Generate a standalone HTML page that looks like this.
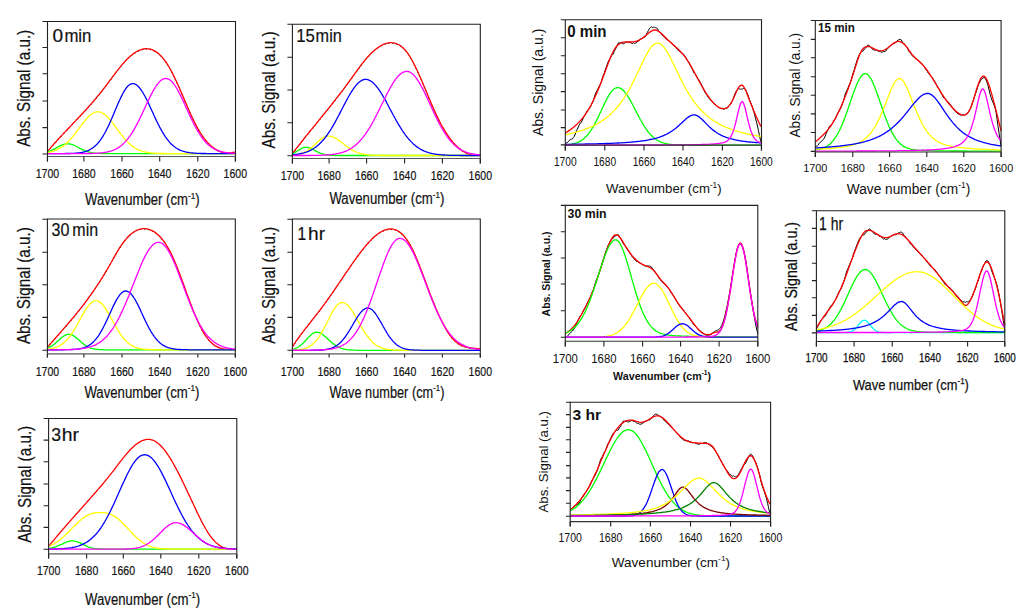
<!DOCTYPE html>
<html><head><meta charset="utf-8"><style>
html,body{margin:0;padding:0;background:#fff;}
svg{display:block;}
</style></head><body>
<svg width="1024" height="612" viewBox="0 0 1024 612">
<rect width="1024" height="612" fill="#fff"/>
<g fill="none" stroke-width="1.3" stroke-linejoin="round">
<polyline points="47.5,152.0 48.5,150.8 49.5,149.7 50.5,148.5 51.5,147.3 52.5,146.2 53.5,145.0 54.5,143.9 55.5,142.8 56.5,141.7 57.5,140.6 58.5,139.5 59.5,138.4 60.5,137.3 61.5,136.2 62.5,135.2 63.5,134.1 64.5,133.0 65.5,132.0 66.5,130.9 67.5,129.9 68.5,128.8 69.5,127.8 70.5,126.7 71.5,125.7 72.5,124.6 73.5,123.6 74.5,122.5 75.5,121.5 76.5,120.4 77.5,119.4 78.5,118.3 79.5,117.3 80.5,116.2 81.5,115.1 82.5,114.0 83.5,113.0 84.5,111.9 85.5,110.8 86.5,109.7 87.5,108.6 88.5,107.5 89.5,106.4 90.5,105.2 91.5,104.1 92.5,102.9 93.5,101.8 94.5,100.6 95.5,99.4 96.5,98.2 97.5,97.0 98.5,95.8 99.5,94.6 100.5,93.3 101.5,92.1 102.5,90.8 103.5,89.5 104.5,88.2 105.5,86.9 106.5,85.6 107.5,84.2 108.5,82.9 109.5,81.5 110.5,80.2 111.5,78.9 112.5,77.5 113.5,76.2 114.5,74.9 115.5,73.5 116.5,72.2 117.5,71.0 118.5,69.7 119.5,68.4 120.5,67.2 121.5,66.0 122.5,64.8 123.5,63.7 124.5,62.6 125.5,61.5 126.5,60.4 127.5,59.4 128.5,58.4 129.5,57.5 130.5,56.6 131.5,55.8 132.5,55.0 133.5,54.2 134.5,53.5 135.5,52.9 136.5,52.3 137.5,51.7 138.5,51.2 139.5,50.8 140.5,50.4 141.5,50.1 142.5,49.8 143.5,49.6 144.5,49.4 145.5,49.3 146.5,49.3 147.5,49.4 148.5,49.5 149.5,49.6 150.5,49.8 151.5,50.1 152.5,50.5 153.5,51.0 154.5,51.5 155.5,52.0 156.5,52.7 157.5,53.4 158.5,54.2 159.5,55.1 160.5,56.1 161.5,57.1 162.5,58.2 163.5,59.4 164.5,60.7 165.5,62.0 166.5,63.5 167.5,65.0 168.5,66.6 169.5,68.3 170.5,70.1 171.5,72.0 172.5,73.9 173.5,75.9 174.5,78.0 175.5,80.1 176.5,82.2 177.5,84.4 178.5,86.7 179.5,88.9 180.5,91.2 181.5,93.5 182.5,95.9 183.5,98.2 184.5,100.5 185.5,102.9 186.5,105.2 187.5,107.5 188.5,109.8 189.5,112.0 190.5,114.3 191.5,116.5 192.5,118.6 193.5,120.7 194.5,122.8 195.5,124.7 196.5,126.7 197.5,128.5 198.5,130.3 199.5,132.0 200.5,133.6 201.5,135.1 202.5,136.6 203.5,138.0 204.5,139.4 205.5,140.6 206.5,141.8 207.5,143.0 208.5,144.0 209.5,145.0 210.5,146.0 211.5,146.8 212.5,147.7 213.5,148.4 214.5,149.1 215.5,149.8 216.5,150.4 217.5,150.9 218.5,151.4 219.5,151.8 220.5,152.2 221.5,152.5 222.5,152.8 223.5,153.0 224.5,153.2 225.5,153.3 226.5,153.4 227.5,153.5 228.5,153.5 229.5,153.4 230.5,153.4 231.5,153.3 232.5,153.1 233.5,152.9 234.5,152.7 235.5,152.4" stroke="#000" stroke-width="1.0" stroke-dasharray="1 3"/>
<polyline points="47.5,151.4 48.5,150.2 49.5,149.1 50.5,147.9 51.5,146.7 52.5,145.6 53.5,144.4 54.5,143.3 55.5,142.2 56.5,141.1 57.5,140.0 58.5,138.9 59.5,137.8 60.5,136.7 61.5,135.6 62.5,134.6 63.5,133.5 64.5,132.4 65.5,131.4 66.5,130.3 67.5,129.3 68.5,128.2 69.5,127.2 70.5,126.1 71.5,125.1 72.5,124.0 73.5,123.0 74.5,121.9 75.5,120.9 76.5,119.8 77.5,118.8 78.5,117.7 79.5,116.7 80.5,115.6 81.5,114.5 82.5,113.4 83.5,112.4 84.5,111.3 85.5,110.2 86.5,109.1 87.5,108.0 88.5,106.9 89.5,105.8 90.5,104.6 91.5,103.5 92.5,102.3 93.5,101.2 94.5,100.0 95.5,98.8 96.5,97.6 97.5,96.4 98.5,95.2 99.5,94.0 100.5,92.7 101.5,91.5 102.5,90.2 103.5,88.9 104.5,87.6 105.5,86.3 106.5,85.0 107.5,83.6 108.5,82.3 109.5,80.9 110.5,79.6 111.5,78.3 112.5,76.9 113.5,75.6 114.5,74.3 115.5,72.9 116.5,71.6 117.5,70.4 118.5,69.1 119.5,67.8 120.5,66.6 121.5,65.4 122.5,64.2 123.5,63.1 124.5,62.0 125.5,60.9 126.5,59.8 127.5,58.8 128.5,57.8 129.5,56.9 130.5,56.0 131.5,55.2 132.5,54.4 133.5,53.6 134.5,52.9 135.5,52.3 136.5,51.7 137.5,51.1 138.5,50.6 139.5,50.2 140.5,49.8 141.5,49.5 142.5,49.2 143.5,49.0 144.5,48.8 145.5,48.7 146.5,48.7 147.5,48.8 148.5,48.9 149.5,49.0 150.5,49.2 151.5,49.5 152.5,49.9 153.5,50.4 154.5,50.9 155.5,51.4 156.5,52.1 157.5,52.8 158.5,53.6 159.5,54.5 160.5,55.5 161.5,56.5 162.5,57.6 163.5,58.8 164.5,60.1 165.5,61.4 166.5,62.9 167.5,64.4 168.5,66.0 169.5,67.7 170.5,69.5 171.5,71.4 172.5,73.3 173.5,75.3 174.5,77.4 175.5,79.5 176.5,81.6 177.5,83.8 178.5,86.1 179.5,88.3 180.5,90.6 181.5,92.9 182.5,95.3 183.5,97.6 184.5,99.9 185.5,102.3 186.5,104.6 187.5,106.9 188.5,109.2 189.5,111.4 190.5,113.7 191.5,115.9 192.5,118.0 193.5,120.1 194.5,122.2 195.5,124.1 196.5,126.1 197.5,127.9 198.5,129.7 199.5,131.4 200.5,133.0 201.5,134.5 202.5,136.0 203.5,137.4 204.5,138.8 205.5,140.0 206.5,141.2 207.5,142.4 208.5,143.4 209.5,144.4 210.5,145.4 211.5,146.2 212.5,147.1 213.5,147.8 214.5,148.5 215.5,149.2 216.5,149.8 217.5,150.3 218.5,150.8 219.5,151.2 220.5,151.6 221.5,151.9 222.5,152.2 223.5,152.4 224.5,152.6 225.5,152.7 226.5,152.8 227.5,152.9 228.5,152.9 229.5,152.8 230.5,152.8 231.5,152.7 232.5,152.5 233.5,152.3 234.5,152.1 235.5,151.8" stroke="#f00" stroke-width="1.3"/>
<polyline points="47.5,151.8 48.5,151.4 49.5,151.1 50.5,150.7 51.5,150.3 52.5,149.8 53.5,149.3 54.5,148.8 55.5,148.3 56.5,147.7 57.5,147.2 58.5,146.7 59.5,146.2 60.5,145.7 61.5,145.2 62.5,144.8 63.5,144.5 64.5,144.2 65.5,144.0 66.5,143.9 67.5,143.8 68.5,143.8 69.5,143.9 70.5,144.1 71.5,144.4 72.5,144.7 73.5,145.1 74.5,145.5 75.5,146.0 76.5,146.5 77.5,147.0 78.5,147.5 79.5,148.1 80.5,148.6 81.5,149.1 82.5,149.6 83.5,150.1 84.5,150.5 85.5,150.9 86.5,151.3 87.5,151.6 88.5,151.9 89.5,152.2 90.5,152.4 91.5,152.6 92.5,152.8 93.5,153.0 94.5,153.1 95.5,153.2 96.5,153.3 97.5,153.3 98.5,153.4 99.5,153.4 100.5,153.5 101.5,153.5 102.5,153.5 103.5,153.5 104.5,153.6 105.5,153.6 106.5,153.6 107.5,153.6 108.5,153.6 109.5,153.6 110.5,153.6 111.5,153.6 112.5,153.6 113.5,153.6 114.5,153.6 115.5,153.6 116.5,153.6 117.5,153.6 118.5,153.6 119.5,153.6 120.5,153.6 121.5,153.6 122.5,153.6 123.5,153.6 124.5,153.6 125.5,153.6 126.5,153.6 127.5,153.6 128.5,153.6 129.5,153.6 130.5,153.6 131.5,153.6 132.5,153.6 133.5,153.6 134.5,153.6 135.5,153.6 136.5,153.6 137.5,153.6 138.5,153.6 139.5,153.6 140.5,153.6 141.5,153.6 142.5,153.6 143.5,153.6 144.5,153.6 145.5,153.6 146.5,153.6 147.5,153.6 148.5,153.6 149.5,153.6 150.5,153.6 151.5,153.6 152.5,153.6 153.5,153.6 154.5,153.6 155.5,153.6 156.5,153.6 157.5,153.6 158.5,153.6 159.5,153.6 160.5,153.6 161.5,153.6 162.5,153.6 163.5,153.6 164.5,153.6 165.5,153.6 166.5,153.6 167.5,153.6 168.5,153.6 169.5,153.6 170.5,153.6 171.5,153.6 172.5,153.6 173.5,153.6 174.5,153.6 175.5,153.6 176.5,153.6 177.5,153.6 178.5,153.6 179.5,153.6 180.5,153.6 181.5,153.6 182.5,153.6 183.5,153.6 184.5,153.6 185.5,153.6 186.5,153.6 187.5,153.6 188.5,153.6 189.5,153.6 190.5,153.6 191.5,153.6 192.5,153.6 193.5,153.6 194.5,153.6 195.5,153.6 196.5,153.6 197.5,153.6 198.5,153.6 199.5,153.6 200.5,153.6 201.5,153.6 202.5,153.6 203.5,153.6 204.5,153.6 205.5,153.6 206.5,153.6 207.5,153.6 208.5,153.6 209.5,153.6 210.5,153.6 211.5,153.6 212.5,153.6 213.5,153.6 214.5,153.6 215.5,153.6 216.5,153.6 217.5,153.6 218.5,153.6 219.5,153.6 220.5,153.6 221.5,153.6 222.5,153.6 223.5,153.6 224.5,153.6 225.5,153.6 226.5,153.6 227.5,153.6 228.5,153.6 229.5,153.6 230.5,153.6 231.5,153.6 232.5,153.6 233.5,153.6 234.5,153.6 235.5,153.6" stroke="#00ff00"/>
<polyline points="47.5,152.4 48.5,152.3 49.5,152.1 50.5,151.8 51.5,151.6 52.5,151.3 53.5,151.0 54.5,150.7 55.5,150.3 56.5,149.9 57.5,149.4 58.5,148.9 59.5,148.4 60.5,147.8 61.5,147.2 62.5,146.5 63.5,145.8 64.5,145.0 65.5,144.1 66.5,143.2 67.5,142.3 68.5,141.3 69.5,140.3 70.5,139.2 71.5,138.0 72.5,136.9 73.5,135.6 74.5,134.4 75.5,133.1 76.5,131.8 77.5,130.5 78.5,129.1 79.5,127.8 80.5,126.4 81.5,125.1 82.5,123.8 83.5,122.5 84.5,121.3 85.5,120.0 86.5,118.9 87.5,117.8 88.5,116.8 89.5,115.8 90.5,115.0 91.5,114.2 92.5,113.5 93.5,113.0 94.5,112.5 95.5,112.2 96.5,111.9 97.5,111.8 98.5,111.8 99.5,111.9 100.5,112.2 101.5,112.5 102.5,113.0 103.5,113.6 104.5,114.3 105.5,115.1 106.5,116.0 107.5,117.0 108.5,118.0 109.5,119.1 110.5,120.3 111.5,121.6 112.5,122.8 113.5,124.2 114.5,125.5 115.5,126.9 116.5,128.2 117.5,129.6 118.5,131.0 119.5,132.3 120.5,133.6 121.5,134.9 122.5,136.2 123.5,137.4 124.5,138.6 125.5,139.7 126.5,140.8 127.5,141.9 128.5,142.8 129.5,143.8 130.5,144.6 131.5,145.5 132.5,146.2 133.5,146.9 134.5,147.6 135.5,148.2 136.5,148.8 137.5,149.3 138.5,149.8 139.5,150.2 140.5,150.6 141.5,151.0 142.5,151.3 143.5,151.6 144.5,151.8 145.5,152.0 146.5,152.2 147.5,152.4 148.5,152.6 149.5,152.7 150.5,152.8 151.5,153.0 152.5,153.1 153.5,153.1 154.5,153.2 155.5,153.3 156.5,153.3 157.5,153.4 158.5,153.4 159.5,153.4 160.5,153.5 161.5,153.5 162.5,153.5 163.5,153.5 164.5,153.5 165.5,153.5 166.5,153.6 167.5,153.6 168.5,153.6 169.5,153.6 170.5,153.6 171.5,153.6 172.5,153.6 173.5,153.6 174.5,153.6 175.5,153.6 176.5,153.6 177.5,153.6 178.5,153.6 179.5,153.6 180.5,153.6 181.5,153.6 182.5,153.6 183.5,153.6 184.5,153.6 185.5,153.6 186.5,153.6 187.5,153.6 188.5,153.6 189.5,153.6 190.5,153.6 191.5,153.6 192.5,153.6 193.5,153.6 194.5,153.6 195.5,153.6 196.5,153.6 197.5,153.6 198.5,153.6 199.5,153.6 200.5,153.6 201.5,153.6 202.5,153.6 203.5,153.6 204.5,153.6 205.5,153.6 206.5,153.6 207.5,153.6 208.5,153.6 209.5,153.6 210.5,153.6 211.5,153.6 212.5,153.6 213.5,153.6 214.5,153.6 215.5,153.6 216.5,153.6 217.5,153.6 218.5,153.6 219.5,153.6 220.5,153.6 221.5,153.6 222.5,153.6 223.5,153.6 224.5,153.6 225.5,153.6 226.5,153.6 227.5,153.6 228.5,153.6 229.5,153.6 230.5,153.6 231.5,153.6 232.5,153.6 233.5,153.6 234.5,153.6 235.5,153.6" stroke="#ffff00"/>
<polyline points="47.5,153.6 48.5,153.6 49.5,153.6 50.5,153.6 51.5,153.6 52.5,153.6 53.5,153.6 54.5,153.6 55.5,153.6 56.5,153.6 57.5,153.6 58.5,153.6 59.5,153.6 60.5,153.6 61.5,153.6 62.5,153.6 63.5,153.6 64.5,153.6 65.5,153.5 66.5,153.5 67.5,153.5 68.5,153.5 69.5,153.5 70.5,153.4 71.5,153.4 72.5,153.4 73.5,153.3 74.5,153.3 75.5,153.2 76.5,153.1 77.5,153.0 78.5,152.9 79.5,152.8 80.5,152.6 81.5,152.5 82.5,152.3 83.5,152.0 84.5,151.8 85.5,151.5 86.5,151.2 87.5,150.8 88.5,150.4 89.5,149.9 90.5,149.3 91.5,148.7 92.5,148.1 93.5,147.3 94.5,146.5 95.5,145.6 96.5,144.7 97.5,143.6 98.5,142.5 99.5,141.2 100.5,139.9 101.5,138.4 102.5,136.9 103.5,135.3 104.5,133.5 105.5,131.7 106.5,129.8 107.5,127.8 108.5,125.7 109.5,123.6 110.5,121.3 111.5,119.1 112.5,116.7 113.5,114.4 114.5,112.0 115.5,109.6 116.5,107.3 117.5,104.9 118.5,102.6 119.5,100.4 120.5,98.2 121.5,96.1 122.5,94.2 123.5,92.3 124.5,90.6 125.5,89.1 126.5,87.7 127.5,86.5 128.5,85.5 129.5,84.7 130.5,84.1 131.5,83.8 132.5,83.6 133.5,83.7 134.5,83.9 135.5,84.3 136.5,84.9 137.5,85.7 138.5,86.7 139.5,87.8 140.5,89.1 141.5,90.5 142.5,92.0 143.5,93.7 144.5,95.5 145.5,97.3 146.5,99.3 147.5,101.3 148.5,103.4 149.5,105.6 150.5,107.7 151.5,109.9 152.5,112.1 153.5,114.3 154.5,116.5 155.5,118.6 156.5,120.7 157.5,122.8 158.5,124.8 159.5,126.7 160.5,128.6 161.5,130.4 162.5,132.2 163.5,133.8 164.5,135.4 165.5,136.9 166.5,138.3 167.5,139.7 168.5,140.9 169.5,142.1 170.5,143.2 171.5,144.2 172.5,145.1 173.5,146.0 174.5,146.8 175.5,147.5 176.5,148.2 177.5,148.8 178.5,149.3 179.5,149.8 180.5,150.3 181.5,150.7 182.5,151.0 183.5,151.4 184.5,151.6 185.5,151.9 186.5,152.1 187.5,152.3 188.5,152.5 189.5,152.7 190.5,152.8 191.5,152.9 192.5,153.0 193.5,153.1 194.5,153.2 195.5,153.2 196.5,153.3 197.5,153.3 198.5,153.4 199.5,153.4 200.5,153.4 201.5,153.5 202.5,153.5 203.5,153.5 204.5,153.5 205.5,153.5 206.5,153.6 207.5,153.6 208.5,153.6 209.5,153.6 210.5,153.6 211.5,153.6 212.5,153.6 213.5,153.6 214.5,153.6 215.5,153.6 216.5,153.6 217.5,153.6 218.5,153.6 219.5,153.6 220.5,153.6 221.5,153.6 222.5,153.6 223.5,153.6 224.5,153.6 225.5,153.6 226.5,153.6 227.5,153.6 228.5,153.6 229.5,153.6 230.5,153.6 231.5,153.6 232.5,153.6 233.5,153.6 234.5,153.6 235.5,153.6" stroke="#0000ff"/>
<polyline points="47.5,153.6 48.5,153.6 49.5,153.6 50.5,153.6 51.5,153.6 52.5,153.6 53.5,153.6 54.5,153.6 55.5,153.6 56.5,153.6 57.5,153.6 58.5,153.6 59.5,153.6 60.5,153.6 61.5,153.6 62.5,153.6 63.5,153.6 64.5,153.6 65.5,153.6 66.5,153.6 67.5,153.6 68.5,153.6 69.5,153.6 70.5,153.6 71.5,153.6 72.5,153.6 73.5,153.6 74.5,153.6 75.5,153.6 76.5,153.6 77.5,153.6 78.5,153.6 79.5,153.6 80.5,153.6 81.5,153.6 82.5,153.6 83.5,153.6 84.5,153.6 85.5,153.5 86.5,153.5 87.5,153.5 88.5,153.5 89.5,153.5 90.5,153.5 91.5,153.5 92.5,153.4 93.5,153.4 94.5,153.4 95.5,153.3 96.5,153.3 97.5,153.2 98.5,153.1 99.5,153.1 100.5,153.0 101.5,152.9 102.5,152.8 103.5,152.7 104.5,152.5 105.5,152.4 106.5,152.2 107.5,152.0 108.5,151.7 109.5,151.5 110.5,151.2 111.5,150.9 112.5,150.5 113.5,150.2 114.5,149.7 115.5,149.3 116.5,148.7 117.5,148.2 118.5,147.6 119.5,146.9 120.5,146.2 121.5,145.4 122.5,144.5 123.5,143.6 124.5,142.6 125.5,141.6 126.5,140.4 127.5,139.2 128.5,137.9 129.5,136.6 130.5,135.2 131.5,133.7 132.5,132.1 133.5,130.4 134.5,128.7 135.5,126.9 136.5,125.1 137.5,123.1 138.5,121.2 139.5,119.2 140.5,117.1 141.5,115.0 142.5,112.9 143.5,110.7 144.5,108.6 145.5,106.4 146.5,104.2 147.5,102.1 148.5,100.0 149.5,97.9 150.5,95.9 151.5,94.0 152.5,92.1 153.5,90.3 154.5,88.6 155.5,87.0 156.5,85.5 157.5,84.1 158.5,82.9 159.5,81.8 160.5,80.8 161.5,80.0 162.5,79.4 163.5,78.9 164.5,78.6 165.5,78.5 166.5,78.5 167.5,78.8 168.5,79.1 169.5,79.7 170.5,80.4 171.5,81.3 172.5,82.4 173.5,83.6 174.5,84.9 175.5,86.4 176.5,88.0 177.5,89.7 178.5,91.6 179.5,93.5 180.5,95.4 181.5,97.5 182.5,99.6 183.5,101.8 184.5,104.0 185.5,106.2 186.5,108.4 187.5,110.6 188.5,112.8 189.5,115.0 190.5,117.1 191.5,119.2 192.5,121.3 193.5,123.3 194.5,125.3 195.5,127.2 196.5,129.0 197.5,130.7 198.5,132.4 199.5,134.0 200.5,135.5 201.5,137.0 202.5,138.3 203.5,139.6 204.5,140.8 205.5,142.0 206.5,143.0 207.5,144.0 208.5,144.9 209.5,145.8 210.5,146.5 211.5,147.3 212.5,147.9 213.5,148.5 214.5,149.1 215.5,149.6 216.5,150.0 217.5,150.4 218.5,150.8 219.5,151.1 220.5,151.4 221.5,151.7 222.5,151.9 223.5,152.1 224.5,152.3 225.5,152.5 226.5,152.6 227.5,152.8 228.5,152.9 229.5,153.0 230.5,153.1 231.5,153.1 232.5,153.2 233.5,153.3 234.5,153.3 235.5,153.4" stroke="#ff00ff"/>
</g>
<g stroke="#222" stroke-width="1.1" fill="none">
<path d="M47.5,161.5V21.5H235.5V161.5"/>
<path d="M47.5,156.5H235.5" stroke="#5a5a5a"/>
<path d="M42.5,21.5H47.5M42.5,47.5H47.5M42.5,73.8H47.5M42.5,101.0H47.5M42.5,127.6H47.5M42.5,154.0H47.5M47.4,156.5V161.5M83.9,156.5V161.5M122.0,156.5V161.5M159.7,156.5V161.5M197.8,156.5V161.5M235.3,156.5V161.5"/>
</g>
<g font-family='"Liberation Sans", sans-serif' fill="#111" stroke="#111" stroke-width="0.2">
<text x="52.6" y="41.7" font-size="18.3" textLength="10.6" lengthAdjust="spacingAndGlyphs">0</text>
<text x="64.4" y="41.7" font-size="18.3" textLength="27.0" lengthAdjust="spacingAndGlyphs">min</text>
<text x="29.8" y="146.8" font-size="18.7" textLength="117.0" lengthAdjust="spacingAndGlyphs" transform="rotate(-90 29.8 146.8)">Abs. Signal (a.u.)</text>
<text x="47.4" y="178.0" font-size="13.5" text-anchor="middle" textLength="23.4" lengthAdjust="spacingAndGlyphs">1700</text>
<text x="83.9" y="178.0" font-size="13.5" text-anchor="middle" textLength="23.4" lengthAdjust="spacingAndGlyphs">1680</text>
<text x="122.0" y="178.0" font-size="13.5" text-anchor="middle" textLength="23.4" lengthAdjust="spacingAndGlyphs">1660</text>
<text x="159.7" y="178.0" font-size="13.5" text-anchor="middle" textLength="23.4" lengthAdjust="spacingAndGlyphs">1640</text>
<text x="197.8" y="178.0" font-size="13.5" text-anchor="middle" textLength="23.4" lengthAdjust="spacingAndGlyphs">1620</text>
<text x="235.3" y="178.0" font-size="13.5" text-anchor="middle" textLength="23.4" lengthAdjust="spacingAndGlyphs">1600</text>
<text x="85.0" y="205.3" font-size="16" textLength="114.5" lengthAdjust="spacingAndGlyphs">Wavenumber (cm<tspan font-size="9.9" dy="-6.7">-1</tspan><tspan dy="6.7">)</tspan></text>
</g>
<g fill="none" stroke-width="1.3" stroke-linejoin="round">
<polyline points="292.4,154.2 293.4,152.9 294.4,151.6 295.4,150.3 296.4,149.0 297.4,147.7 298.4,146.4 299.4,145.1 300.4,143.9 301.4,142.6 302.4,141.3 303.4,140.1 304.4,138.8 305.4,137.5 306.4,136.3 307.4,135.0 308.4,133.8 309.4,132.6 310.4,131.3 311.4,130.1 312.4,128.9 313.4,127.6 314.4,126.4 315.4,125.2 316.4,123.9 317.4,122.7 318.4,121.5 319.4,120.2 320.4,119.0 321.4,117.8 322.4,116.6 323.4,115.3 324.4,114.1 325.4,112.8 326.4,111.6 327.4,110.4 328.4,109.1 329.4,107.9 330.4,106.6 331.4,105.4 332.4,104.1 333.4,102.8 334.4,101.6 335.4,100.3 336.4,99.0 337.4,97.7 338.4,96.4 339.4,95.1 340.4,93.8 341.4,92.5 342.4,91.2 343.4,89.9 344.4,88.5 345.4,87.2 346.4,85.8 347.4,84.5 348.4,83.1 349.4,81.7 350.4,80.3 351.4,79.0 352.4,77.6 353.4,76.2 354.4,74.8 355.4,73.4 356.4,72.0 357.4,70.6 358.4,69.3 359.4,67.9 360.4,66.6 361.4,65.3 362.4,64.0 363.4,62.7 364.4,61.4 365.4,60.2 366.4,59.0 367.4,57.9 368.4,56.8 369.4,55.7 370.4,54.6 371.4,53.6 372.4,52.7 373.4,51.8 374.4,50.9 375.4,50.1 376.4,49.3 377.4,48.5 378.4,47.8 379.4,47.2 380.4,46.6 381.4,46.0 382.4,45.5 383.4,45.0 384.4,44.6 385.4,44.3 386.4,44.0 387.3,43.7 388.3,43.5 389.3,43.4 390.3,43.3 391.3,43.3 392.3,43.4 393.3,43.5 394.3,43.6 395.3,43.9 396.3,44.2 397.3,44.6 398.3,45.1 399.3,45.6 400.3,46.2 401.3,47.0 402.3,47.8 403.3,48.7 404.3,49.7 405.3,50.8 406.3,52.0 407.3,53.3 408.3,54.8 409.3,56.3 410.3,57.9 411.3,59.6 412.3,61.4 413.3,63.3 414.3,65.2 415.3,67.2 416.3,69.3 417.3,71.4 418.3,73.6 419.3,75.8 420.3,78.1 421.3,80.4 422.3,82.7 423.3,85.1 424.3,87.4 425.3,89.8 426.3,92.2 427.3,94.6 428.3,97.0 429.3,99.4 430.3,101.7 431.3,104.1 432.3,106.4 433.3,108.7 434.3,110.9 435.3,113.1 436.3,115.3 437.3,117.4 438.3,119.5 439.3,121.5 440.3,123.4 441.3,125.3 442.3,127.1 443.3,128.8 444.3,130.5 445.3,132.2 446.3,133.7 447.3,135.3 448.3,136.7 449.3,138.1 450.3,139.5 451.3,140.8 452.3,142.0 453.3,143.2 454.3,144.3 455.3,145.4 456.3,146.4 457.3,147.4 458.3,148.3 459.3,149.1 460.3,149.9 461.3,150.7 462.3,151.4 463.3,152.0 464.3,152.6 465.3,153.1 466.3,153.6 467.3,154.1 468.3,154.4 469.3,154.8 470.3,155.0 471.3,155.3 472.3,155.5 473.3,155.6 474.3,155.7 475.3,155.7 476.3,155.7 477.3,155.6 478.3,155.5 479.3,155.3 480.3,155.1" stroke="#000" stroke-width="1.0" stroke-dasharray="1 3"/>
<polyline points="292.4,153.6 293.4,152.3 294.4,151.0 295.4,149.7 296.4,148.4 297.4,147.1 298.4,145.8 299.4,144.5 300.4,143.3 301.4,142.0 302.4,140.7 303.4,139.5 304.4,138.2 305.4,136.9 306.4,135.7 307.4,134.4 308.4,133.2 309.4,132.0 310.4,130.7 311.4,129.5 312.4,128.3 313.4,127.0 314.4,125.8 315.4,124.6 316.4,123.3 317.4,122.1 318.4,120.9 319.4,119.6 320.4,118.4 321.4,117.2 322.4,116.0 323.4,114.7 324.4,113.5 325.4,112.2 326.4,111.0 327.4,109.8 328.4,108.5 329.4,107.3 330.4,106.0 331.4,104.8 332.4,103.5 333.4,102.2 334.4,101.0 335.4,99.7 336.4,98.4 337.4,97.1 338.4,95.8 339.4,94.5 340.4,93.2 341.4,91.9 342.4,90.6 343.4,89.3 344.4,87.9 345.4,86.6 346.4,85.2 347.4,83.9 348.4,82.5 349.4,81.1 350.4,79.7 351.4,78.4 352.4,77.0 353.4,75.6 354.4,74.2 355.4,72.8 356.4,71.4 357.4,70.0 358.4,68.7 359.4,67.3 360.4,66.0 361.4,64.7 362.4,63.4 363.4,62.1 364.4,60.8 365.4,59.6 366.4,58.4 367.4,57.3 368.4,56.2 369.4,55.1 370.4,54.0 371.4,53.0 372.4,52.1 373.4,51.2 374.4,50.3 375.4,49.5 376.4,48.7 377.4,47.9 378.4,47.2 379.4,46.6 380.4,46.0 381.4,45.4 382.4,44.9 383.4,44.4 384.4,44.0 385.4,43.7 386.4,43.4 387.3,43.1 388.3,42.9 389.3,42.8 390.3,42.7 391.3,42.7 392.3,42.8 393.3,42.9 394.3,43.0 395.3,43.3 396.3,43.6 397.3,44.0 398.3,44.5 399.3,45.0 400.3,45.6 401.3,46.4 402.3,47.2 403.3,48.1 404.3,49.1 405.3,50.2 406.3,51.4 407.3,52.7 408.3,54.2 409.3,55.7 410.3,57.3 411.3,59.0 412.3,60.8 413.3,62.7 414.3,64.6 415.3,66.6 416.3,68.7 417.3,70.8 418.3,73.0 419.3,75.2 420.3,77.5 421.3,79.8 422.3,82.1 423.3,84.5 424.3,86.8 425.3,89.2 426.3,91.6 427.3,94.0 428.3,96.4 429.3,98.8 430.3,101.1 431.3,103.5 432.3,105.8 433.3,108.1 434.3,110.3 435.3,112.5 436.3,114.7 437.3,116.8 438.3,118.9 439.3,120.9 440.3,122.8 441.3,124.7 442.3,126.5 443.3,128.2 444.3,129.9 445.3,131.6 446.3,133.1 447.3,134.7 448.3,136.1 449.3,137.5 450.3,138.9 451.3,140.2 452.3,141.4 453.3,142.6 454.3,143.7 455.3,144.8 456.3,145.8 457.3,146.8 458.3,147.7 459.3,148.5 460.3,149.3 461.3,150.1 462.3,150.8 463.3,151.4 464.3,152.0 465.3,152.5 466.3,153.0 467.3,153.5 468.3,153.8 469.3,154.2 470.3,154.4 471.3,154.7 472.3,154.9 473.3,155.0 474.3,155.1 475.3,155.1 476.3,155.1 477.3,155.0 478.3,154.9 479.3,154.7 480.3,154.5" stroke="#f00" stroke-width="1.3"/>
<polyline points="292.4,153.7 293.4,153.3 294.4,152.8 295.4,152.2 296.4,151.6 297.4,151.0 298.4,150.3 299.4,149.7 300.4,149.1 301.4,148.5 302.4,148.0 303.4,147.7 304.4,147.4 305.4,147.3 306.4,147.3 307.4,147.4 308.4,147.6 309.4,147.9 310.4,148.3 311.4,148.7 312.4,149.2 313.4,149.7 314.4,150.3 315.4,150.8 316.4,151.3 317.4,151.9 318.4,152.3 319.4,152.8 320.4,153.2 321.4,153.6 322.4,153.9 323.4,154.2 324.4,154.5 325.4,154.7 326.4,154.9 327.4,155.0 328.4,155.1 329.4,155.2 330.4,155.3 331.4,155.3 332.4,155.4 333.4,155.4 334.4,155.4 335.4,155.5 336.4,155.5 337.4,155.5 338.4,155.5 339.4,155.5 340.4,155.5 341.4,155.5 342.4,155.5 343.4,155.5 344.4,155.5 345.4,155.5 346.4,155.5 347.4,155.5 348.4,155.5 349.4,155.5 350.4,155.5 351.4,155.5 352.4,155.5 353.4,155.5 354.4,155.5 355.4,155.5 356.4,155.5 357.4,155.5 358.4,155.5 359.4,155.5 360.4,155.5 361.4,155.5 362.4,155.5 363.4,155.5 364.4,155.5 365.4,155.5 366.4,155.5 367.4,155.5 368.4,155.5 369.4,155.5 370.4,155.5 371.4,155.5 372.4,155.5 373.4,155.5 374.4,155.5 375.4,155.5 376.4,155.5 377.4,155.5 378.4,155.5 379.4,155.5 380.4,155.5 381.4,155.5 382.4,155.5 383.4,155.5 384.4,155.5 385.4,155.5 386.4,155.5 387.3,155.5 388.3,155.5 389.3,155.5 390.3,155.5 391.3,155.5 392.3,155.5 393.3,155.5 394.3,155.5 395.3,155.5 396.3,155.5 397.3,155.5 398.3,155.5 399.3,155.5 400.3,155.5 401.3,155.5 402.3,155.5 403.3,155.5 404.3,155.5 405.3,155.5 406.3,155.5 407.3,155.5 408.3,155.5 409.3,155.5 410.3,155.5 411.3,155.5 412.3,155.5 413.3,155.5 414.3,155.5 415.3,155.5 416.3,155.5 417.3,155.5 418.3,155.5 419.3,155.5 420.3,155.5 421.3,155.5 422.3,155.5 423.3,155.5 424.3,155.5 425.3,155.5 426.3,155.5 427.3,155.5 428.3,155.5 429.3,155.5 430.3,155.5 431.3,155.5 432.3,155.5 433.3,155.5 434.3,155.5 435.3,155.5 436.3,155.5 437.3,155.5 438.3,155.5 439.3,155.5 440.3,155.5 441.3,155.5 442.3,155.5 443.3,155.5 444.3,155.5 445.3,155.5 446.3,155.5 447.3,155.5 448.3,155.5 449.3,155.5 450.3,155.5 451.3,155.5 452.3,155.5 453.3,155.5 454.3,155.5 455.3,155.5 456.3,155.5 457.3,155.5 458.3,155.5 459.3,155.5 460.3,155.5 461.3,155.5 462.3,155.5 463.3,155.5 464.3,155.5 465.3,155.5 466.3,155.5 467.3,155.5 468.3,155.5 469.3,155.5 470.3,155.5 471.3,155.5 472.3,155.5 473.3,155.5 474.3,155.5 475.3,155.5 476.3,155.5 477.3,155.5 478.3,155.5 479.3,155.5 480.3,155.5" stroke="#00ff00"/>
<polyline points="292.4,155.2 293.4,155.1 294.4,155.0 295.4,154.9 296.4,154.7 297.4,154.6 298.4,154.4 299.4,154.1 300.4,153.9 301.4,153.6 302.4,153.2 303.4,152.8 304.4,152.4 305.4,151.8 306.4,151.3 307.4,150.7 308.4,150.0 309.4,149.3 310.4,148.5 311.4,147.7 312.4,146.8 313.4,145.9 314.4,145.0 315.4,144.0 316.4,143.1 317.4,142.2 318.4,141.3 319.4,140.4 320.4,139.6 321.4,138.8 322.4,138.1 323.4,137.5 324.4,137.0 325.4,136.6 326.4,136.3 327.4,136.1 328.4,136.1 329.4,136.2 330.4,136.3 331.4,136.5 332.4,136.8 333.4,137.2 334.4,137.7 335.4,138.2 336.4,138.8 337.4,139.4 338.4,140.1 339.4,140.8 340.4,141.5 341.4,142.3 342.4,143.1 343.4,143.8 344.4,144.6 345.4,145.4 346.4,146.2 347.4,146.9 348.4,147.6 349.4,148.3 350.4,149.0 351.4,149.6 352.4,150.2 353.4,150.7 354.4,151.2 355.4,151.7 356.4,152.1 357.4,152.5 358.4,152.9 359.4,153.2 360.4,153.5 361.4,153.8 362.4,154.0 363.4,154.2 364.4,154.4 365.4,154.6 366.4,154.7 367.4,154.8 368.4,155.0 369.4,155.0 370.4,155.1 371.4,155.2 372.4,155.2 373.4,155.3 374.4,155.3 375.4,155.4 376.4,155.4 377.4,155.4 378.4,155.4 379.4,155.4 380.4,155.5 381.4,155.5 382.4,155.5 383.4,155.5 384.4,155.5 385.4,155.5 386.4,155.5 387.3,155.5 388.3,155.5 389.3,155.5 390.3,155.5 391.3,155.5 392.3,155.5 393.3,155.5 394.3,155.5 395.3,155.5 396.3,155.5 397.3,155.5 398.3,155.5 399.3,155.5 400.3,155.5 401.3,155.5 402.3,155.5 403.3,155.5 404.3,155.5 405.3,155.5 406.3,155.5 407.3,155.5 408.3,155.5 409.3,155.5 410.3,155.5 411.3,155.5 412.3,155.5 413.3,155.5 414.3,155.5 415.3,155.5 416.3,155.5 417.3,155.5 418.3,155.5 419.3,155.5 420.3,155.5 421.3,155.5 422.3,155.5 423.3,155.5 424.3,155.5 425.3,155.5 426.3,155.5 427.3,155.5 428.3,155.5 429.3,155.5 430.3,155.5 431.3,155.5 432.3,155.5 433.3,155.5 434.3,155.5 435.3,155.5 436.3,155.5 437.3,155.5 438.3,155.5 439.3,155.5 440.3,155.5 441.3,155.5 442.3,155.5 443.3,155.5 444.3,155.5 445.3,155.5 446.3,155.5 447.3,155.5 448.3,155.5 449.3,155.5 450.3,155.5 451.3,155.5 452.3,155.5 453.3,155.5 454.3,155.5 455.3,155.5 456.3,155.5 457.3,155.5 458.3,155.5 459.3,155.5 460.3,155.5 461.3,155.5 462.3,155.5 463.3,155.5 464.3,155.5 465.3,155.5 466.3,155.5 467.3,155.5 468.3,155.5 469.3,155.5 470.3,155.5 471.3,155.5 472.3,155.5 473.3,155.5 474.3,155.5 475.3,155.5 476.3,155.5 477.3,155.5 478.3,155.5 479.3,155.5 480.3,155.5" stroke="#ffff00"/>
<polyline points="292.4,154.8 293.4,154.7 294.4,154.6 295.4,154.5 296.4,154.4 297.4,154.3 298.4,154.1 299.4,153.9 300.4,153.7 301.4,153.5 302.4,153.3 303.4,153.0 304.4,152.7 305.4,152.4 306.4,152.1 307.4,151.7 308.4,151.3 309.4,150.8 310.4,150.4 311.4,149.8 312.4,149.3 313.4,148.7 314.4,148.0 315.4,147.3 316.4,146.6 317.4,145.8 318.4,144.9 319.4,144.0 320.4,143.0 321.4,142.0 322.4,140.9 323.4,139.8 324.4,138.6 325.4,137.3 326.4,136.0 327.4,134.6 328.4,133.1 329.4,131.6 330.4,130.1 331.4,128.5 332.4,126.8 333.4,125.1 334.4,123.4 335.4,121.6 336.4,119.7 337.4,117.9 338.4,116.0 339.4,114.1 340.4,112.1 341.4,110.2 342.4,108.3 343.4,106.3 344.4,104.4 345.4,102.5 346.4,100.6 347.4,98.8 348.4,97.0 349.4,95.2 350.4,93.5 351.4,91.9 352.4,90.3 353.4,88.8 354.4,87.4 355.4,86.1 356.4,84.9 357.4,83.8 358.4,82.8 359.4,82.0 360.4,81.2 361.4,80.6 362.4,80.1 363.4,79.7 364.4,79.5 365.4,79.4 366.4,79.4 367.4,79.6 368.4,79.9 369.4,80.3 370.4,80.8 371.4,81.5 372.4,82.2 373.4,83.1 374.4,84.1 375.4,85.1 376.4,86.3 377.4,87.6 378.4,88.9 379.4,90.4 380.4,91.9 381.4,93.5 382.4,95.1 383.4,96.8 384.4,98.5 385.4,100.3 386.4,102.1 387.3,104.0 388.3,105.8 389.3,107.7 390.3,109.6 391.3,111.4 392.3,113.3 393.3,115.2 394.3,117.0 395.3,118.8 396.3,120.6 397.3,122.3 398.3,124.1 399.3,125.7 400.3,127.4 401.3,128.9 402.3,130.5 403.3,132.0 404.3,133.4 405.3,134.8 406.3,136.1 407.3,137.4 408.3,138.6 409.3,139.8 410.3,140.9 411.3,141.9 412.3,142.9 413.3,143.9 414.3,144.8 415.3,145.6 416.3,146.4 417.3,147.1 418.3,147.8 419.3,148.5 420.3,149.1 421.3,149.6 422.3,150.1 423.3,150.6 424.3,151.1 425.3,151.5 426.3,151.9 427.3,152.2 428.3,152.5 429.3,152.8 430.3,153.1 431.3,153.3 432.3,153.6 433.3,153.8 434.3,153.9 435.3,154.1 436.3,154.3 437.3,154.4 438.3,154.5 439.3,154.6 440.3,154.7 441.3,154.8 442.3,154.9 443.3,155.0 444.3,155.0 445.3,155.1 446.3,155.1 447.3,155.2 448.3,155.2 449.3,155.3 450.3,155.3 451.3,155.3 452.3,155.3 453.3,155.4 454.3,155.4 455.3,155.4 456.3,155.4 457.3,155.4 458.3,155.4 459.3,155.4 460.3,155.5 461.3,155.5 462.3,155.5 463.3,155.5 464.3,155.5 465.3,155.5 466.3,155.5 467.3,155.5 468.3,155.5 469.3,155.5 470.3,155.5 471.3,155.5 472.3,155.5 473.3,155.5 474.3,155.5 475.3,155.5 476.3,155.5 477.3,155.5 478.3,155.5 479.3,155.5 480.3,155.5" stroke="#0000ff"/>
<polyline points="292.4,155.5 293.4,155.5 294.4,155.5 295.4,155.5 296.4,155.5 297.4,155.5 298.4,155.5 299.4,155.5 300.4,155.5 301.4,155.5 302.4,155.5 303.4,155.5 304.4,155.5 305.4,155.5 306.4,155.5 307.4,155.5 308.4,155.5 309.4,155.5 310.4,155.4 311.4,155.4 312.4,155.4 313.4,155.4 314.4,155.4 315.4,155.4 316.4,155.4 317.4,155.4 318.4,155.3 319.4,155.3 320.4,155.3 321.4,155.2 322.4,155.2 323.4,155.2 324.4,155.1 325.4,155.1 326.4,155.0 327.4,154.9 328.4,154.9 329.4,154.8 330.4,154.7 331.4,154.6 332.4,154.5 333.4,154.4 334.4,154.2 335.4,154.1 336.4,153.9 337.4,153.7 338.4,153.5 339.4,153.2 340.4,153.0 341.4,152.7 342.4,152.4 343.4,152.1 344.4,151.7 345.4,151.3 346.4,150.9 347.4,150.5 348.4,150.0 349.4,149.4 350.4,148.8 351.4,148.2 352.4,147.6 353.4,146.8 354.4,146.1 355.4,145.3 356.4,144.4 357.4,143.5 358.4,142.5 359.4,141.5 360.4,140.4 361.4,139.3 362.4,138.1 363.4,136.8 364.4,135.5 365.4,134.1 366.4,132.6 367.4,131.1 368.4,129.6 369.4,128.0 370.4,126.3 371.4,124.6 372.4,122.8 373.4,121.0 374.4,119.1 375.4,117.2 376.4,115.3 377.4,113.3 378.4,111.4 379.4,109.3 380.4,107.3 381.4,105.3 382.4,103.3 383.4,101.2 384.4,99.2 385.4,97.2 386.4,95.2 387.3,93.3 388.3,91.4 389.3,89.5 390.3,87.7 391.3,86.0 392.3,84.3 393.3,82.7 394.3,81.2 395.3,79.7 396.3,78.4 397.3,77.2 398.3,76.1 399.3,75.0 400.3,74.1 401.3,73.4 402.3,72.7 403.3,72.2 404.3,71.8 405.3,71.5 406.3,71.4 407.3,71.4 408.3,71.6 409.3,71.9 410.3,72.4 411.3,73.0 412.3,73.7 413.3,74.6 414.3,75.7 415.3,76.8 416.3,78.1 417.3,79.5 418.3,81.1 419.3,82.7 420.3,84.4 421.3,86.2 422.3,88.1 423.3,90.0 424.3,92.0 425.3,94.1 426.3,96.2 427.3,98.3 428.3,100.5 429.3,102.7 430.3,104.9 431.3,107.0 432.3,109.2 433.3,111.4 434.3,113.5 435.3,115.6 436.3,117.7 437.3,119.7 438.3,121.7 439.3,123.6 440.3,125.5 441.3,127.3 442.3,129.0 443.3,130.7 444.3,132.4 445.3,133.9 446.3,135.4 447.3,136.8 448.3,138.2 449.3,139.5 450.3,140.7 451.3,141.8 452.3,142.9 453.3,143.9 454.3,144.9 455.3,145.8 456.3,146.6 457.3,147.4 458.3,148.1 459.3,148.8 460.3,149.4 461.3,150.0 462.3,150.5 463.3,151.0 464.3,151.4 465.3,151.9 466.3,152.2 467.3,152.6 468.3,152.9 469.3,153.2 470.3,153.4 471.3,153.6 472.3,153.9 473.3,154.0 474.3,154.2 475.3,154.4 476.3,154.5 477.3,154.6 478.3,154.7 479.3,154.8 480.3,154.9" stroke="#ff00ff"/>
</g>
<g stroke="#222" stroke-width="1.1" fill="none">
<path d="M292.4,163.5V24.3H480.3V163.5"/>
<path d="M292.4,158.5H480.3" stroke="#5a5a5a"/>
<path d="M287.4,24.3H292.4M287.4,57.2H292.4M287.4,90.0H292.4M287.4,122.8H292.4M287.4,155.7H292.4M292.4,158.5V163.5M329.1,158.5V163.5M366.6,158.5V163.5M404.6,158.5V163.5M442.4,158.5V163.5M480.3,158.5V163.5"/>
</g>
<g font-family='"Liberation Sans", sans-serif' fill="#111" stroke="#111" stroke-width="0.2">
<text x="296.3" y="41.5" font-size="18.3" textLength="18.6" lengthAdjust="spacingAndGlyphs">15</text>
<text x="315.6" y="41.5" font-size="18.3" textLength="26.2" lengthAdjust="spacingAndGlyphs">min</text>
<text x="274.6" y="148.4" font-size="18.7" textLength="117.0" lengthAdjust="spacingAndGlyphs" transform="rotate(-90 274.6 148.4)">Abs. Signal (a.u.)</text>
<text x="292.4" y="180.2" font-size="13.5" text-anchor="middle" textLength="23.4" lengthAdjust="spacingAndGlyphs">1700</text>
<text x="329.1" y="180.2" font-size="13.5" text-anchor="middle" textLength="23.4" lengthAdjust="spacingAndGlyphs">1680</text>
<text x="366.6" y="180.2" font-size="13.5" text-anchor="middle" textLength="23.4" lengthAdjust="spacingAndGlyphs">1660</text>
<text x="404.6" y="180.2" font-size="13.5" text-anchor="middle" textLength="23.4" lengthAdjust="spacingAndGlyphs">1640</text>
<text x="442.4" y="180.2" font-size="13.5" text-anchor="middle" textLength="23.4" lengthAdjust="spacingAndGlyphs">1620</text>
<text x="480.3" y="180.2" font-size="13.5" text-anchor="middle" textLength="23.4" lengthAdjust="spacingAndGlyphs">1600</text>
<text x="329.4" y="204.3" font-size="16" textLength="115.0" lengthAdjust="spacingAndGlyphs">Wavenumber (cm<tspan font-size="9.9" dy="-6.7">-1</tspan><tspan dy="6.7">)</tspan></text>
</g>
<g fill="none" stroke-width="1.3" stroke-linejoin="round">
<polyline points="47.4,347.8 48.4,346.7 49.4,345.5 50.4,344.4 51.4,343.2 52.4,342.1 53.4,341.0 54.4,339.8 55.4,338.7 56.4,337.6 57.4,336.4 58.4,335.3 59.4,334.2 60.4,333.0 61.4,331.9 62.4,330.7 63.4,329.6 64.4,328.4 65.4,327.3 66.4,326.1 67.4,325.0 68.4,323.8 69.4,322.6 70.4,321.4 71.4,320.3 72.4,319.1 73.4,317.9 74.4,316.7 75.4,315.4 76.4,314.2 77.4,313.0 78.4,311.7 79.4,310.5 80.4,309.2 81.4,308.0 82.4,306.7 83.4,305.4 84.4,304.1 85.4,302.7 86.4,301.4 87.4,300.1 88.4,298.7 89.4,297.3 90.4,295.9 91.4,294.5 92.4,293.1 93.4,291.7 94.4,290.2 95.4,288.7 96.4,287.2 97.4,285.7 98.4,284.2 99.4,282.7 100.4,281.1 101.4,279.5 102.4,277.9 103.4,276.3 104.4,274.7 105.4,273.0 106.4,271.3 107.4,269.6 108.4,267.9 109.4,266.1 110.4,264.4 111.4,262.6 112.4,260.8 113.4,259.0 114.4,257.3 115.4,255.5 116.4,253.8 117.4,252.1 118.4,250.4 119.4,248.8 120.4,247.2 121.4,245.7 122.4,244.3 123.4,242.9 124.4,241.6 125.4,240.4 126.4,239.2 127.4,238.1 128.4,237.1 129.4,236.1 130.4,235.2 131.4,234.3 132.4,233.6 133.4,232.8 134.4,232.2 135.4,231.6 136.4,231.1 137.4,230.6 138.4,230.3 139.4,229.9 140.4,229.7 141.3,229.5 142.3,229.3 143.3,229.3 144.3,229.2 145.3,229.3 146.3,229.4 147.3,229.6 148.3,229.8 149.3,230.1 150.3,230.5 151.3,230.9 152.3,231.4 153.3,231.9 154.3,232.5 155.3,233.2 156.3,233.9 157.3,234.8 158.3,235.6 159.3,236.6 160.3,237.6 161.3,238.8 162.3,240.0 163.3,241.2 164.3,242.6 165.3,244.0 166.3,245.6 167.3,247.2 168.3,248.9 169.3,250.7 170.3,252.6 171.3,254.6 172.3,256.7 173.3,258.8 174.3,261.1 175.3,263.5 176.3,265.9 177.3,268.4 178.3,271.0 179.3,273.6 180.3,276.2 181.3,278.9 182.3,281.6 183.3,284.4 184.3,287.1 185.3,289.9 186.3,292.7 187.3,295.4 188.3,298.1 189.3,300.9 190.3,303.5 191.3,306.2 192.3,308.8 193.3,311.3 194.3,313.8 195.3,316.2 196.3,318.5 197.3,320.8 198.3,323.0 199.3,325.1 200.3,327.2 201.3,329.1 202.3,331.0 203.3,332.7 204.3,334.4 205.3,335.9 206.3,337.4 207.3,338.7 208.3,340.0 209.3,341.2 210.3,342.2 211.3,343.2 212.3,344.1 213.3,345.0 214.3,345.7 215.3,346.4 216.3,346.9 217.3,347.5 218.3,347.9 219.3,348.3 220.3,348.7 221.3,348.9 222.3,349.2 223.3,349.4 224.3,349.6 225.3,349.7 226.3,349.8 227.3,349.9 228.3,350.0 229.3,350.1 230.3,350.1 231.3,350.2 232.3,350.3 233.3,350.4 234.3,350.5 235.3,350.6" stroke="#000" stroke-width="1.0" stroke-dasharray="1 3"/>
<polyline points="47.4,347.2 48.4,346.1 49.4,344.9 50.4,343.8 51.4,342.6 52.4,341.5 53.4,340.4 54.4,339.2 55.4,338.1 56.4,337.0 57.4,335.8 58.4,334.7 59.4,333.6 60.4,332.4 61.4,331.3 62.4,330.1 63.4,329.0 64.4,327.8 65.4,326.7 66.4,325.5 67.4,324.4 68.4,323.2 69.4,322.0 70.4,320.8 71.4,319.7 72.4,318.5 73.4,317.3 74.4,316.1 75.4,314.8 76.4,313.6 77.4,312.4 78.4,311.1 79.4,309.9 80.4,308.6 81.4,307.4 82.4,306.1 83.4,304.8 84.4,303.5 85.4,302.1 86.4,300.8 87.4,299.5 88.4,298.1 89.4,296.7 90.4,295.3 91.4,293.9 92.4,292.5 93.4,291.1 94.4,289.6 95.4,288.1 96.4,286.6 97.4,285.1 98.4,283.6 99.4,282.1 100.4,280.5 101.4,278.9 102.4,277.3 103.4,275.7 104.4,274.1 105.4,272.4 106.4,270.7 107.4,269.0 108.4,267.3 109.4,265.5 110.4,263.8 111.4,262.0 112.4,260.2 113.4,258.4 114.4,256.7 115.4,254.9 116.4,253.2 117.4,251.5 118.4,249.8 119.4,248.2 120.4,246.6 121.4,245.1 122.4,243.7 123.4,242.3 124.4,241.0 125.4,239.8 126.4,238.6 127.4,237.5 128.4,236.5 129.4,235.5 130.4,234.6 131.4,233.7 132.4,233.0 133.4,232.2 134.4,231.6 135.4,231.0 136.4,230.5 137.4,230.0 138.4,229.7 139.4,229.3 140.4,229.1 141.3,228.9 142.3,228.7 143.3,228.7 144.3,228.6 145.3,228.7 146.3,228.8 147.3,229.0 148.3,229.2 149.3,229.5 150.3,229.9 151.3,230.3 152.3,230.8 153.3,231.3 154.3,231.9 155.3,232.6 156.3,233.3 157.3,234.2 158.3,235.0 159.3,236.0 160.3,237.0 161.3,238.2 162.3,239.4 163.3,240.6 164.3,242.0 165.3,243.4 166.3,245.0 167.3,246.6 168.3,248.3 169.3,250.1 170.3,252.0 171.3,254.0 172.3,256.1 173.3,258.2 174.3,260.5 175.3,262.9 176.3,265.3 177.3,267.8 178.3,270.4 179.3,273.0 180.3,275.6 181.3,278.3 182.3,281.0 183.3,283.8 184.3,286.5 185.3,289.3 186.3,292.1 187.3,294.8 188.3,297.5 189.3,300.3 190.3,302.9 191.3,305.6 192.3,308.2 193.3,310.7 194.3,313.2 195.3,315.6 196.3,317.9 197.3,320.2 198.3,322.4 199.3,324.5 200.3,326.6 201.3,328.5 202.3,330.4 203.3,332.1 204.3,333.8 205.3,335.3 206.3,336.8 207.3,338.1 208.3,339.4 209.3,340.6 210.3,341.6 211.3,342.6 212.3,343.5 213.3,344.4 214.3,345.1 215.3,345.8 216.3,346.3 217.3,346.9 218.3,347.3 219.3,347.7 220.3,348.1 221.3,348.3 222.3,348.6 223.3,348.8 224.3,349.0 225.3,349.1 226.3,349.2 227.3,349.3 228.3,349.4 229.3,349.5 230.3,349.5 231.3,349.6 232.3,349.7 233.3,349.8 234.3,349.9 235.3,350.0" stroke="#f00" stroke-width="1.3"/>
<polyline points="47.4,348.0 48.4,347.6 49.4,347.2 50.4,346.7 51.4,346.1 52.4,345.5 53.4,344.8 54.4,344.0 55.4,343.2 56.4,342.3 57.4,341.4 58.4,340.5 59.4,339.6 60.4,338.7 61.4,337.8 62.4,337.0 63.4,336.3 64.4,335.7 65.4,335.1 66.4,334.7 67.4,334.4 68.4,334.3 69.4,334.3 70.4,334.5 71.4,334.8 72.4,335.2 73.4,335.7 74.4,336.4 75.4,337.1 76.4,337.9 77.4,338.7 78.4,339.6 79.4,340.5 80.4,341.4 81.4,342.3 82.4,343.1 83.4,343.9 84.4,344.7 85.4,345.4 86.4,346.0 87.4,346.6 88.4,347.1 89.4,347.6 90.4,348.0 91.4,348.3 92.4,348.6 93.4,348.8 94.4,349.0 95.4,349.2 96.4,349.3 97.4,349.4 98.4,349.5 99.4,349.6 100.4,349.6 101.4,349.7 102.4,349.7 103.4,349.7 104.4,349.8 105.4,349.8 106.4,349.8 107.4,349.8 108.4,349.8 109.4,349.8 110.4,349.8 111.4,349.8 112.4,349.8 113.4,349.8 114.4,349.8 115.4,349.8 116.4,349.8 117.4,349.8 118.4,349.8 119.4,349.8 120.4,349.8 121.4,349.8 122.4,349.8 123.4,349.8 124.4,349.8 125.4,349.8 126.4,349.8 127.4,349.8 128.4,349.8 129.4,349.8 130.4,349.8 131.4,349.8 132.4,349.8 133.4,349.8 134.4,349.8 135.4,349.8 136.4,349.8 137.4,349.8 138.4,349.8 139.4,349.8 140.4,349.8 141.3,349.8 142.3,349.8 143.3,349.8 144.3,349.8 145.3,349.8 146.3,349.8 147.3,349.8 148.3,349.8 149.3,349.8 150.3,349.8 151.3,349.8 152.3,349.8 153.3,349.8 154.3,349.8 155.3,349.8 156.3,349.8 157.3,349.8 158.3,349.8 159.3,349.8 160.3,349.8 161.3,349.8 162.3,349.8 163.3,349.8 164.3,349.8 165.3,349.8 166.3,349.8 167.3,349.8 168.3,349.8 169.3,349.8 170.3,349.8 171.3,349.8 172.3,349.8 173.3,349.8 174.3,349.8 175.3,349.8 176.3,349.8 177.3,349.8 178.3,349.8 179.3,349.8 180.3,349.8 181.3,349.8 182.3,349.8 183.3,349.8 184.3,349.8 185.3,349.8 186.3,349.8 187.3,349.8 188.3,349.8 189.3,349.8 190.3,349.8 191.3,349.8 192.3,349.8 193.3,349.8 194.3,349.8 195.3,349.8 196.3,349.8 197.3,349.8 198.3,349.8 199.3,349.8 200.3,349.8 201.3,349.8 202.3,349.8 203.3,349.8 204.3,349.8 205.3,349.8 206.3,349.8 207.3,349.8 208.3,349.8 209.3,349.8 210.3,349.8 211.3,349.8 212.3,349.8 213.3,349.8 214.3,349.8 215.3,349.8 216.3,349.8 217.3,349.8 218.3,349.8 219.3,349.8 220.3,349.8 221.3,349.8 222.3,349.8 223.3,349.8 224.3,349.8 225.3,349.8 226.3,349.8 227.3,349.8 228.3,349.8 229.3,349.8 230.3,349.8 231.3,349.8 232.3,349.8 233.3,349.8 234.3,349.8 235.3,349.8" stroke="#00ff00"/>
<polyline points="47.4,349.2 48.4,349.1 49.4,349.0 50.4,348.8 51.4,348.6 52.4,348.4 53.4,348.2 54.4,347.9 55.4,347.6 56.4,347.2 57.4,346.8 58.4,346.4 59.4,345.9 60.4,345.3 61.4,344.6 62.4,343.9 63.4,343.2 64.4,342.3 65.4,341.4 66.4,340.4 67.4,339.3 68.4,338.1 69.4,336.9 70.4,335.5 71.4,334.1 72.4,332.6 73.4,331.1 74.4,329.4 75.4,327.8 76.4,326.0 77.4,324.3 78.4,322.5 79.4,320.6 80.4,318.8 81.4,317.0 82.4,315.2 83.4,313.5 84.4,311.8 85.4,310.2 86.4,308.6 87.4,307.2 88.4,305.9 89.4,304.7 90.4,303.6 91.4,302.7 92.4,302.0 93.4,301.4 94.4,301.0 95.4,300.8 96.4,300.8 97.4,301.0 98.4,301.3 99.4,301.9 100.4,302.6 101.4,303.4 102.4,304.5 103.4,305.7 104.4,307.0 105.4,308.4 106.4,309.9 107.4,311.6 108.4,313.3 109.4,315.0 110.4,316.8 111.4,318.7 112.4,320.5 113.4,322.3 114.4,324.2 115.4,325.9 116.4,327.7 117.4,329.4 118.4,331.0 119.4,332.6 120.4,334.1 121.4,335.5 122.4,336.9 123.4,338.2 124.4,339.3 125.4,340.4 126.4,341.4 127.4,342.4 128.4,343.2 129.4,344.0 130.4,344.7 131.4,345.4 132.4,345.9 133.4,346.4 134.4,346.9 135.4,347.3 136.4,347.7 137.4,348.0 138.4,348.2 139.4,348.5 140.4,348.7 141.3,348.9 142.3,349.0 143.3,349.1 144.3,349.2 145.3,349.3 146.3,349.4 147.3,349.5 148.3,349.5 149.3,349.6 150.3,349.6 151.3,349.7 152.3,349.7 153.3,349.7 154.3,349.7 155.3,349.7 156.3,349.8 157.3,349.8 158.3,349.8 159.3,349.8 160.3,349.8 161.3,349.8 162.3,349.8 163.3,349.8 164.3,349.8 165.3,349.8 166.3,349.8 167.3,349.8 168.3,349.8 169.3,349.8 170.3,349.8 171.3,349.8 172.3,349.8 173.3,349.8 174.3,349.8 175.3,349.8 176.3,349.8 177.3,349.8 178.3,349.8 179.3,349.8 180.3,349.8 181.3,349.8 182.3,349.8 183.3,349.8 184.3,349.8 185.3,349.8 186.3,349.8 187.3,349.8 188.3,349.8 189.3,349.8 190.3,349.8 191.3,349.8 192.3,349.8 193.3,349.8 194.3,349.8 195.3,349.8 196.3,349.8 197.3,349.8 198.3,349.8 199.3,349.8 200.3,349.8 201.3,349.8 202.3,349.8 203.3,349.8 204.3,349.8 205.3,349.8 206.3,349.8 207.3,349.8 208.3,349.8 209.3,349.8 210.3,349.8 211.3,349.8 212.3,349.8 213.3,349.8 214.3,349.8 215.3,349.8 216.3,349.8 217.3,349.8 218.3,349.8 219.3,349.8 220.3,349.8 221.3,349.8 222.3,349.8 223.3,349.8 224.3,349.8 225.3,349.8 226.3,349.8 227.3,349.8 228.3,349.8 229.3,349.8 230.3,349.8 231.3,349.8 232.3,349.8 233.3,349.8 234.3,349.8 235.3,349.8" stroke="#ffff00"/>
<polyline points="47.4,349.8 48.4,349.8 49.4,349.8 50.4,349.8 51.4,349.8 52.4,349.8 53.4,349.8 54.4,349.8 55.4,349.8 56.4,349.8 57.4,349.8 58.4,349.8 59.4,349.8 60.4,349.8 61.4,349.8 62.4,349.8 63.4,349.8 64.4,349.8 65.4,349.7 66.4,349.7 67.4,349.7 68.4,349.7 69.4,349.7 70.4,349.6 71.4,349.6 72.4,349.5 73.4,349.5 74.4,349.4 75.4,349.3 76.4,349.2 77.4,349.1 78.4,349.0 79.4,348.8 80.4,348.7 81.4,348.4 82.4,348.2 83.4,347.9 84.4,347.6 85.4,347.2 86.4,346.8 87.4,346.3 88.4,345.7 89.4,345.1 90.4,344.4 91.4,343.7 92.4,342.8 93.4,341.9 94.4,340.9 95.4,339.7 96.4,338.5 97.4,337.2 98.4,335.8 99.4,334.3 100.4,332.6 101.4,330.9 102.4,329.1 103.4,327.2 104.4,325.3 105.4,323.2 106.4,321.1 107.4,319.0 108.4,316.8 109.4,314.6 110.4,312.4 111.4,310.2 112.4,308.0 113.4,305.9 114.4,303.9 115.4,301.9 116.4,300.1 117.4,298.3 118.4,296.8 119.4,295.4 120.4,294.1 121.4,293.1 122.4,292.2 123.4,291.6 124.4,291.2 125.4,291.0 126.4,291.0 127.4,291.3 128.4,291.8 129.4,292.4 130.4,293.3 131.4,294.3 132.4,295.6 133.4,297.0 134.4,298.5 135.4,300.2 136.4,302.0 137.4,303.9 138.4,305.9 139.4,307.9 140.4,310.0 141.3,312.2 142.3,314.3 143.3,316.5 144.3,318.6 145.3,320.7 146.3,322.8 147.3,324.8 148.3,326.7 149.3,328.6 150.3,330.4 151.3,332.1 152.3,333.7 153.3,335.2 154.3,336.6 155.3,337.9 156.3,339.2 157.3,340.3 158.3,341.4 159.3,342.3 160.3,343.2 161.3,344.0 162.3,344.7 163.3,345.4 164.3,345.9 165.3,346.4 166.3,346.9 167.3,347.3 168.3,347.7 169.3,348.0 170.3,348.2 171.3,348.5 172.3,348.7 173.3,348.9 174.3,349.0 175.3,349.1 176.3,349.3 177.3,349.3 178.3,349.4 179.3,349.5 180.3,349.5 181.3,349.6 182.3,349.6 183.3,349.7 184.3,349.7 185.3,349.7 186.3,349.7 187.3,349.7 188.3,349.8 189.3,349.8 190.3,349.8 191.3,349.8 192.3,349.8 193.3,349.8 194.3,349.8 195.3,349.8 196.3,349.8 197.3,349.8 198.3,349.8 199.3,349.8 200.3,349.8 201.3,349.8 202.3,349.8 203.3,349.8 204.3,349.8 205.3,349.8 206.3,349.8 207.3,349.8 208.3,349.8 209.3,349.8 210.3,349.8 211.3,349.8 212.3,349.8 213.3,349.8 214.3,349.8 215.3,349.8 216.3,349.8 217.3,349.8 218.3,349.8 219.3,349.8 220.3,349.8 221.3,349.8 222.3,349.8 223.3,349.8 224.3,349.8 225.3,349.8 226.3,349.8 227.3,349.8 228.3,349.8 229.3,349.8 230.3,349.8 231.3,349.8 232.3,349.8 233.3,349.8 234.3,349.8 235.3,349.8" stroke="#0000ff"/>
<polyline points="47.4,349.8 48.4,349.8 49.4,349.8 50.4,349.8 51.4,349.8 52.4,349.8 53.4,349.8 54.4,349.8 55.4,349.8 56.4,349.8 57.4,349.8 58.4,349.8 59.4,349.7 60.4,349.7 61.4,349.7 62.4,349.7 63.4,349.7 64.4,349.7 65.4,349.7 66.4,349.6 67.4,349.6 68.4,349.6 69.4,349.6 70.4,349.5 71.4,349.5 72.4,349.4 73.4,349.4 74.4,349.3 75.4,349.3 76.4,349.2 77.4,349.1 78.4,349.0 79.4,348.9 80.4,348.8 81.4,348.7 82.4,348.6 83.4,348.4 84.4,348.3 85.4,348.1 86.4,347.9 87.4,347.6 88.4,347.4 89.4,347.1 90.4,346.8 91.4,346.5 92.4,346.1 93.4,345.7 94.4,345.3 95.4,344.9 96.4,344.4 97.4,343.8 98.4,343.2 99.4,342.6 100.4,341.9 101.4,341.2 102.4,340.4 103.4,339.5 104.4,338.6 105.4,337.7 106.4,336.7 107.4,335.6 108.4,334.4 109.4,333.2 110.4,331.9 111.4,330.5 112.4,329.1 113.4,327.6 114.4,326.0 115.4,324.3 116.4,322.6 117.4,320.8 118.4,318.9 119.4,317.0 120.4,314.9 121.4,312.9 122.4,310.7 123.4,308.5 124.4,306.2 125.4,303.9 126.4,301.5 127.4,299.1 128.4,296.7 129.4,294.2 130.4,291.6 131.4,289.1 132.4,286.6 133.4,284.0 134.4,281.4 135.4,278.9 136.4,276.4 137.4,273.9 138.4,271.4 139.4,269.0 140.4,266.6 141.3,264.3 142.3,262.1 143.3,259.9 144.3,257.9 145.3,255.9 146.3,254.0 147.3,252.3 148.3,250.7 149.3,249.2 150.3,247.8 151.3,246.6 152.3,245.5 153.3,244.6 154.3,243.8 155.3,243.2 156.3,242.7 157.3,242.4 158.3,242.3 159.3,242.4 160.3,242.6 161.3,243.0 162.3,243.6 163.3,244.3 164.3,245.3 165.3,246.4 166.3,247.7 167.3,249.1 168.3,250.7 169.3,252.4 170.3,254.2 171.3,256.2 172.3,258.3 173.3,260.5 174.3,262.8 175.3,265.1 176.3,267.6 177.3,270.1 178.3,272.7 179.3,275.3 180.3,278.0 181.3,280.6 182.3,283.3 183.3,286.0 184.3,288.7 185.3,291.4 186.3,294.0 187.3,296.6 188.3,299.2 189.3,301.8 190.3,304.3 191.3,306.7 192.3,309.1 193.3,311.4 194.3,313.6 195.3,315.8 196.3,317.9 197.3,319.9 198.3,321.8 199.3,323.7 200.3,325.5 201.3,327.1 202.3,328.8 203.3,330.3 204.3,331.7 205.3,333.1 206.3,334.4 207.3,335.6 208.3,336.8 209.3,337.8 210.3,338.8 211.3,339.8 212.3,340.6 213.3,341.4 214.3,342.2 215.3,342.9 216.3,343.5 217.3,344.1 218.3,344.7 219.3,345.2 220.3,345.6 221.3,346.0 222.3,346.4 223.3,346.8 224.3,347.1 225.3,347.4 226.3,347.6 227.3,347.9 228.3,348.1 229.3,348.3 230.3,348.5 231.3,348.6 232.3,348.8 233.3,348.9 234.3,349.0 235.3,349.1" stroke="#ff00ff"/>
</g>
<g stroke="#222" stroke-width="1.1" fill="none">
<path d="M47.4,357.5V219.0H235.3V357.5"/>
<path d="M47.4,353.9H235.3" stroke="#5a5a5a"/>
<path d="M42.4,219.3H47.4M42.4,252.2H47.4M42.4,284.8H47.4M42.4,317.4H47.4M42.4,350.2H47.4M47.4,353.9V357.5M83.9,353.9V357.5M122.0,353.9V357.5M159.7,353.9V357.5M197.8,353.9V357.5M235.3,353.9V357.5"/>
</g>
<g font-family='"Liberation Sans", sans-serif' fill="#111" stroke="#111" stroke-width="0.2">
<text x="51.5" y="236.4" font-size="18.3" textLength="17.9" lengthAdjust="spacingAndGlyphs">30</text>
<text x="72.3" y="236.4" font-size="18.3" textLength="25.8" lengthAdjust="spacingAndGlyphs">min</text>
<text x="29.8" y="344.1" font-size="18.7" textLength="117.0" lengthAdjust="spacingAndGlyphs" transform="rotate(-90 29.8 344.1)">Abs. Signal (a.u.)</text>
<text x="47.4" y="375.5" font-size="13.5" text-anchor="middle" textLength="23.4" lengthAdjust="spacingAndGlyphs">1700</text>
<text x="83.9" y="375.5" font-size="13.5" text-anchor="middle" textLength="23.4" lengthAdjust="spacingAndGlyphs">1680</text>
<text x="122.0" y="375.5" font-size="13.5" text-anchor="middle" textLength="23.4" lengthAdjust="spacingAndGlyphs">1660</text>
<text x="159.7" y="375.5" font-size="13.5" text-anchor="middle" textLength="23.4" lengthAdjust="spacingAndGlyphs">1640</text>
<text x="197.8" y="375.5" font-size="13.5" text-anchor="middle" textLength="23.4" lengthAdjust="spacingAndGlyphs">1620</text>
<text x="235.3" y="375.5" font-size="13.5" text-anchor="middle" textLength="23.4" lengthAdjust="spacingAndGlyphs">1600</text>
<text x="84.4" y="397.5" font-size="16" textLength="115.0" lengthAdjust="spacingAndGlyphs">Wavenumber (cm<tspan font-size="9.9" dy="-6.7">-1</tspan><tspan dy="6.7">)</tspan></text>
</g>
<g fill="none" stroke-width="1.3" stroke-linejoin="round">
<polyline points="292.4,347.2 293.4,345.7 294.4,344.2 295.4,342.8 296.4,341.3 297.4,339.9 298.4,338.6 299.4,337.2 300.4,335.8 301.4,334.5 302.4,333.2 303.4,331.9 304.4,330.5 305.4,329.3 306.4,328.0 307.4,326.7 308.4,325.4 309.4,324.1 310.4,322.9 311.4,321.6 312.4,320.3 313.4,319.1 314.4,317.8 315.4,316.5 316.4,315.3 317.4,314.0 318.4,312.7 319.4,311.4 320.4,310.1 321.4,308.7 322.4,307.4 323.4,306.0 324.4,304.7 325.4,303.3 326.4,301.9 327.4,300.5 328.4,299.1 329.4,297.7 330.4,296.2 331.4,294.8 332.4,293.4 333.4,291.9 334.4,290.5 335.4,289.0 336.4,287.5 337.4,286.1 338.4,284.6 339.4,283.1 340.4,281.6 341.4,280.2 342.4,278.7 343.4,277.2 344.4,275.8 345.4,274.3 346.4,272.8 347.4,271.4 348.4,269.9 349.4,268.5 350.4,267.0 351.4,265.6 352.4,264.1 353.4,262.7 354.4,261.3 355.4,259.9 356.4,258.5 357.4,257.1 358.4,255.8 359.4,254.4 360.4,253.1 361.4,251.8 362.4,250.5 363.4,249.2 364.4,248.0 365.4,246.8 366.4,245.6 367.4,244.4 368.4,243.3 369.4,242.2 370.4,241.2 371.4,240.1 372.4,239.2 373.4,238.2 374.4,237.3 375.4,236.4 376.4,235.6 377.4,234.8 378.4,234.1 379.4,233.4 380.4,232.8 381.4,232.2 382.4,231.7 383.4,231.2 384.4,230.8 385.4,230.5 386.4,230.2 387.3,229.9 388.3,229.7 389.3,229.6 390.3,229.6 391.3,229.6 392.3,229.7 393.3,229.8 394.3,230.1 395.3,230.4 396.3,230.8 397.3,231.2 398.3,231.8 399.3,232.4 400.3,233.2 401.3,234.0 402.3,234.9 403.3,235.9 404.3,237.0 405.3,238.2 406.3,239.5 407.3,240.9 408.3,242.5 409.3,244.1 410.3,245.8 411.3,247.7 412.3,249.7 413.3,251.7 414.3,253.9 415.3,256.1 416.3,258.5 417.3,260.9 418.3,263.3 419.3,265.9 420.3,268.4 421.3,271.0 422.3,273.7 423.3,276.4 424.3,279.0 425.3,281.7 426.3,284.4 427.3,287.1 428.3,289.8 429.3,292.5 430.3,295.1 431.3,297.7 432.3,300.2 433.3,302.7 434.3,305.2 435.3,307.6 436.3,310.0 437.3,312.3 438.3,314.5 439.3,316.7 440.3,318.9 441.3,320.9 442.3,322.9 443.3,324.9 444.3,326.7 445.3,328.5 446.3,330.2 447.3,331.9 448.3,333.4 449.3,334.9 450.3,336.3 451.3,337.6 452.3,338.8 453.3,339.9 454.3,340.9 455.3,341.9 456.3,342.7 457.3,343.5 458.3,344.2 459.3,344.9 460.3,345.4 461.3,345.9 462.3,346.4 463.3,346.8 464.3,347.1 465.3,347.4 466.3,347.7 467.3,347.9 468.3,348.1 469.3,348.3 470.3,348.4 471.3,348.6 472.3,348.7 473.3,348.8 474.3,348.9 475.3,349.0 476.3,349.1 477.3,349.2 478.3,349.3 479.3,349.4 480.3,349.6" stroke="#000" stroke-width="1.0" stroke-dasharray="1 3"/>
<polyline points="292.4,346.6 293.4,345.1 294.4,343.6 295.4,342.2 296.4,340.7 297.4,339.3 298.4,338.0 299.4,336.6 300.4,335.2 301.4,333.9 302.4,332.6 303.4,331.3 304.4,329.9 305.4,328.7 306.4,327.4 307.4,326.1 308.4,324.8 309.4,323.5 310.4,322.3 311.4,321.0 312.4,319.7 313.4,318.5 314.4,317.2 315.4,315.9 316.4,314.7 317.4,313.4 318.4,312.1 319.4,310.8 320.4,309.5 321.4,308.1 322.4,306.8 323.4,305.4 324.4,304.1 325.4,302.7 326.4,301.3 327.4,299.9 328.4,298.5 329.4,297.1 330.4,295.6 331.4,294.2 332.4,292.8 333.4,291.3 334.4,289.9 335.4,288.4 336.4,286.9 337.4,285.5 338.4,284.0 339.4,282.5 340.4,281.0 341.4,279.6 342.4,278.1 343.4,276.6 344.4,275.2 345.4,273.7 346.4,272.2 347.4,270.8 348.4,269.3 349.4,267.9 350.4,266.4 351.4,265.0 352.4,263.5 353.4,262.1 354.4,260.7 355.4,259.3 356.4,257.9 357.4,256.5 358.4,255.2 359.4,253.8 360.4,252.5 361.4,251.2 362.4,249.9 363.4,248.6 364.4,247.4 365.4,246.2 366.4,245.0 367.4,243.8 368.4,242.7 369.4,241.6 370.4,240.6 371.4,239.5 372.4,238.6 373.4,237.6 374.4,236.7 375.4,235.8 376.4,235.0 377.4,234.2 378.4,233.5 379.4,232.8 380.4,232.2 381.4,231.6 382.4,231.1 383.4,230.6 384.4,230.2 385.4,229.9 386.4,229.6 387.3,229.3 388.3,229.1 389.3,229.0 390.3,229.0 391.3,229.0 392.3,229.1 393.3,229.2 394.3,229.5 395.3,229.8 396.3,230.2 397.3,230.6 398.3,231.2 399.3,231.8 400.3,232.6 401.3,233.4 402.3,234.3 403.3,235.3 404.3,236.4 405.3,237.6 406.3,238.9 407.3,240.3 408.3,241.9 409.3,243.5 410.3,245.2 411.3,247.1 412.3,249.1 413.3,251.1 414.3,253.3 415.3,255.5 416.3,257.9 417.3,260.3 418.3,262.7 419.3,265.3 420.3,267.8 421.3,270.4 422.3,273.1 423.3,275.8 424.3,278.4 425.3,281.1 426.3,283.8 427.3,286.5 428.3,289.2 429.3,291.9 430.3,294.5 431.3,297.1 432.3,299.6 433.3,302.1 434.3,304.6 435.3,307.0 436.3,309.4 437.3,311.7 438.3,313.9 439.3,316.1 440.3,318.3 441.3,320.3 442.3,322.3 443.3,324.3 444.3,326.1 445.3,327.9 446.3,329.6 447.3,331.3 448.3,332.8 449.3,334.3 450.3,335.7 451.3,337.0 452.3,338.2 453.3,339.3 454.3,340.3 455.3,341.3 456.3,342.1 457.3,342.9 458.3,343.6 459.3,344.3 460.3,344.8 461.3,345.3 462.3,345.8 463.3,346.2 464.3,346.5 465.3,346.8 466.3,347.1 467.3,347.3 468.3,347.5 469.3,347.7 470.3,347.8 471.3,348.0 472.3,348.1 473.3,348.2 474.3,348.3 475.3,348.4 476.3,348.5 477.3,348.6 478.3,348.7 479.3,348.8 480.3,349.0" stroke="#f00" stroke-width="1.3"/>
<polyline points="292.4,349.4 293.4,349.1 294.4,348.8 295.4,348.5 296.4,348.0 297.4,347.5 298.4,347.0 299.4,346.3 300.4,345.5 301.4,344.7 302.4,343.8 303.4,342.8 304.4,341.8 305.4,340.7 306.4,339.6 307.4,338.5 308.4,337.4 309.4,336.3 310.4,335.4 311.4,334.5 312.4,333.7 313.4,333.1 314.4,332.6 315.4,332.3 316.4,332.2 317.4,332.3 318.4,332.4 319.4,332.7 320.4,333.2 321.4,333.7 322.4,334.3 323.4,335.1 324.4,335.9 325.4,336.7 326.4,337.6 327.4,338.5 328.4,339.5 329.4,340.4 330.4,341.3 331.4,342.2 332.4,343.1 333.4,343.9 334.4,344.6 335.4,345.4 336.4,346.0 337.4,346.6 338.4,347.1 339.4,347.6 340.4,348.0 341.4,348.4 342.4,348.7 343.4,349.0 344.4,349.2 345.4,349.4 346.4,349.6 347.4,349.7 348.4,349.9 349.4,349.9 350.4,350.0 351.4,350.1 352.4,350.1 353.4,350.2 354.4,350.2 355.4,350.2 356.4,350.2 357.4,350.3 358.4,350.3 359.4,350.3 360.4,350.3 361.4,350.3 362.4,350.3 363.4,350.3 364.4,350.3 365.4,350.3 366.4,350.3 367.4,350.3 368.4,350.3 369.4,350.3 370.4,350.3 371.4,350.3 372.4,350.3 373.4,350.3 374.4,350.3 375.4,350.3 376.4,350.3 377.4,350.3 378.4,350.3 379.4,350.3 380.4,350.3 381.4,350.3 382.4,350.3 383.4,350.3 384.4,350.3 385.4,350.3 386.4,350.3 387.3,350.3 388.3,350.3 389.3,350.3 390.3,350.3 391.3,350.3 392.3,350.3 393.3,350.3 394.3,350.3 395.3,350.3 396.3,350.3 397.3,350.3 398.3,350.3 399.3,350.3 400.3,350.3 401.3,350.3 402.3,350.3 403.3,350.3 404.3,350.3 405.3,350.3 406.3,350.3 407.3,350.3 408.3,350.3 409.3,350.3 410.3,350.3 411.3,350.3 412.3,350.3 413.3,350.3 414.3,350.3 415.3,350.3 416.3,350.3 417.3,350.3 418.3,350.3 419.3,350.3 420.3,350.3 421.3,350.3 422.3,350.3 423.3,350.3 424.3,350.3 425.3,350.3 426.3,350.3 427.3,350.3 428.3,350.3 429.3,350.3 430.3,350.3 431.3,350.3 432.3,350.3 433.3,350.3 434.3,350.3 435.3,350.3 436.3,350.3 437.3,350.3 438.3,350.3 439.3,350.3 440.3,350.3 441.3,350.3 442.3,350.3 443.3,350.3 444.3,350.3 445.3,350.3 446.3,350.3 447.3,350.3 448.3,350.3 449.3,350.3 450.3,350.3 451.3,350.3 452.3,350.3 453.3,350.3 454.3,350.3 455.3,350.3 456.3,350.3 457.3,350.3 458.3,350.3 459.3,350.3 460.3,350.3 461.3,350.3 462.3,350.3 463.3,350.3 464.3,350.3 465.3,350.3 466.3,350.3 467.3,350.3 468.3,350.3 469.3,350.3 470.3,350.3 471.3,350.3 472.3,350.3 473.3,350.3 474.3,350.3 475.3,350.3 476.3,350.3 477.3,350.3 478.3,350.3 479.3,350.3 480.3,350.3" stroke="#00ff00"/>
<polyline points="292.4,350.2 293.4,350.1 294.4,350.1 295.4,350.0 296.4,350.0 297.4,349.9 298.4,349.8 299.4,349.7 300.4,349.5 301.4,349.4 302.4,349.2 303.4,349.0 304.4,348.7 305.4,348.4 306.4,348.0 307.4,347.6 308.4,347.1 309.4,346.6 310.4,345.9 311.4,345.2 312.4,344.5 313.4,343.6 314.4,342.6 315.4,341.6 316.4,340.4 317.4,339.1 318.4,337.8 319.4,336.3 320.4,334.7 321.4,333.1 322.4,331.3 323.4,329.5 324.4,327.6 325.4,325.7 326.4,323.7 327.4,321.7 328.4,319.7 329.4,317.7 330.4,315.7 331.4,313.8 332.4,312.0 333.4,310.3 334.4,308.7 335.4,307.3 336.4,306.0 337.4,304.9 338.4,304.0 339.4,303.3 340.4,302.8 341.4,302.5 342.4,302.5 343.4,302.7 344.4,303.0 345.4,303.5 346.4,304.2 347.4,305.0 348.4,306.0 349.4,307.2 350.4,308.5 351.4,309.8 352.4,311.3 353.4,312.9 354.4,314.6 355.4,316.3 356.4,318.0 357.4,319.8 358.4,321.6 359.4,323.3 360.4,325.1 361.4,326.9 362.4,328.6 363.4,330.2 364.4,331.8 365.4,333.4 366.4,334.8 367.4,336.2 368.4,337.5 369.4,338.8 370.4,339.9 371.4,341.0 372.4,342.0 373.4,342.9 374.4,343.8 375.4,344.5 376.4,345.2 377.4,345.9 378.4,346.4 379.4,346.9 380.4,347.4 381.4,347.8 382.4,348.1 383.4,348.4 384.4,348.7 385.4,349.0 386.4,349.2 387.3,349.3 388.3,349.5 389.3,349.6 390.3,349.7 391.3,349.8 392.3,349.9 393.3,350.0 394.3,350.0 395.3,350.1 396.3,350.1 397.3,350.2 398.3,350.2 399.3,350.2 400.3,350.2 401.3,350.2 402.3,350.3 403.3,350.3 404.3,350.3 405.3,350.3 406.3,350.3 407.3,350.3 408.3,350.3 409.3,350.3 410.3,350.3 411.3,350.3 412.3,350.3 413.3,350.3 414.3,350.3 415.3,350.3 416.3,350.3 417.3,350.3 418.3,350.3 419.3,350.3 420.3,350.3 421.3,350.3 422.3,350.3 423.3,350.3 424.3,350.3 425.3,350.3 426.3,350.3 427.3,350.3 428.3,350.3 429.3,350.3 430.3,350.3 431.3,350.3 432.3,350.3 433.3,350.3 434.3,350.3 435.3,350.3 436.3,350.3 437.3,350.3 438.3,350.3 439.3,350.3 440.3,350.3 441.3,350.3 442.3,350.3 443.3,350.3 444.3,350.3 445.3,350.3 446.3,350.3 447.3,350.3 448.3,350.3 449.3,350.3 450.3,350.3 451.3,350.3 452.3,350.3 453.3,350.3 454.3,350.3 455.3,350.3 456.3,350.3 457.3,350.3 458.3,350.3 459.3,350.3 460.3,350.3 461.3,350.3 462.3,350.3 463.3,350.3 464.3,350.3 465.3,350.3 466.3,350.3 467.3,350.3 468.3,350.3 469.3,350.3 470.3,350.3 471.3,350.3 472.3,350.3 473.3,350.3 474.3,350.3 475.3,350.3 476.3,350.3 477.3,350.3 478.3,350.3 479.3,350.3 480.3,350.3" stroke="#ffff00"/>
<polyline points="292.4,350.3 293.4,350.3 294.4,350.3 295.4,350.3 296.4,350.3 297.4,350.3 298.4,350.3 299.4,350.3 300.4,350.3 301.4,350.3 302.4,350.3 303.4,350.3 304.4,350.3 305.4,350.3 306.4,350.3 307.4,350.3 308.4,350.3 309.4,350.3 310.4,350.3 311.4,350.3 312.4,350.3 313.4,350.2 314.4,350.2 315.4,350.2 316.4,350.2 317.4,350.2 318.4,350.1 319.4,350.1 320.4,350.0 321.4,350.0 322.4,349.9 323.4,349.8 324.4,349.7 325.4,349.6 326.4,349.4 327.4,349.2 328.4,349.0 329.4,348.8 330.4,348.5 331.4,348.2 332.4,347.8 333.4,347.4 334.4,346.9 335.4,346.3 336.4,345.7 337.4,345.0 338.4,344.3 339.4,343.4 340.4,342.5 341.4,341.5 342.4,340.4 343.4,339.2 344.4,338.0 345.4,336.6 346.4,335.2 347.4,333.7 348.4,332.1 349.4,330.5 350.4,328.9 351.4,327.2 352.4,325.5 353.4,323.7 354.4,322.0 355.4,320.3 356.4,318.7 357.4,317.1 358.4,315.6 359.4,314.2 360.4,312.9 361.4,311.7 362.4,310.6 363.4,309.8 364.4,309.1 365.4,308.5 366.4,308.2 367.4,308.0 368.4,308.0 369.4,308.3 370.4,308.7 371.4,309.3 372.4,310.1 373.4,311.1 374.4,312.3 375.4,313.5 376.4,315.0 377.4,316.5 378.4,318.1 379.4,319.8 380.4,321.5 381.4,323.2 382.4,325.0 383.4,326.8 384.4,328.5 385.4,330.3 386.4,331.9 387.3,333.5 388.3,335.1 389.3,336.6 390.3,337.9 391.3,339.2 392.3,340.4 393.3,341.6 394.3,342.6 395.3,343.5 396.3,344.4 397.3,345.2 398.3,345.9 399.3,346.5 400.3,347.0 401.3,347.5 402.3,347.9 403.3,348.3 404.3,348.6 405.3,348.9 406.3,349.1 407.3,349.3 408.3,349.5 409.3,349.6 410.3,349.8 411.3,349.9 412.3,349.9 413.3,350.0 414.3,350.1 415.3,350.1 416.3,350.2 417.3,350.2 418.3,350.2 419.3,350.2 420.3,350.2 421.3,350.3 422.3,350.3 423.3,350.3 424.3,350.3 425.3,350.3 426.3,350.3 427.3,350.3 428.3,350.3 429.3,350.3 430.3,350.3 431.3,350.3 432.3,350.3 433.3,350.3 434.3,350.3 435.3,350.3 436.3,350.3 437.3,350.3 438.3,350.3 439.3,350.3 440.3,350.3 441.3,350.3 442.3,350.3 443.3,350.3 444.3,350.3 445.3,350.3 446.3,350.3 447.3,350.3 448.3,350.3 449.3,350.3 450.3,350.3 451.3,350.3 452.3,350.3 453.3,350.3 454.3,350.3 455.3,350.3 456.3,350.3 457.3,350.3 458.3,350.3 459.3,350.3 460.3,350.3 461.3,350.3 462.3,350.3 463.3,350.3 464.3,350.3 465.3,350.3 466.3,350.3 467.3,350.3 468.3,350.3 469.3,350.3 470.3,350.3 471.3,350.3 472.3,350.3 473.3,350.3 474.3,350.3 475.3,350.3 476.3,350.3 477.3,350.3 478.3,350.3 479.3,350.3 480.3,350.3" stroke="#0000ff"/>
<polyline points="292.4,350.3 293.4,350.3 294.4,350.3 295.4,350.3 296.4,350.3 297.4,350.3 298.4,350.3 299.4,350.3 300.4,350.3 301.4,350.3 302.4,350.3 303.4,350.3 304.4,350.3 305.4,350.3 306.4,350.3 307.4,350.3 308.4,350.3 309.4,350.3 310.4,350.2 311.4,350.2 312.4,350.2 313.4,350.2 314.4,350.2 315.4,350.2 316.4,350.2 317.4,350.1 318.4,350.1 319.4,350.1 320.4,350.0 321.4,350.0 322.4,349.9 323.4,349.9 324.4,349.8 325.4,349.7 326.4,349.6 327.4,349.5 328.4,349.4 329.4,349.3 330.4,349.2 331.4,349.0 332.4,348.8 333.4,348.6 334.4,348.4 335.4,348.2 336.4,347.9 337.4,347.6 338.4,347.2 339.4,346.9 340.4,346.4 341.4,346.0 342.4,345.5 343.4,344.9 344.4,344.3 345.4,343.7 346.4,343.0 347.4,342.2 348.4,341.3 349.4,340.4 350.4,339.4 351.4,338.4 352.4,337.2 353.4,336.0 354.4,334.7 355.4,333.3 356.4,331.8 357.4,330.3 358.4,328.6 359.4,326.8 360.4,325.0 361.4,323.0 362.4,321.0 363.4,318.9 364.4,316.6 365.4,314.3 366.4,311.9 367.4,309.4 368.4,306.8 369.4,304.2 370.4,301.5 371.4,298.7 372.4,295.9 373.4,293.0 374.4,290.1 375.4,287.2 376.4,284.2 377.4,281.3 378.4,278.3 379.4,275.4 380.4,272.5 381.4,269.6 382.4,266.8 383.4,264.1 384.4,261.4 385.4,258.8 386.4,256.3 387.3,254.0 388.3,251.7 389.3,249.6 390.3,247.7 391.3,245.9 392.3,244.3 393.3,242.9 394.3,241.6 395.3,240.6 396.3,239.7 397.3,239.1 398.3,238.7 399.3,238.4 400.3,238.4 401.3,238.6 402.3,238.9 403.3,239.4 404.3,240.1 405.3,240.9 406.3,241.9 407.3,243.1 408.3,244.4 409.3,245.8 410.3,247.4 411.3,249.1 412.3,251.0 413.3,252.9 414.3,255.0 415.3,257.2 416.3,259.4 417.3,261.8 418.3,264.2 419.3,266.6 420.3,269.2 421.3,271.7 422.3,274.3 423.3,277.0 424.3,279.6 425.3,282.3 426.3,285.0 427.3,287.6 428.3,290.2 429.3,292.9 430.3,295.4 431.3,298.0 432.3,300.5 433.3,303.0 434.3,305.4 435.3,307.7 436.3,310.0 437.3,312.2 438.3,314.4 439.3,316.5 440.3,318.5 441.3,320.4 442.3,322.3 443.3,324.1 444.3,325.8 445.3,327.5 446.3,329.0 447.3,330.5 448.3,331.9 449.3,333.2 450.3,334.5 451.3,335.7 452.3,336.8 453.3,337.9 454.3,338.9 455.3,339.8 456.3,340.7 457.3,341.5 458.3,342.2 459.3,342.9 460.3,343.6 461.3,344.2 462.3,344.7 463.3,345.2 464.3,345.7 465.3,346.2 466.3,346.6 467.3,346.9 468.3,347.3 469.3,347.6 470.3,347.8 471.3,348.1 472.3,348.3 473.3,348.5 474.3,348.7 475.3,348.9 476.3,349.1 477.3,349.2 478.3,349.3 479.3,349.4 480.3,349.5" stroke="#ff00ff"/>
</g>
<g stroke="#222" stroke-width="1.1" fill="none">
<path d="M292.4,357.5V219.0H480.3V357.5"/>
<path d="M292.4,353.9H480.3" stroke="#5a5a5a"/>
<path d="M287.4,219.3H292.4M287.4,252.2H292.4M287.4,284.8H292.4M287.4,317.4H292.4M287.4,350.2H292.4M292.4,353.9V357.5M329.1,353.9V357.5M366.6,353.9V357.5M404.6,353.9V357.5M442.4,353.9V357.5M480.3,353.9V357.5"/>
</g>
<g font-family='"Liberation Sans", sans-serif' fill="#111" stroke="#111" stroke-width="0.2">
<text x="297.4" y="240.0" font-size="18.3" textLength="8.7" lengthAdjust="spacingAndGlyphs">1</text>
<text x="308.1" y="240.0" font-size="18.3" textLength="17.0" lengthAdjust="spacingAndGlyphs">hr</text>
<text x="274.8" y="343.8" font-size="18.7" textLength="117.0" lengthAdjust="spacingAndGlyphs" transform="rotate(-90 274.8 343.8)">Abs. Signal (a.u.)</text>
<text x="292.4" y="375.5" font-size="13.5" text-anchor="middle" textLength="23.4" lengthAdjust="spacingAndGlyphs">1700</text>
<text x="329.1" y="375.5" font-size="13.5" text-anchor="middle" textLength="23.4" lengthAdjust="spacingAndGlyphs">1680</text>
<text x="366.6" y="375.5" font-size="13.5" text-anchor="middle" textLength="23.4" lengthAdjust="spacingAndGlyphs">1660</text>
<text x="404.6" y="375.5" font-size="13.5" text-anchor="middle" textLength="23.4" lengthAdjust="spacingAndGlyphs">1640</text>
<text x="442.4" y="375.5" font-size="13.5" text-anchor="middle" textLength="23.4" lengthAdjust="spacingAndGlyphs">1620</text>
<text x="480.3" y="375.5" font-size="13.5" text-anchor="middle" textLength="23.4" lengthAdjust="spacingAndGlyphs">1600</text>
<text x="329.4" y="397.5" font-size="16" textLength="115.0" lengthAdjust="spacingAndGlyphs">Wave number (cm<tspan font-size="9.9" dy="-6.7">-1</tspan><tspan dy="6.7">)</tspan></text>
</g>
<g fill="none" stroke-width="1.3" stroke-linejoin="round">
<polyline points="48.6,546.4 49.6,545.2 50.6,543.9 51.6,542.7 52.6,541.5 53.6,540.3 54.6,539.1 55.6,537.9 56.6,536.7 57.6,535.5 58.6,534.3 59.6,533.2 60.6,532.0 61.6,530.8 62.6,529.7 63.6,528.5 64.6,527.3 65.6,526.2 66.6,525.0 67.6,523.9 68.6,522.8 69.6,521.6 70.6,520.5 71.6,519.4 72.6,518.2 73.6,517.1 74.6,516.0 75.6,514.8 76.6,513.7 77.6,512.6 78.6,511.5 79.6,510.3 80.6,509.2 81.6,508.1 82.6,507.0 83.6,505.8 84.6,504.7 85.6,503.6 86.6,502.5 87.6,501.3 88.6,500.2 89.6,499.1 90.6,497.9 91.6,496.8 92.6,495.6 93.6,494.5 94.6,493.3 95.7,492.2 96.7,491.0 97.7,489.9 98.7,488.7 99.7,487.5 100.7,486.3 101.7,485.2 102.7,484.0 103.7,482.8 104.7,481.6 105.7,480.3 106.7,479.1 107.7,477.9 108.7,476.6 109.7,475.4 110.7,474.1 111.7,472.9 112.7,471.6 113.7,470.3 114.7,469.0 115.7,467.7 116.7,466.4 117.7,465.1 118.7,463.7 119.7,462.4 120.7,461.1 121.7,459.9 122.7,458.6 123.7,457.3 124.7,456.1 125.7,454.9 126.7,453.7 127.7,452.6 128.7,451.5 129.7,450.4 130.7,449.3 131.7,448.3 132.7,447.4 133.7,446.5 134.7,445.6 135.7,444.8 136.7,444.0 137.7,443.3 138.7,442.6 139.7,442.0 140.7,441.4 141.7,440.9 142.7,440.5 143.7,440.1 144.7,439.8 145.7,439.6 146.7,439.4 147.7,439.3 148.7,439.3 149.7,439.4 150.7,439.6 151.7,439.8 152.7,440.1 153.7,440.5 154.7,441.0 155.7,441.6 156.7,442.3 157.7,443.0 158.7,443.9 159.7,444.8 160.7,445.8 161.7,446.8 162.7,447.9 163.7,449.1 164.7,450.4 165.7,451.7 166.7,453.1 167.7,454.5 168.7,456.0 169.7,457.6 170.7,459.2 171.7,460.8 172.7,462.5 173.7,464.3 174.7,466.1 175.7,467.9 176.7,469.8 177.7,471.7 178.7,473.6 179.7,475.6 180.7,477.6 181.7,479.6 182.7,481.7 183.7,483.7 184.7,485.8 185.7,488.0 186.7,490.1 187.7,492.3 188.7,494.4 189.8,496.6 190.8,498.8 191.8,500.9 192.8,503.1 193.8,505.3 194.8,507.4 195.8,509.5 196.8,511.6 197.8,513.7 198.8,515.8 199.8,517.8 200.8,519.8 201.8,521.7 202.8,523.6 203.8,525.5 204.8,527.2 205.8,529.0 206.8,530.7 207.8,532.3 208.8,533.8 209.8,535.3 210.8,536.7 211.8,538.0 212.8,539.2 213.8,540.3 214.8,541.4 215.8,542.4 216.8,543.3 217.8,544.1 218.8,544.9 219.8,545.6 220.8,546.2 221.8,546.8 222.8,547.3 223.8,547.7 224.8,548.1 225.8,548.4 226.8,548.7 227.8,548.9 228.8,549.1 229.8,549.2 230.8,549.3 231.8,549.4 232.8,549.4 233.8,549.3 234.8,549.3 235.8,549.2 236.8,549.0" stroke="#f00" stroke-width="1.3"/>
<polyline points="48.6,548.5 49.6,548.3 50.6,548.2 51.6,548.0 52.6,547.7 53.6,547.4 54.6,547.1 55.6,546.8 56.6,546.4 57.6,546.0 58.6,545.6 59.6,545.2 60.6,544.7 61.6,544.3 62.6,543.8 63.6,543.3 64.6,542.9 65.6,542.5 66.6,542.1 67.6,541.7 68.6,541.4 69.6,541.2 70.6,541.0 71.6,540.9 72.6,540.9 73.6,540.9 74.6,541.1 75.6,541.3 76.6,541.6 77.6,541.9 78.6,542.3 79.6,542.7 80.6,543.2 81.6,543.7 82.6,544.2 83.6,544.7 84.6,545.2 85.6,545.7 86.6,546.1 87.6,546.6 88.6,546.9 89.6,547.3 90.6,547.6 91.6,547.9 92.6,548.1 93.6,548.3 94.6,548.5 95.7,548.6 96.7,548.8 97.7,548.9 98.7,548.9 99.7,549.0 100.7,549.0 101.7,549.1 102.7,549.1 103.7,549.1 104.7,549.2 105.7,549.2 106.7,549.2 107.7,549.2 108.7,549.2 109.7,549.2 110.7,549.2 111.7,549.2 112.7,549.2 113.7,549.2 114.7,549.2 115.7,549.2 116.7,549.2 117.7,549.2 118.7,549.2 119.7,549.2 120.7,549.2 121.7,549.2 122.7,549.2 123.7,549.2 124.7,549.2 125.7,549.2 126.7,549.2 127.7,549.2 128.7,549.2 129.7,549.2 130.7,549.2 131.7,549.2 132.7,549.2 133.7,549.2 134.7,549.2 135.7,549.2 136.7,549.2 137.7,549.2 138.7,549.2 139.7,549.2 140.7,549.2 141.7,549.2 142.7,549.2 143.7,549.2 144.7,549.2 145.7,549.2 146.7,549.2 147.7,549.2 148.7,549.2 149.7,549.2 150.7,549.2 151.7,549.2 152.7,549.2 153.7,549.2 154.7,549.2 155.7,549.2 156.7,549.2 157.7,549.2 158.7,549.2 159.7,549.2 160.7,549.2 161.7,549.2 162.7,549.2 163.7,549.2 164.7,549.2 165.7,549.2 166.7,549.2 167.7,549.2 168.7,549.2 169.7,549.2 170.7,549.2 171.7,549.2 172.7,549.2 173.7,549.2 174.7,549.2 175.7,549.2 176.7,549.2 177.7,549.2 178.7,549.2 179.7,549.2 180.7,549.2 181.7,549.2 182.7,549.2 183.7,549.2 184.7,549.2 185.7,549.2 186.7,549.2 187.7,549.2 188.7,549.2 189.8,549.2 190.8,549.2 191.8,549.2 192.8,549.2 193.8,549.2 194.8,549.2 195.8,549.2 196.8,549.2 197.8,549.2 198.8,549.2 199.8,549.2 200.8,549.2 201.8,549.2 202.8,549.2 203.8,549.2 204.8,549.2 205.8,549.2 206.8,549.2 207.8,549.2 208.8,549.2 209.8,549.2 210.8,549.2 211.8,549.2 212.8,549.2 213.8,549.2 214.8,549.2 215.8,549.2 216.8,549.2 217.8,549.2 218.8,549.2 219.8,549.2 220.8,549.2 221.8,549.2 222.8,549.2 223.8,549.2 224.8,549.2 225.8,549.2 226.8,549.2 227.8,549.2 228.8,549.2 229.8,549.2 230.8,549.2 231.8,549.2 232.8,549.2 233.8,549.2 234.8,549.2 235.8,549.2 236.8,549.2" stroke="#00ff00"/>
<polyline points="48.6,546.2 49.6,545.9 50.6,545.5 51.6,545.0 52.6,544.5 53.6,544.0 54.6,543.4 55.6,542.8 56.6,542.2 57.6,541.5 58.6,540.8 59.6,540.0 60.6,539.2 61.6,538.4 62.6,537.5 63.6,536.7 64.6,535.7 65.6,534.8 66.6,533.8 67.6,532.8 68.6,531.8 69.6,530.8 70.6,529.7 71.6,528.7 72.6,527.7 73.6,526.7 74.6,525.7 75.6,524.7 76.6,523.7 77.6,522.7 78.6,521.8 79.6,520.9 80.6,520.1 81.6,519.2 82.6,518.5 83.6,517.7 84.6,517.1 85.6,516.4 86.6,515.8 87.6,515.3 88.6,514.8 89.6,514.4 90.6,514.0 91.6,513.7 92.6,513.4 93.6,513.2 94.6,513.0 95.7,512.8 96.7,512.7 97.7,512.7 98.7,512.6 99.7,512.6 100.7,512.6 101.7,512.6 102.7,512.6 103.7,512.7 104.7,512.8 105.7,512.9 106.7,513.1 107.7,513.3 108.7,513.6 109.7,513.9 110.7,514.3 111.7,514.8 112.7,515.3 113.7,515.8 114.7,516.4 115.7,517.1 116.7,517.8 117.7,518.6 118.7,519.4 119.7,520.3 120.7,521.2 121.7,522.2 122.7,523.1 123.7,524.2 124.7,525.2 125.7,526.2 126.7,527.3 127.7,528.4 128.7,529.5 129.7,530.6 130.7,531.6 131.7,532.7 132.7,533.7 133.7,534.8 134.7,535.8 135.7,536.7 136.7,537.7 137.7,538.6 138.7,539.4 139.7,540.3 140.7,541.1 141.7,541.8 142.7,542.5 143.7,543.1 144.7,543.8 145.7,544.3 146.7,544.8 147.7,545.3 148.7,545.8 149.7,546.2 150.7,546.5 151.7,546.9 152.7,547.2 153.7,547.4 154.7,547.7 155.7,547.9 156.7,548.1 157.7,548.2 158.7,548.4 159.7,548.5 160.7,548.6 161.7,548.7 162.7,548.8 163.7,548.9 164.7,548.9 165.7,549.0 166.7,549.0 167.7,549.0 168.7,549.1 169.7,549.1 170.7,549.1 171.7,549.1 172.7,549.1 173.7,549.2 174.7,549.2 175.7,549.2 176.7,549.2 177.7,549.2 178.7,549.2 179.7,549.2 180.7,549.2 181.7,549.2 182.7,549.2 183.7,549.2 184.7,549.2 185.7,549.2 186.7,549.2 187.7,549.2 188.7,549.2 189.8,549.2 190.8,549.2 191.8,549.2 192.8,549.2 193.8,549.2 194.8,549.2 195.8,549.2 196.8,549.2 197.8,549.2 198.8,549.2 199.8,549.2 200.8,549.2 201.8,549.2 202.8,549.2 203.8,549.2 204.8,549.2 205.8,549.2 206.8,549.2 207.8,549.2 208.8,549.2 209.8,549.2 210.8,549.2 211.8,549.2 212.8,549.2 213.8,549.2 214.8,549.2 215.8,549.2 216.8,549.2 217.8,549.2 218.8,549.2 219.8,549.2 220.8,549.2 221.8,549.2 222.8,549.2 223.8,549.2 224.8,549.2 225.8,549.2 226.8,549.2 227.8,549.2 228.8,549.2 229.8,549.2 230.8,549.2 231.8,549.2 232.8,549.2 233.8,549.2 234.8,549.2 235.8,549.2 236.8,549.2" stroke="#ffff00"/>
<polyline points="48.6,549.1 49.6,549.1 50.6,549.1 51.6,549.1 52.6,549.1 53.6,549.0 54.6,549.0 55.6,549.0 56.6,549.0 57.6,548.9 58.6,548.9 59.6,548.9 60.6,548.8 61.6,548.7 62.6,548.7 63.6,548.6 64.6,548.5 65.6,548.5 66.6,548.4 67.6,548.2 68.6,548.1 69.6,548.0 70.6,547.8 71.6,547.7 72.6,547.5 73.6,547.3 74.6,547.1 75.6,546.8 76.6,546.6 77.6,546.3 78.6,546.0 79.6,545.6 80.6,545.2 81.6,544.8 82.6,544.4 83.6,543.9 84.6,543.4 85.6,542.8 86.6,542.2 87.6,541.6 88.6,540.9 89.6,540.1 90.6,539.3 91.6,538.5 92.6,537.5 93.6,536.6 94.6,535.5 95.7,534.5 96.7,533.3 97.7,532.1 98.7,530.8 99.7,529.5 100.7,528.1 101.7,526.6 102.7,525.0 103.7,523.4 104.7,521.8 105.7,520.0 106.7,518.2 107.7,516.4 108.7,514.5 109.7,512.5 110.7,510.5 111.7,508.4 112.7,506.3 113.7,504.2 114.7,502.0 115.7,499.8 116.7,497.6 117.7,495.3 118.7,493.1 119.7,490.8 120.7,488.6 121.7,486.3 122.7,484.1 123.7,481.9 124.7,479.7 125.7,477.6 126.7,475.5 127.7,473.5 128.7,471.5 129.7,469.7 130.7,467.9 131.7,466.2 132.7,464.5 133.7,463.0 134.7,461.6 135.7,460.3 136.7,459.2 137.7,458.1 138.7,457.2 139.7,456.4 140.7,455.8 141.7,455.3 142.7,455.0 143.7,454.8 144.7,454.7 145.7,454.8 146.7,455.0 147.7,455.4 148.7,455.9 149.7,456.5 150.7,457.2 151.7,458.1 152.7,459.1 153.7,460.3 154.7,461.5 155.7,462.9 156.7,464.3 157.7,465.9 158.7,467.5 159.7,469.2 160.7,471.0 161.7,472.9 162.7,474.9 163.7,476.9 164.7,478.9 165.7,481.0 166.7,483.1 167.7,485.3 168.7,487.4 169.7,489.6 170.7,491.8 171.7,494.0 172.7,496.2 173.7,498.4 174.7,500.5 175.7,502.7 176.7,504.8 177.7,506.8 178.7,508.9 179.7,510.9 180.7,512.8 181.7,514.7 182.7,516.6 183.7,518.4 184.7,520.1 185.7,521.8 186.7,523.4 187.7,525.0 188.7,526.5 189.8,527.9 190.8,529.3 191.8,530.6 192.8,531.8 193.8,533.0 194.8,534.2 195.8,535.2 196.8,536.3 197.8,537.2 198.8,538.1 199.8,539.0 200.8,539.8 201.8,540.5 202.8,541.2 203.8,541.9 204.8,542.5 205.8,543.1 206.8,543.6 207.8,544.1 208.8,544.5 209.8,545.0 210.8,545.3 211.8,545.7 212.8,546.0 213.8,546.3 214.8,546.6 215.8,546.9 216.8,547.1 217.8,547.3 218.8,547.5 219.8,547.7 220.8,547.8 221.8,548.0 222.8,548.1 223.8,548.2 224.8,548.3 225.8,548.4 226.8,548.5 227.8,548.6 228.8,548.7 229.8,548.7 230.8,548.8 231.8,548.8 232.8,548.9 233.8,548.9 234.8,549.0 235.8,549.0 236.8,549.0" stroke="#0000ff"/>
<polyline points="48.6,549.2 49.6,549.2 50.6,549.2 51.6,549.2 52.6,549.2 53.6,549.2 54.6,549.2 55.6,549.2 56.6,549.2 57.6,549.2 58.6,549.2 59.6,549.2 60.6,549.2 61.6,549.2 62.6,549.2 63.6,549.2 64.6,549.2 65.6,549.2 66.6,549.2 67.6,549.2 68.6,549.2 69.6,549.2 70.6,549.2 71.6,549.2 72.6,549.2 73.6,549.2 74.6,549.2 75.6,549.2 76.6,549.2 77.6,549.2 78.6,549.2 79.6,549.2 80.6,549.2 81.6,549.2 82.6,549.2 83.6,549.2 84.6,549.2 85.6,549.2 86.6,549.2 87.6,549.2 88.6,549.2 89.6,549.2 90.6,549.2 91.6,549.2 92.6,549.2 93.6,549.2 94.6,549.2 95.7,549.2 96.7,549.2 97.7,549.2 98.7,549.2 99.7,549.2 100.7,549.2 101.7,549.2 102.7,549.2 103.7,549.2 104.7,549.2 105.7,549.2 106.7,549.2 107.7,549.2 108.7,549.2 109.7,549.2 110.7,549.2 111.7,549.2 112.7,549.2 113.7,549.2 114.7,549.2 115.7,549.2 116.7,549.2 117.7,549.2 118.7,549.2 119.7,549.2 120.7,549.1 121.7,549.1 122.7,549.1 123.7,549.1 124.7,549.1 125.7,549.0 126.7,549.0 127.7,549.0 128.7,548.9 129.7,548.8 130.7,548.8 131.7,548.7 132.7,548.6 133.7,548.5 134.7,548.3 135.7,548.2 136.7,548.0 137.7,547.8 138.7,547.6 139.7,547.3 140.7,547.0 141.7,546.7 142.7,546.3 143.7,545.9 144.7,545.5 145.7,545.0 146.7,544.4 147.7,543.8 148.7,543.2 149.7,542.5 150.7,541.8 151.7,541.0 152.7,540.2 153.7,539.3 154.7,538.4 155.7,537.5 156.7,536.5 157.7,535.5 158.7,534.5 159.7,533.5 160.7,532.5 161.7,531.5 162.7,530.5 163.7,529.5 164.7,528.5 165.7,527.6 166.7,526.8 167.7,526.0 168.7,525.3 169.7,524.6 170.7,524.0 171.7,523.6 172.7,523.2 173.7,522.9 174.7,522.8 175.7,522.7 176.7,522.7 177.7,522.9 178.7,523.1 179.7,523.4 180.7,523.7 181.7,524.2 182.7,524.7 183.7,525.2 184.7,525.9 185.7,526.6 186.7,527.3 187.7,528.1 188.7,528.9 189.8,529.8 190.8,530.7 191.8,531.6 192.8,532.5 193.8,533.4 194.8,534.3 195.8,535.2 196.8,536.1 197.8,537.0 198.8,537.8 199.8,538.6 200.8,539.4 201.8,540.2 202.8,540.9 203.8,541.6 204.8,542.3 205.8,542.9 206.8,543.5 207.8,544.0 208.8,544.6 209.8,545.0 210.8,545.5 211.8,545.9 212.8,546.2 213.8,546.6 214.8,546.9 215.8,547.2 216.8,547.4 217.8,547.6 218.8,547.8 219.8,548.0 220.8,548.2 221.8,548.3 222.8,548.4 223.8,548.5 224.8,548.6 225.8,548.7 226.8,548.8 227.8,548.9 228.8,548.9 229.8,549.0 230.8,549.0 231.8,549.0 232.8,549.1 233.8,549.1 234.8,549.1 235.8,549.1 236.8,549.1" stroke="#ff00ff"/>
</g>
<g stroke="#222" stroke-width="1.1" fill="none">
<path d="M48.6,558.5V418.5H236.8V558.5"/>
<path d="M48.6,553.9H236.8" stroke="#5a5a5a"/>
<path d="M43.6,418.5H48.6M43.6,440.1H48.6M43.6,461.7H48.6M43.6,484.0H48.6M43.6,505.8H48.6M43.6,527.4H48.6M43.6,549.2H48.6M48.6,553.9V558.5M86.6,553.9V558.5M123.3,553.9V558.5M160.8,553.9V558.5M198.8,553.9V558.5M236.8,553.9V558.5"/>
</g>
<g font-family='"Liberation Sans", sans-serif' fill="#111" stroke="#111" stroke-width="0.2">
<text x="51.3" y="440.6" font-size="18.3" textLength="9.8" lengthAdjust="spacingAndGlyphs">3</text>
<text x="61.8" y="440.6" font-size="18.3" textLength="17.2" lengthAdjust="spacingAndGlyphs">hr</text>
<text x="30.6" y="542.8" font-size="18.7" textLength="117.0" lengthAdjust="spacingAndGlyphs" transform="rotate(-90 30.6 542.8)">Abs. Signal (a.u.)</text>
<text x="48.6" y="574.8" font-size="13.5" text-anchor="middle" textLength="23.4" lengthAdjust="spacingAndGlyphs">1700</text>
<text x="86.6" y="574.8" font-size="13.5" text-anchor="middle" textLength="23.4" lengthAdjust="spacingAndGlyphs">1680</text>
<text x="123.3" y="574.8" font-size="13.5" text-anchor="middle" textLength="23.4" lengthAdjust="spacingAndGlyphs">1660</text>
<text x="160.8" y="574.8" font-size="13.5" text-anchor="middle" textLength="23.4" lengthAdjust="spacingAndGlyphs">1640</text>
<text x="198.8" y="574.8" font-size="13.5" text-anchor="middle" textLength="23.4" lengthAdjust="spacingAndGlyphs">1620</text>
<text x="236.8" y="574.8" font-size="13.5" text-anchor="middle" textLength="23.4" lengthAdjust="spacingAndGlyphs">1600</text>
<text x="85.1" y="605.1" font-size="16" textLength="115.0" lengthAdjust="spacingAndGlyphs">Wavenumber (cm<tspan font-size="9.9" dy="-6.7">-1</tspan><tspan dy="6.7">)</tspan></text>
</g>
<g fill="none" stroke-width="1.3" stroke-linejoin="round">
<polyline points="565.3,144.0 566.3,142.9 567.3,142.7 568.3,141.6 569.3,140.3 570.3,139.7 571.3,139.3 572.3,139.0 573.3,137.6 574.3,136.3 575.3,134.0 576.3,131.3 577.3,129.3 578.3,127.0 579.3,124.8 580.3,123.1 581.3,122.4 582.3,120.0 583.3,118.0 584.3,116.0 585.3,114.9 586.3,112.7 587.3,110.8 588.3,109.5 589.3,108.4 590.3,107.2 591.3,104.9 592.3,103.0 593.3,100.8 594.3,97.4 595.3,94.0 596.3,91.9 597.3,90.3 598.3,88.2 599.3,86.1 600.3,84.2 601.3,82.0 602.3,78.2 603.3,75.3 604.3,73.1 605.3,69.7 606.3,67.1 607.3,64.2 608.3,61.6 609.3,59.7 610.3,57.9 611.3,56.0 612.3,55.1 613.3,53.8 614.3,51.1 615.4,49.5 616.4,46.9 617.4,45.1 618.4,42.8 619.4,42.9 620.4,42.6 621.4,42.8 622.4,43.5 623.4,43.8 624.4,43.2 625.4,42.7 626.4,42.3 627.4,41.7 628.4,42.8 629.4,42.4 630.4,42.7 631.4,43.1 632.4,43.6 633.4,42.8 634.4,43.4 635.4,43.1 636.4,42.9 637.4,41.3 638.4,41.3 639.4,39.9 640.4,39.2 641.4,38.8 642.4,38.4 643.4,37.1 644.4,37.4 645.4,36.3 646.4,34.4 647.4,32.3 648.4,30.6 649.4,28.6 650.4,27.4 651.4,26.7 652.4,27.5 653.4,27.2 654.4,27.2 655.4,27.6 656.4,28.0 657.4,28.5 658.4,30.6 659.4,32.1 660.4,32.5 661.4,34.1 662.4,35.6 663.4,36.2 664.4,36.9 665.4,38.3 666.4,39.0 667.4,40.0 668.4,40.5 669.4,41.2 670.4,42.2 671.4,43.2 672.4,44.1 673.4,44.6 674.4,45.9 675.4,47.2 676.4,48.5 677.4,48.8 678.4,50.6 679.4,51.1 680.4,52.0 681.4,52.6 682.4,53.3 683.4,54.0 684.4,55.7 685.4,56.8 686.4,58.6 687.4,60.5 688.4,61.6 689.4,63.1 690.4,65.6 691.4,67.5 692.4,69.4 693.4,71.8 694.4,73.5 695.4,74.4 696.4,76.3 697.4,78.2 698.4,79.1 699.4,80.8 700.4,82.8 701.4,84.3 702.4,86.8 703.4,88.9 704.4,91.2 705.4,92.9 706.4,94.4 707.4,95.7 708.4,97.7 709.4,98.4 710.4,100.0 711.4,100.9 712.4,101.8 713.5,102.7 714.5,104.3 715.5,104.5 716.5,105.9 717.5,106.5 718.5,107.6 719.5,107.7 720.5,108.4 721.5,108.6 722.5,108.3 723.5,109.1 724.5,109.2 725.5,108.3 726.5,108.6 727.5,108.0 728.5,106.2 729.5,105.5 730.5,104.5 731.5,102.2 732.5,100.5 733.5,98.2 734.5,94.9 735.5,92.5 736.5,90.7 737.5,89.6 738.5,88.5 739.5,88.9 740.5,89.2 741.5,89.1 742.5,89.0 743.5,88.5 744.5,88.5 745.5,89.4 746.5,91.6 747.5,94.0 748.5,97.0 749.5,99.9 750.5,102.3 751.5,104.6 752.5,107.3 753.5,110.9 754.5,114.0 755.5,118.5 756.5,122.1 757.5,126.0 758.5,130.6 759.5,135.9 760.5,140.1 761.5,143.5" stroke="#000" stroke-width="1.0"/>
<polyline points="565.3,133.1 566.3,132.5 567.3,131.8 568.3,131.1 569.3,130.4 570.3,129.7 571.3,128.9 572.3,128.2 573.3,127.4 574.3,126.6 575.3,125.7 576.3,124.8 577.3,123.9 578.3,122.9 579.3,121.9 580.3,120.8 581.3,119.6 582.3,118.4 583.3,117.2 584.3,115.8 585.3,114.4 586.3,112.9 587.3,111.4 588.3,109.8 589.3,108.1 590.3,106.3 591.3,104.5 592.3,102.5 593.3,100.5 594.3,98.5 595.3,96.3 596.3,94.1 597.3,91.7 598.3,89.4 599.3,86.9 600.3,84.4 601.3,81.9 602.3,79.3 603.3,76.6 604.3,74.0 605.3,71.2 606.3,68.5 607.3,65.8 608.3,63.1 609.3,60.5 610.3,58.0 611.3,55.6 612.3,53.4 613.3,51.3 614.3,49.5 615.4,47.9 616.4,46.5 617.4,45.4 618.4,44.5 619.4,43.8 620.4,43.2 621.4,42.8 622.4,42.4 623.4,42.2 624.4,42.1 625.4,42.0 626.4,41.9 627.4,41.9 628.4,42.0 629.4,42.0 630.4,42.0 631.4,42.0 632.4,41.9 633.4,41.8 634.4,41.7 635.4,41.5 636.4,41.2 637.4,40.8 638.4,40.4 639.4,39.9 640.4,39.4 641.4,38.8 642.4,38.2 643.4,37.4 644.4,36.6 645.4,35.8 646.4,34.9 647.4,34.1 648.4,33.2 649.4,32.4 650.4,31.7 651.4,31.1 652.4,30.6 653.4,30.2 654.4,30.0 655.4,30.0 656.4,30.2 657.4,30.6 658.4,31.2 659.4,31.9 660.4,32.7 661.4,33.5 662.4,34.5 663.4,35.5 664.4,36.5 665.4,37.5 666.4,38.5 667.4,39.5 668.4,40.4 669.4,41.3 670.4,42.2 671.4,43.1 672.4,44.0 673.4,44.9 674.4,45.7 675.4,46.6 676.4,47.6 677.4,48.5 678.4,49.5 679.4,50.5 680.4,51.5 681.4,52.6 682.4,53.7 683.4,54.9 684.4,56.1 685.4,57.4 686.4,58.8 687.4,60.3 688.4,61.8 689.4,63.4 690.4,65.1 691.4,66.9 692.4,68.7 693.4,70.5 694.4,72.4 695.4,74.2 696.4,76.1 697.4,78.0 698.4,79.9 699.4,81.7 700.4,83.5 701.4,85.3 702.4,87.0 703.4,88.7 704.4,90.4 705.4,92.0 706.4,93.6 707.4,95.1 708.4,96.5 709.4,97.9 710.4,99.3 711.4,100.5 712.4,101.7 713.5,102.9 714.5,103.9 715.5,104.9 716.5,105.8 717.5,106.5 718.5,107.2 719.5,107.7 720.5,108.2 721.5,108.5 722.5,108.7 723.5,108.7 724.5,108.6 725.5,108.3 726.5,107.9 727.5,107.2 728.5,106.4 729.5,105.3 730.5,103.9 731.5,102.3 732.5,100.5 733.5,98.3 734.5,96.1 735.5,93.7 736.5,91.5 737.5,89.4 738.5,87.6 739.5,86.3 740.5,85.4 741.5,85.1 742.5,85.5 743.5,86.5 744.5,88.1 745.5,90.1 746.5,92.3 747.5,94.9 748.5,97.5 749.5,100.2 750.5,102.8 751.5,105.3 752.5,107.8 753.5,110.2 754.5,112.5 755.5,114.8 756.5,117.0 757.5,119.2 758.5,121.4 759.5,123.5 760.5,125.7 761.5,126.6" stroke="#f00" stroke-width="1.3"/>
<polyline points="565.3,144.8 566.3,144.7 567.3,144.7 568.3,144.6 569.3,144.4 570.3,144.3 571.3,144.2 572.3,144.0 573.3,143.8 574.3,143.5 575.3,143.2 576.3,142.9 577.3,142.6 578.3,142.1 579.3,141.7 580.3,141.1 581.3,140.5 582.3,139.8 583.3,139.1 584.3,138.2 585.3,137.3 586.3,136.3 587.3,135.2 588.3,134.0 589.3,132.7 590.3,131.3 591.3,129.8 592.3,128.2 593.3,126.5 594.3,124.8 595.3,122.9 596.3,121.0 597.3,119.0 598.3,116.9 599.3,114.8 600.3,112.7 601.3,110.5 602.3,108.3 603.3,106.2 604.3,104.1 605.3,102.0 606.3,100.0 607.3,98.1 608.3,96.3 609.3,94.7 610.3,93.1 611.3,91.8 612.3,90.6 613.3,89.6 614.3,88.8 615.4,88.2 616.4,87.8 617.4,87.6 618.4,87.7 619.4,87.9 620.4,88.3 621.4,88.9 622.4,89.6 623.4,90.5 624.4,91.6 625.4,92.8 626.4,94.1 627.4,95.6 628.4,97.2 629.4,98.8 630.4,100.6 631.4,102.4 632.4,104.3 633.4,106.2 634.4,108.1 635.4,110.1 636.4,112.1 637.4,114.0 638.4,115.9 639.4,117.8 640.4,119.7 641.4,121.5 642.4,123.2 643.4,124.9 644.4,126.5 645.4,128.0 646.4,129.5 647.4,130.8 648.4,132.1 649.4,133.4 650.4,134.5 651.4,135.5 652.4,136.5 653.4,137.4 654.4,138.2 655.4,139.0 656.4,139.7 657.4,140.3 658.4,140.9 659.4,141.4 660.4,141.9 661.4,142.3 662.4,142.6 663.4,143.0 664.4,143.3 665.4,143.5 666.4,143.7 667.4,143.9 668.4,144.1 669.4,144.3 670.4,144.4 671.4,144.5 672.4,144.6 673.4,144.7 674.4,144.7 675.4,144.8 676.4,144.8 677.4,144.9 678.4,144.9 679.4,145.0 680.4,145.0 681.4,145.0 682.4,145.0 683.4,145.0 684.4,145.0 685.4,145.1 686.4,145.1 687.4,145.1 688.4,145.1 689.4,145.1 690.4,145.1 691.4,145.1 692.4,145.1 693.4,145.1 694.4,145.1 695.4,145.1 696.4,145.1 697.4,145.1 698.4,145.1 699.4,145.1 700.4,145.1 701.4,145.1 702.4,145.1 703.4,145.1 704.4,145.1 705.4,145.1 706.4,145.1 707.4,145.1 708.4,145.1 709.4,145.1 710.4,145.1 711.4,145.1 712.4,145.1 713.5,145.1 714.5,145.1 715.5,145.1 716.5,145.1 717.5,145.1 718.5,145.1 719.5,145.1 720.5,145.1 721.5,145.1 722.5,145.1 723.5,145.1 724.5,145.1 725.5,145.1 726.5,145.1 727.5,145.1 728.5,145.1 729.5,145.1 730.5,145.1 731.5,145.1 732.5,145.1 733.5,145.1 734.5,145.1 735.5,145.1 736.5,145.1 737.5,145.1 738.5,145.1 739.5,145.1 740.5,145.1 741.5,145.1 742.5,145.1 743.5,145.1 744.5,145.1 745.5,145.1 746.5,145.1 747.5,145.1 748.5,145.1 749.5,145.1 750.5,145.1 751.5,145.1 752.5,145.1 753.5,145.1 754.5,145.1 755.5,145.1 756.5,145.1 757.5,145.1 758.5,145.1 759.5,145.1 760.5,145.1 761.5,145.1" stroke="#00ff00"/>
<polyline points="565.3,134.7 566.3,134.5 567.3,134.3 568.3,134.1 569.3,133.9 570.3,133.7 571.3,133.4 572.3,133.2 573.3,132.9 574.3,132.7 575.3,132.4 576.3,132.1 577.3,131.8 578.3,131.5 579.3,131.2 580.3,130.9 581.3,130.6 582.3,130.3 583.3,129.9 584.3,129.6 585.3,129.2 586.3,128.8 587.3,128.4 588.3,128.0 589.3,127.6 590.3,127.2 591.3,126.7 592.3,126.3 593.3,125.8 594.3,125.3 595.3,124.8 596.3,124.3 597.3,123.7 598.3,123.1 599.3,122.5 600.3,121.9 601.3,121.3 602.3,120.6 603.3,119.9 604.3,119.2 605.3,118.5 606.3,117.7 607.3,116.9 608.3,116.1 609.3,115.2 610.3,114.3 611.3,113.4 612.3,112.4 613.3,111.4 614.3,110.4 615.4,109.3 616.4,108.2 617.4,107.0 618.4,105.8 619.4,104.5 620.4,103.2 621.4,101.9 622.4,100.5 623.4,99.0 624.4,97.5 625.4,95.9 626.4,94.3 627.4,92.7 628.4,90.9 629.4,89.2 630.4,87.3 631.4,85.5 632.4,83.6 633.4,81.6 634.4,79.6 635.4,77.5 636.4,75.5 637.4,73.3 638.4,71.2 639.4,69.1 640.4,66.9 641.4,64.8 642.4,62.7 643.4,60.6 644.4,58.6 645.4,56.6 646.4,54.7 647.4,52.9 648.4,51.2 649.4,49.6 650.4,48.2 651.4,46.9 652.4,45.8 653.4,44.9 654.4,44.1 655.4,43.6 656.4,43.2 657.4,43.1 658.4,43.2 659.4,43.5 660.4,44.0 661.4,44.6 662.4,45.5 663.4,46.6 664.4,47.8 665.4,49.1 666.4,50.6 667.4,52.3 668.4,54.0 669.4,55.9 670.4,57.8 671.4,59.7 672.4,61.8 673.4,63.8 674.4,65.9 675.4,68.0 676.4,70.1 677.4,72.2 678.4,74.3 679.4,76.4 680.4,78.4 681.4,80.4 682.4,82.4 683.4,84.3 684.4,86.2 685.4,88.0 686.4,89.8 687.4,91.5 688.4,93.2 689.4,94.8 690.4,96.4 691.4,97.9 692.4,99.4 693.4,100.8 694.4,102.1 695.4,103.5 696.4,104.7 697.4,106.0 698.4,107.2 699.4,108.3 700.4,109.4 701.4,110.5 702.4,111.5 703.4,112.5 704.4,113.4 705.4,114.3 706.4,115.2 707.4,116.1 708.4,116.9 709.4,117.7 710.4,118.4 711.4,119.2 712.4,119.9 713.5,120.6 714.5,121.2 715.5,121.8 716.5,122.4 717.5,123.0 718.5,123.6 719.5,124.1 720.5,124.7 721.5,125.2 722.5,125.7 723.5,126.2 724.5,126.6 725.5,127.1 726.5,127.5 727.5,127.9 728.5,128.3 729.5,128.7 730.5,129.1 731.5,129.4 732.5,129.8 733.5,130.1 734.5,130.5 735.5,130.8 736.5,131.1 737.5,131.4 738.5,131.7 739.5,132.0 740.5,132.3 741.5,132.5 742.5,132.8 743.5,133.0 744.5,133.3 745.5,133.5 746.5,133.7 747.5,134.0 748.5,134.2 749.5,134.4 750.5,134.6 751.5,134.8 752.5,135.0 753.5,135.2 754.5,135.4 755.5,135.5 756.5,135.7 757.5,135.9 758.5,136.1 759.5,136.2 760.5,136.4 761.5,136.5" stroke="#ffff00"/>
<polyline points="565.3,144.3 566.3,144.3 567.3,144.3 568.3,144.3 569.3,144.3 570.3,144.3 571.3,144.3 572.3,144.2 573.3,144.2 574.3,144.2 575.3,144.2 576.3,144.2 577.3,144.2 578.3,144.2 579.3,144.1 580.3,144.1 581.3,144.1 582.3,144.1 583.3,144.1 584.3,144.1 585.3,144.0 586.3,144.0 587.3,144.0 588.3,144.0 589.3,144.0 590.3,143.9 591.3,143.9 592.3,143.9 593.3,143.9 594.3,143.8 595.3,143.8 596.3,143.8 597.3,143.8 598.3,143.7 599.3,143.7 600.3,143.7 601.3,143.7 602.3,143.6 603.3,143.6 604.3,143.6 605.3,143.5 606.3,143.5 607.3,143.5 608.3,143.4 609.3,143.4 610.3,143.3 611.3,143.3 612.3,143.3 613.3,143.2 614.3,143.2 615.4,143.1 616.4,143.1 617.4,143.0 618.4,143.0 619.4,142.9 620.4,142.9 621.4,142.8 622.4,142.8 623.4,142.7 624.4,142.6 625.4,142.6 626.4,142.5 627.4,142.4 628.4,142.4 629.4,142.3 630.4,142.2 631.4,142.1 632.4,142.0 633.4,141.9 634.4,141.8 635.4,141.7 636.4,141.6 637.4,141.5 638.4,141.4 639.4,141.3 640.4,141.2 641.4,141.0 642.4,140.9 643.4,140.8 644.4,140.6 645.4,140.5 646.4,140.3 647.4,140.1 648.4,139.9 649.4,139.7 650.4,139.5 651.4,139.3 652.4,139.1 653.4,138.9 654.4,138.6 655.4,138.4 656.4,138.1 657.4,137.8 658.4,137.5 659.4,137.2 660.4,136.8 661.4,136.4 662.4,136.1 663.4,135.6 664.4,135.2 665.4,134.7 666.4,134.3 667.4,133.7 668.4,133.2 669.4,132.6 670.4,132.0 671.4,131.4 672.4,130.7 673.4,130.0 674.4,129.2 675.4,128.5 676.4,127.7 677.4,126.8 678.4,125.9 679.4,125.0 680.4,124.1 681.4,123.2 682.4,122.2 683.4,121.3 684.4,120.4 685.4,119.5 686.4,118.6 687.4,117.8 688.4,117.1 689.4,116.4 690.4,115.9 691.4,115.4 692.4,115.1 693.4,114.9 694.4,114.9 695.4,115.0 696.4,115.3 697.4,115.8 698.4,116.4 699.4,117.1 700.4,117.9 701.4,118.8 702.4,119.8 703.4,120.8 704.4,121.8 705.4,122.9 706.4,123.9 707.4,124.9 708.4,125.9 709.4,126.9 710.4,127.8 711.4,128.7 712.4,129.6 713.5,130.4 714.5,131.1 715.5,131.8 716.5,132.5 717.5,133.2 718.5,133.8 719.5,134.3 720.5,134.9 721.5,135.4 722.5,135.8 723.5,136.3 724.5,136.7 725.5,137.1 726.5,137.4 727.5,137.8 728.5,138.1 729.5,138.4 730.5,138.7 731.5,139.0 732.5,139.2 733.5,139.5 734.5,139.7 735.5,139.9 736.5,140.1 737.5,140.3 738.5,140.5 739.5,140.7 740.5,140.8 741.5,141.0 742.5,141.1 743.5,141.3 744.5,141.4 745.5,141.5 746.5,141.6 747.5,141.8 748.5,141.9 749.5,142.0 750.5,142.1 751.5,142.2 752.5,142.3 753.5,142.3 754.5,142.4 755.5,142.5 756.5,142.6 757.5,142.7 758.5,142.7 759.5,142.8 760.5,142.9 761.5,142.9" stroke="#0000ff"/>
<polyline points="565.3,145.1 566.3,145.1 567.3,145.1 568.3,145.1 569.3,145.1 570.3,145.1 571.3,145.1 572.3,145.1 573.3,145.1 574.3,145.1 575.3,145.1 576.3,145.1 577.3,145.1 578.3,145.1 579.3,145.1 580.3,145.1 581.3,145.1 582.3,145.1 583.3,145.1 584.3,145.1 585.3,145.1 586.3,145.1 587.3,145.1 588.3,145.1 589.3,145.1 590.3,145.1 591.3,145.1 592.3,145.1 593.3,145.1 594.3,145.1 595.3,145.1 596.3,145.1 597.3,145.1 598.3,145.1 599.3,145.1 600.3,145.1 601.3,145.1 602.3,145.1 603.3,145.1 604.3,145.1 605.3,145.0 606.3,145.0 607.3,145.0 608.3,145.0 609.3,145.0 610.3,145.0 611.3,145.0 612.3,145.0 613.3,145.0 614.3,145.0 615.4,145.0 616.4,145.0 617.4,145.0 618.4,145.0 619.4,145.0 620.4,145.0 621.4,145.0 622.4,145.0 623.4,145.0 624.4,145.0 625.4,145.0 626.4,145.0 627.4,145.0 628.4,145.0 629.4,145.0 630.4,145.0 631.4,145.0 632.4,145.0 633.4,145.0 634.4,145.0 635.4,145.0 636.4,145.0 637.4,145.0 638.4,145.0 639.4,145.0 640.4,145.0 641.4,145.0 642.4,145.0 643.4,145.0 644.4,145.0 645.4,145.0 646.4,145.0 647.4,145.0 648.4,145.0 649.4,145.0 650.4,145.0 651.4,145.0 652.4,145.0 653.4,145.0 654.4,145.0 655.4,145.0 656.4,145.0 657.4,145.0 658.4,145.0 659.4,145.0 660.4,145.0 661.4,145.0 662.4,145.0 663.4,144.9 664.4,144.9 665.4,144.9 666.4,144.9 667.4,144.9 668.4,144.9 669.4,144.9 670.4,144.9 671.4,144.9 672.4,144.9 673.4,144.9 674.4,144.9 675.4,144.9 676.4,144.9 677.4,144.9 678.4,144.9 679.4,144.9 680.4,144.9 681.4,144.8 682.4,144.8 683.4,144.8 684.4,144.8 685.4,144.8 686.4,144.8 687.4,144.8 688.4,144.8 689.4,144.8 690.4,144.8 691.4,144.7 692.4,144.7 693.4,144.7 694.4,144.7 695.4,144.7 696.4,144.7 697.4,144.6 698.4,144.6 699.4,144.6 700.4,144.6 701.4,144.5 702.4,144.5 703.4,144.5 704.4,144.5 705.4,144.4 706.4,144.4 707.4,144.3 708.4,144.3 709.4,144.2 710.4,144.2 711.4,144.1 712.4,144.1 713.5,144.0 714.5,143.9 715.5,143.8 716.5,143.7 717.5,143.6 718.5,143.5 719.5,143.4 720.5,143.2 721.5,143.1 722.5,142.8 723.5,142.6 724.5,142.3 725.5,141.9 726.5,141.4 727.5,140.7 728.5,139.8 729.5,138.7 730.5,137.3 731.5,135.4 732.5,133.2 733.5,130.4 734.5,127.2 735.5,123.5 736.5,119.4 737.5,115.0 738.5,110.7 739.5,106.8 740.5,103.7 741.5,101.9 742.5,101.7 743.5,103.2 744.5,106.0 745.5,109.7 746.5,114.0 747.5,118.3 748.5,122.5 749.5,126.3 750.5,129.7 751.5,132.6 752.5,134.9 753.5,136.9 754.5,138.4 755.5,139.6 756.5,140.5 757.5,141.2 758.5,141.8 759.5,142.2 760.5,142.5 761.5,142.8" stroke="#ff00ff"/>
</g>
<g stroke="#222" stroke-width="1.1" fill="none">
<path d="M565.3,150.5V19.7H761.5V150.5"/>
<path d="M565.3,145.1H761.5" stroke="#333"/>
<path d="M560.8,19.7H565.3M560.8,37.7H565.3M560.8,55.8H565.3M560.8,73.7H565.3M560.8,91.6H565.3M560.8,110.0H565.3M560.8,127.6H565.3M560.8,144.9H565.3M565.3,145.1V150.5M604.8,145.1V150.5M644.0,145.1V150.5M683.0,145.1V150.5M722.4,145.1V150.5M761.4,145.1V150.5"/>
</g>
<g font-family='"Liberation Sans", sans-serif' fill="#111">
<text x="567.2" y="37.0" font-size="16" font-weight="bold" textLength="39.4" lengthAdjust="spacingAndGlyphs">0 min</text>
<text x="543.4" y="136.1" font-size="14.5" textLength="107.5" lengthAdjust="spacingAndGlyphs" transform="rotate(-90 543.4 136.1)">Abs. Signal (a.u.)</text>
<text x="565.3" y="165.8" font-size="12" text-anchor="middle" textLength="22.7" lengthAdjust="spacingAndGlyphs">1700</text>
<text x="604.8" y="165.8" font-size="12" text-anchor="middle" textLength="22.7" lengthAdjust="spacingAndGlyphs">1680</text>
<text x="644.0" y="165.8" font-size="12" text-anchor="middle" textLength="22.7" lengthAdjust="spacingAndGlyphs">1660</text>
<text x="683.0" y="165.8" font-size="12" text-anchor="middle" textLength="22.7" lengthAdjust="spacingAndGlyphs">1640</text>
<text x="722.4" y="165.8" font-size="12" text-anchor="middle" textLength="22.7" lengthAdjust="spacingAndGlyphs">1620</text>
<text x="761.4" y="165.8" font-size="12" text-anchor="middle" textLength="22.7" lengthAdjust="spacingAndGlyphs">1600</text>
<text x="606.1" y="193.4" font-size="13.5" textLength="115.5" lengthAdjust="spacingAndGlyphs">Wavenumber (cm<tspan font-size="8.4" dy="-5.7">-1</tspan><tspan dy="5.7">)</tspan></text>
</g>
<g fill="none" stroke-width="1.3" stroke-linejoin="round">
<polyline points="815.3,147.2 816.3,146.0 817.3,145.9 818.3,145.0 819.3,143.3 820.3,142.2 821.3,141.4 822.3,140.6 823.3,139.3 824.3,138.1 825.3,135.9 826.3,133.2 827.3,131.2 828.3,129.0 829.3,126.8 830.3,125.4 831.3,125.2 832.3,123.4 833.3,121.8 834.3,120.3 835.3,118.8 836.3,116.3 837.3,113.9 838.3,112.2 839.3,110.7 840.3,109.1 841.3,106.4 842.3,104.1 843.3,101.5 844.3,97.8 845.3,94.0 846.3,91.5 847.3,89.6 848.3,87.2 849.3,84.7 850.3,82.5 851.3,79.9 852.3,75.7 853.3,72.4 854.3,69.7 855.3,65.9 856.3,62.9 857.3,59.6 858.3,56.8 859.3,54.7 860.3,53.1 861.3,51.5 862.2,51.4 863.2,50.9 864.2,49.2 865.2,48.6 866.2,47.0 867.2,46.2 868.2,44.8 869.2,45.9 870.2,46.4 871.2,47.4 872.2,48.9 873.2,49.9 874.2,50.0 875.2,50.0 876.2,50.1 877.2,50.0 878.2,51.4 879.2,51.2 880.2,51.6 881.2,51.9 882.2,52.3 883.2,51.4 884.2,51.7 885.2,51.1 886.2,50.7 887.2,48.7 888.2,48.3 889.2,46.7 890.2,45.8 891.2,45.1 892.2,44.5 893.2,43.3 894.2,43.7 895.2,43.0 896.2,41.9 897.2,40.7 898.2,40.1 899.2,39.4 900.2,39.4 901.2,39.8 902.2,41.7 903.2,42.6 904.2,43.7 905.2,45.2 906.2,46.4 907.2,47.5 908.2,50.0 909.2,51.8 910.2,52.4 911.2,54.1 912.2,55.7 913.2,56.5 914.2,57.2 915.2,58.5 916.2,59.2 917.2,60.1 918.2,60.6 919.2,61.2 920.2,62.3 921.2,63.4 922.2,64.5 923.2,65.2 924.2,66.7 925.2,68.4 926.2,70.1 927.2,70.8 928.2,73.1 929.2,74.1 930.2,75.4 931.2,76.4 932.2,77.6 933.2,78.8 934.2,80.8 935.2,82.2 936.2,84.3 937.2,86.4 938.2,87.7 939.2,89.1 940.2,91.6 941.2,93.4 942.2,95.0 943.2,97.1 944.2,98.4 945.2,98.9 946.2,100.3 947.2,101.7 948.2,102.0 949.2,103.1 950.2,104.5 951.2,105.4 952.2,107.2 953.2,108.6 954.2,110.3 955.1,111.4 956.1,112.2 957.1,112.8 958.1,114.1 959.1,114.1 960.1,114.9 961.1,114.9 962.1,114.9 963.1,114.9 964.1,115.4 965.1,114.4 966.1,114.4 967.1,113.5 968.1,112.8 969.1,110.8 970.1,109.2 971.1,106.8 972.1,103.6 973.1,101.3 974.1,98.3 975.1,94.4 976.1,92.0 977.1,89.2 978.1,85.5 979.1,83.4 980.1,81.7 981.1,79.3 982.1,78.6 983.1,78.0 984.1,77.4 985.1,78.1 986.1,79.9 987.1,82.7 988.1,85.6 989.1,90.0 990.1,94.1 991.1,97.5 992.1,100.4 993.1,102.8 994.1,105.2 995.1,108.2 996.1,112.5 997.1,119.4 998.1,126.6 999.1,133.4 1000.1,139.8 1001.1,146.3" stroke="#000" stroke-width="1.0"/>
<polyline points="815.3,142.0 816.3,141.1 817.3,140.3 818.3,139.4 819.3,138.5 820.3,137.6 821.3,136.7 822.3,135.8 823.3,134.8 824.3,133.8 825.3,132.7 826.3,131.6 827.3,130.4 828.3,129.2 829.3,127.9 830.3,126.5 831.3,125.1 832.3,123.5 833.3,121.9 834.3,120.2 835.3,118.4 836.3,116.5 837.3,114.6 838.3,112.5 839.3,110.4 840.3,108.2 841.3,106.0 842.3,103.7 843.3,101.3 844.3,98.8 845.3,96.3 846.3,93.7 847.3,91.1 848.3,88.4 849.3,85.6 850.3,82.7 851.3,79.8 852.3,76.8 853.3,73.8 854.3,70.6 855.3,67.4 856.3,64.2 857.3,61.1 858.3,58.2 859.3,55.5 860.3,53.1 861.3,51.2 862.2,49.6 863.2,48.4 864.2,47.5 865.2,47.0 866.2,46.6 867.2,46.5 868.2,46.5 869.2,46.7 870.2,47.0 871.2,47.4 872.2,47.8 873.2,48.3 874.2,48.8 875.2,49.3 876.2,49.8 877.2,50.2 878.2,50.5 879.2,50.8 880.2,50.9 881.2,50.9 882.2,50.7 883.2,50.4 884.2,50.0 885.2,49.5 886.2,48.9 887.2,48.2 888.2,47.5 889.2,46.7 890.2,45.9 891.2,45.1 892.2,44.3 893.2,43.6 894.2,42.9 895.2,42.3 896.2,41.9 897.2,41.6 898.2,41.4 899.2,41.4 900.2,41.7 901.2,42.1 902.2,42.6 903.2,43.4 904.2,44.3 905.2,45.3 906.2,46.4 907.2,47.7 908.2,49.1 909.2,50.6 910.2,52.0 911.2,53.4 912.2,54.6 913.2,55.7 914.2,56.8 915.2,57.8 916.2,58.7 917.2,59.6 918.2,60.5 919.2,61.4 920.2,62.3 921.2,63.3 922.2,64.3 923.2,65.4 924.2,66.6 925.2,67.8 926.2,69.1 927.2,70.5 928.2,71.9 929.2,73.4 930.2,74.9 931.2,76.4 932.2,78.0 933.2,79.6 934.2,81.2 935.2,82.9 936.2,84.5 937.2,86.2 938.2,87.8 939.2,89.5 940.2,91.1 941.2,92.7 942.2,94.3 943.2,95.8 944.2,97.3 945.2,98.7 946.2,100.1 947.2,101.5 948.2,102.8 949.2,104.0 950.2,105.2 951.2,106.4 952.2,107.5 953.2,108.5 954.2,109.5 955.1,110.4 956.1,111.3 957.1,112.2 958.1,112.9 959.1,113.6 960.1,114.2 961.1,114.6 962.1,114.9 963.1,115.1 964.1,115.1 965.1,114.8 966.1,114.3 967.1,113.5 968.1,112.4 969.1,110.9 970.1,109.0 971.1,106.7 972.1,103.9 973.1,100.9 974.1,97.7 975.1,94.4 976.1,91.0 977.1,87.8 978.1,84.8 979.1,82.1 980.1,79.7 981.1,77.9 982.1,76.6 983.1,76.1 984.1,76.2 985.1,77.0 986.1,78.4 987.1,80.3 988.1,82.7 989.1,85.4 990.1,88.5 991.1,91.9 992.1,95.4 993.1,99.1 994.1,102.9 995.1,106.7 996.1,110.7 997.1,114.7 998.1,118.7 999.1,122.8 1000.1,126.9 1001.1,131.0" stroke="#f00" stroke-width="1.3"/>
<polyline points="815.3,149.9 816.3,149.8 817.3,149.6 818.3,149.4 819.3,149.2 820.3,149.0 821.3,148.7 822.3,148.4 823.3,148.0 824.3,147.6 825.3,147.1 826.3,146.6 827.3,146.0 828.3,145.3 829.3,144.5 830.3,143.7 831.3,142.7 832.3,141.6 833.3,140.5 834.3,139.2 835.3,137.7 836.3,136.2 837.3,134.5 838.3,132.7 839.3,130.8 840.3,128.7 841.3,126.5 842.3,124.1 843.3,121.7 844.3,119.1 845.3,116.4 846.3,113.7 847.3,110.8 848.3,108.0 849.3,105.0 850.3,102.1 851.3,99.2 852.3,96.3 853.3,93.4 854.3,90.7 855.3,88.0 856.3,85.5 857.3,83.2 858.3,81.1 859.3,79.2 860.3,77.5 861.3,76.1 862.2,75.0 863.2,74.2 864.2,73.7 865.2,73.6 866.2,73.8 867.2,74.3 868.2,75.1 869.2,76.2 870.2,77.6 871.2,79.3 872.2,81.3 873.2,83.4 874.2,85.8 875.2,88.3 876.2,90.9 877.2,93.7 878.2,96.5 879.2,99.4 880.2,102.4 881.2,105.3 882.2,108.2 883.2,111.1 884.2,113.9 885.2,116.7 886.2,119.3 887.2,121.9 888.2,124.3 889.2,126.7 890.2,128.9 891.2,130.9 892.2,132.9 893.2,134.7 894.2,136.3 895.2,137.9 896.2,139.3 897.2,140.6 898.2,141.7 899.2,142.8 900.2,143.8 901.2,144.6 902.2,145.4 903.2,146.1 904.2,146.7 905.2,147.2 906.2,147.7 907.2,148.1 908.2,148.4 909.2,148.7 910.2,149.0 911.2,149.3 912.2,149.5 913.2,149.6 914.2,149.8 915.2,149.9 916.2,150.0 917.2,150.1 918.2,150.2 919.2,150.3 920.2,150.4 921.2,150.4 922.2,150.5 923.2,150.5 924.2,150.5 925.2,150.6 926.2,150.6 927.2,150.6 928.2,150.7 929.2,150.7 930.2,150.7 931.2,150.7 932.2,150.7 933.2,150.8 934.2,150.8 935.2,150.8 936.2,150.8 937.2,150.8 938.2,150.8 939.2,150.8 940.2,150.9 941.2,150.9 942.2,150.9 943.2,150.9 944.2,150.9 945.2,150.9 946.2,150.9 947.2,150.9 948.2,150.9 949.2,150.9 950.2,150.9 951.2,151.0 952.2,151.0 953.2,151.0 954.2,151.0 955.1,151.0 956.1,151.0 957.1,151.0 958.1,151.0 959.1,151.0 960.1,151.0 961.1,151.0 962.1,151.0 963.1,151.0 964.1,151.0 965.1,151.0 966.1,151.0 967.1,151.1 968.1,151.1 969.1,151.1 970.1,151.1 971.1,151.1 972.1,151.1 973.1,151.1 974.1,151.1 975.1,151.1 976.1,151.1 977.1,151.1 978.1,151.1 979.1,151.1 980.1,151.1 981.1,151.1 982.1,151.1 983.1,151.1 984.1,151.1 985.1,151.1 986.1,151.1 987.1,151.1 988.1,151.1 989.1,151.1 990.1,151.1 991.1,151.1 992.1,151.1 993.1,151.1 994.1,151.1 995.1,151.1 996.1,151.1 997.1,151.2 998.1,151.2 999.1,151.2 1000.1,151.2 1001.1,151.2" stroke="#00ff00"/>
<polyline points="815.3,149.3 816.3,149.2 817.3,149.2 818.3,149.1 819.3,149.1 820.3,149.0 821.3,149.0 822.3,148.9 823.3,148.9 824.3,148.8 825.3,148.7 826.3,148.7 827.3,148.6 828.3,148.5 829.3,148.5 830.3,148.4 831.3,148.3 832.3,148.2 833.3,148.1 834.3,148.0 835.3,147.9 836.3,147.8 837.3,147.7 838.3,147.6 839.3,147.5 840.3,147.4 841.3,147.3 842.3,147.1 843.3,147.0 844.3,146.8 845.3,146.7 846.3,146.5 847.3,146.3 848.3,146.1 849.3,145.9 850.3,145.7 851.3,145.4 852.3,145.1 853.3,144.9 854.3,144.5 855.3,144.2 856.3,143.8 857.3,143.4 858.3,143.0 859.3,142.5 860.3,142.0 861.3,141.5 862.2,140.8 863.2,140.2 864.2,139.4 865.2,138.6 866.2,137.8 867.2,136.9 868.2,135.8 869.2,134.7 870.2,133.6 871.2,132.3 872.2,130.9 873.2,129.5 874.2,127.9 875.2,126.2 876.2,124.5 877.2,122.6 878.2,120.6 879.2,118.6 880.2,116.4 881.2,114.1 882.2,111.8 883.2,109.4 884.2,106.9 885.2,104.4 886.2,101.8 887.2,99.3 888.2,96.7 889.2,94.2 890.2,91.7 891.2,89.3 892.2,87.1 893.2,85.1 894.2,83.2 895.2,81.6 896.2,80.4 897.2,79.4 898.2,78.8 899.2,78.5 900.2,78.6 901.2,79.1 902.2,79.9 903.2,81.1 904.2,82.6 905.2,84.3 906.2,86.3 907.2,88.5 908.2,90.8 909.2,93.2 910.2,95.7 911.2,98.3 912.2,100.9 913.2,103.4 914.2,106.0 915.2,108.5 916.2,110.9 917.2,113.3 918.2,115.6 919.2,117.8 920.2,119.9 921.2,121.9 922.2,123.8 923.2,125.6 924.2,127.3 925.2,128.9 926.2,130.4 927.2,131.8 928.2,133.1 929.2,134.3 930.2,135.4 931.2,136.5 932.2,137.4 933.2,138.3 934.2,139.1 935.2,139.9 936.2,140.6 937.2,141.2 938.2,141.8 939.2,142.3 940.2,142.8 941.2,143.3 942.2,143.7 943.2,144.1 944.2,144.4 945.2,144.7 946.2,145.0 947.2,145.3 948.2,145.6 949.2,145.8 950.2,146.0 951.2,146.2 952.2,146.4 953.2,146.6 954.2,146.8 955.1,146.9 956.1,147.1 957.1,147.2 958.1,147.3 959.1,147.5 960.1,147.6 961.1,147.7 962.1,147.8 963.1,147.9 964.1,148.0 965.1,148.1 966.1,148.2 967.1,148.3 968.1,148.3 969.1,148.4 970.1,148.5 971.1,148.6 972.1,148.6 973.1,148.7 974.1,148.8 975.1,148.8 976.1,148.9 977.1,149.0 978.1,149.0 979.1,149.1 980.1,149.1 981.1,149.2 982.1,149.2 983.1,149.3 984.1,149.3 985.1,149.4 986.1,149.4 987.1,149.4 988.1,149.5 989.1,149.5 990.1,149.6 991.1,149.6 992.1,149.6 993.1,149.7 994.1,149.7 995.1,149.7 996.1,149.8 997.1,149.8 998.1,149.8 999.1,149.8 1000.1,149.9 1001.1,149.9" stroke="#ffff00"/>
<polyline points="815.3,147.9 816.3,147.9 817.3,147.8 818.3,147.8 819.3,147.7 820.3,147.6 821.3,147.6 822.3,147.5 823.3,147.4 824.3,147.4 825.3,147.3 826.3,147.2 827.3,147.2 828.3,147.1 829.3,147.0 830.3,146.9 831.3,146.8 832.3,146.7 833.3,146.7 834.3,146.6 835.3,146.5 836.3,146.4 837.3,146.3 838.3,146.2 839.3,146.1 840.3,146.0 841.3,145.8 842.3,145.7 843.3,145.6 844.3,145.5 845.3,145.4 846.3,145.2 847.3,145.1 848.3,144.9 849.3,144.8 850.3,144.6 851.3,144.5 852.3,144.3 853.3,144.2 854.3,144.0 855.3,143.8 856.3,143.6 857.3,143.4 858.3,143.2 859.3,143.0 860.3,142.8 861.3,142.5 862.2,142.3 863.2,142.1 864.2,141.8 865.2,141.5 866.2,141.2 867.2,141.0 868.2,140.6 869.2,140.3 870.2,140.0 871.2,139.7 872.2,139.3 873.2,138.9 874.2,138.5 875.2,138.1 876.2,137.7 877.2,137.2 878.2,136.8 879.2,136.3 880.2,135.8 881.2,135.3 882.2,134.7 883.2,134.2 884.2,133.6 885.2,132.9 886.2,132.3 887.2,131.6 888.2,130.9 889.2,130.2 890.2,129.4 891.2,128.7 892.2,127.8 893.2,127.0 894.2,126.1 895.2,125.2 896.2,124.3 897.2,123.3 898.2,122.3 899.2,121.3 900.2,120.2 901.2,119.1 902.2,118.0 903.2,116.8 904.2,115.6 905.2,114.4 906.2,113.2 907.2,112.0 908.2,110.7 909.2,109.4 910.2,108.2 911.2,106.9 912.2,105.6 913.2,104.4 914.2,103.2 915.2,102.0 916.2,100.8 917.2,99.7 918.2,98.7 919.2,97.7 920.2,96.8 921.2,96.0 922.2,95.3 923.2,94.7 924.2,94.2 925.2,93.9 926.2,93.6 927.2,93.5 928.2,93.5 929.2,93.7 930.2,94.1 931.2,94.6 932.2,95.3 933.2,96.2 934.2,97.1 935.2,98.2 936.2,99.4 937.2,100.7 938.2,102.1 939.2,103.5 940.2,104.9 941.2,106.4 942.2,107.9 943.2,109.4 944.2,110.9 945.2,112.4 946.2,113.8 947.2,115.2 948.2,116.6 949.2,118.0 950.2,119.3 951.2,120.6 952.2,121.9 953.2,123.1 954.2,124.2 955.1,125.3 956.1,126.4 957.1,127.4 958.1,128.4 959.1,129.3 960.1,130.2 961.1,131.1 962.1,131.9 963.1,132.7 964.1,133.4 965.1,134.1 966.1,134.8 967.1,135.4 968.1,136.0 969.1,136.6 970.1,137.2 971.1,137.7 972.1,138.2 973.1,138.7 974.1,139.1 975.1,139.6 976.1,140.0 977.1,140.4 978.1,140.7 979.1,141.1 980.1,141.4 981.1,141.7 982.1,142.0 983.1,142.3 984.1,142.6 985.1,142.9 986.1,143.1 987.1,143.4 988.1,143.6 989.1,143.8 990.1,144.1 991.1,144.3 992.1,144.5 993.1,144.6 994.1,144.8 995.1,145.0 996.1,145.2 997.1,145.3 998.1,145.5 999.1,145.6 1000.1,145.8 1001.1,145.9" stroke="#0000ff"/>
<polyline points="815.3,151.2 816.3,151.2 817.3,151.2 818.3,151.2 819.3,151.1 820.3,151.1 821.3,151.1 822.3,151.1 823.3,151.1 824.3,151.1 825.3,151.1 826.3,151.1 827.3,151.1 828.3,151.1 829.3,151.1 830.3,151.1 831.3,151.1 832.3,151.1 833.3,151.1 834.3,151.1 835.3,151.1 836.3,151.1 837.3,151.1 838.3,151.1 839.3,151.1 840.3,151.1 841.3,151.1 842.3,151.1 843.3,151.1 844.3,151.1 845.3,151.1 846.3,151.1 847.3,151.1 848.3,151.1 849.3,151.1 850.3,151.1 851.3,151.1 852.3,151.1 853.3,151.1 854.3,151.1 855.3,151.1 856.3,151.0 857.3,151.0 858.3,151.0 859.3,151.0 860.3,151.0 861.3,151.0 862.2,151.0 863.2,151.0 864.2,151.0 865.2,151.0 866.2,151.0 867.2,151.0 868.2,151.0 869.2,151.0 870.2,151.0 871.2,151.0 872.2,151.0 873.2,151.0 874.2,151.0 875.2,151.0 876.2,150.9 877.2,150.9 878.2,150.9 879.2,150.9 880.2,150.9 881.2,150.9 882.2,150.9 883.2,150.9 884.2,150.9 885.2,150.9 886.2,150.9 887.2,150.9 888.2,150.9 889.2,150.8 890.2,150.8 891.2,150.8 892.2,150.8 893.2,150.8 894.2,150.8 895.2,150.8 896.2,150.8 897.2,150.8 898.2,150.7 899.2,150.7 900.2,150.7 901.2,150.7 902.2,150.7 903.2,150.7 904.2,150.7 905.2,150.6 906.2,150.6 907.2,150.6 908.2,150.6 909.2,150.6 910.2,150.5 911.2,150.5 912.2,150.5 913.2,150.5 914.2,150.5 915.2,150.4 916.2,150.4 917.2,150.4 918.2,150.3 919.2,150.3 920.2,150.3 921.2,150.3 922.2,150.2 923.2,150.2 924.2,150.1 925.2,150.1 926.2,150.1 927.2,150.0 928.2,150.0 929.2,149.9 930.2,149.9 931.2,149.8 932.2,149.8 933.2,149.7 934.2,149.6 935.2,149.6 936.2,149.5 937.2,149.4 938.2,149.3 939.2,149.3 940.2,149.2 941.2,149.1 942.2,149.0 943.2,148.8 944.2,148.7 945.2,148.6 946.2,148.4 947.2,148.3 948.2,148.1 949.2,147.9 950.2,147.8 951.2,147.5 952.2,147.3 953.2,147.1 954.2,146.8 955.1,146.5 956.1,146.1 957.1,145.7 958.1,145.3 959.1,144.8 960.1,144.3 961.1,143.7 962.1,142.9 963.1,142.1 964.1,141.1 965.1,140.0 966.1,138.7 967.1,137.2 968.1,135.5 969.1,133.5 970.1,131.1 971.1,128.5 972.1,125.5 973.1,122.2 974.1,118.5 975.1,114.4 976.1,110.1 977.1,105.7 978.1,101.2 979.1,97.0 980.1,93.4 981.1,90.7 982.1,89.1 983.1,89.0 984.1,90.3 985.1,92.9 986.1,96.4 987.1,100.5 988.1,104.9 989.1,109.4 990.1,113.8 991.1,117.8 992.1,121.6 993.1,125.0 994.1,128.1 995.1,130.7 996.1,133.1 997.1,135.2 998.1,137.0 999.1,138.5 1000.1,139.8 1001.1,141.0" stroke="#ff00ff"/>
</g>
<g stroke="#222" stroke-width="1.1" fill="none">
<path d="M815.3,157.0V20.5H1001.1V157.0"/>
<path d="M815.3,152.0H1001.1" stroke="#333"/>
<path d="M810.8,20.5H815.3M810.8,39.4H815.3M810.8,57.8H815.3M810.8,76.7H815.3M810.8,95.3H815.3M810.8,113.9H815.3M810.8,132.5H815.3M810.8,151.4H815.3M815.3,152.0V157.0M852.8,152.0V157.0M889.6,152.0V157.0M926.8,152.0V157.0M963.8,152.0V157.0M1001.1,152.0V157.0"/>
</g>
<g font-family='"Liberation Sans", sans-serif' fill="#111">
<text x="818.1" y="32.4" font-size="12.3" font-weight="bold" textLength="36.7" lengthAdjust="spacingAndGlyphs">15 min</text>
<text x="799.6" y="137.5" font-size="14.4" textLength="104.5" lengthAdjust="spacingAndGlyphs" transform="rotate(-90 799.6 137.5)">Abs. Signal (a.u.)</text>
<text x="815.3" y="172.4" font-size="11.5" text-anchor="middle" textLength="24.2" lengthAdjust="spacingAndGlyphs">1700</text>
<text x="852.8" y="172.4" font-size="11.5" text-anchor="middle" textLength="24.2" lengthAdjust="spacingAndGlyphs">1680</text>
<text x="889.6" y="172.4" font-size="11.5" text-anchor="middle" textLength="24.2" lengthAdjust="spacingAndGlyphs">1660</text>
<text x="926.8" y="172.4" font-size="11.5" text-anchor="middle" textLength="24.2" lengthAdjust="spacingAndGlyphs">1640</text>
<text x="963.8" y="172.4" font-size="11.5" text-anchor="middle" textLength="24.2" lengthAdjust="spacingAndGlyphs">1620</text>
<text x="1001.1" y="172.4" font-size="11.5" text-anchor="middle" textLength="24.2" lengthAdjust="spacingAndGlyphs">1600</text>
<text x="846.8" y="194.0" font-size="14" textLength="123.5" lengthAdjust="spacingAndGlyphs">Wave number (cm<tspan font-size="8.7" dy="-5.9">-1</tspan><tspan dy="5.9">)</tspan></text>
</g>
<g fill="none" stroke-width="1.3" stroke-linejoin="round">
<polyline points="565.3,338.0 566.3,336.9 567.3,336.3 568.3,335.2 569.3,333.8 570.3,332.9 571.3,332.1 572.3,331.2 573.3,329.9 574.3,328.6 575.3,326.6 576.3,324.1 577.3,322.1 578.3,319.8 579.3,317.6 580.3,315.9 581.3,314.9 582.3,312.9 583.3,311.0 584.3,309.3 585.4,307.6 586.4,305.2 587.4,302.9 588.4,301.0 589.4,299.3 590.4,297.4 591.4,294.8 592.4,292.5 593.4,289.8 594.4,286.3 595.4,282.8 596.4,279.9 597.4,277.5 598.4,274.6 599.4,271.8 600.4,269.1 601.4,266.1 602.4,262.2 603.4,259.0 604.4,256.3 605.4,252.9 606.4,250.1 607.4,247.3 608.4,244.8 609.4,242.8 610.4,241.1 611.4,239.5 612.4,238.8 613.4,238.0 614.4,236.5 615.4,236.0 616.4,235.1 617.4,235.0 618.4,234.8 619.4,236.4 620.4,237.8 621.4,239.7 622.4,241.9 623.5,243.9 624.5,245.3 625.5,246.6 626.5,248.0 627.5,249.2 628.5,251.4 629.5,252.5 630.5,254.1 631.5,255.6 632.5,257.2 633.5,258.0 634.5,259.5 635.5,260.4 636.5,261.5 637.5,261.5 638.5,262.5 639.5,262.7 640.5,263.3 641.5,264.0 642.5,264.6 643.5,264.8 644.5,265.9 645.5,266.2 646.5,266.1 647.5,265.9 648.5,266.0 649.5,266.0 650.5,266.4 651.5,267.1 652.5,268.8 653.5,269.9 654.5,271.1 655.5,272.7 656.5,274.0 657.5,275.2 658.5,277.3 659.5,278.9 660.5,279.7 661.5,281.2 662.6,282.5 663.6,283.3 664.6,284.1 665.6,285.3 666.6,286.2 667.6,287.5 668.6,288.5 669.6,289.8 670.6,291.3 671.6,293.0 672.6,294.6 673.6,295.9 674.6,297.8 675.6,299.7 676.6,301.5 677.6,302.7 678.6,304.7 679.6,305.8 680.6,307.1 681.6,308.1 682.6,309.2 683.6,310.1 684.6,311.6 685.6,312.7 686.6,314.3 687.6,315.8 688.6,316.8 689.6,318.0 690.6,319.9 691.6,321.4 692.6,322.8 693.6,324.5 694.6,325.7 695.6,326.4 696.6,327.6 697.6,328.8 698.6,329.3 699.6,330.2 700.7,331.3 701.7,331.9 702.7,333.1 703.7,333.9 704.7,334.7 705.7,335.1 706.7,335.2 707.7,335.2 708.7,335.4 709.7,334.8 710.7,334.7 711.7,334.0 712.7,333.1 713.7,332.1 714.7,331.8 715.7,330.7 716.7,330.6 717.7,330.1 718.7,329.7 719.7,328.5 720.7,327.4 721.7,325.4 722.7,322.7 723.7,320.1 724.7,316.7 725.7,312.2 726.7,308.1 727.7,303.3 728.7,297.6 729.7,292.2 730.7,286.5 731.7,279.8 732.7,273.6 733.7,267.4 734.7,261.0 735.7,255.4 736.7,250.6 737.7,247.2 738.8,244.6 739.8,244.0 740.8,244.4 741.8,245.7 742.8,248.0 743.8,251.2 744.8,255.3 745.8,260.6 746.8,267.3 747.8,274.3 748.8,281.8 749.8,288.9 750.8,295.4 751.8,301.5 752.8,307.9 753.8,314.3 754.8,319.5 755.8,325.2 756.8,329.8 757.8,333.8" stroke="#000" stroke-width="1.0"/>
<polyline points="565.3,333.5 566.3,332.9 567.3,332.2 568.3,331.5 569.3,330.7 570.3,329.9 571.3,329.0 572.3,328.0 573.3,327.0 574.3,325.8 575.3,324.5 576.3,323.1 577.3,321.5 578.3,319.9 579.3,318.3 580.3,316.5 581.3,314.7 582.3,312.9 583.3,311.0 584.3,309.1 585.4,307.2 586.4,305.2 587.4,303.2 588.4,301.2 589.4,299.0 590.4,296.8 591.4,294.5 592.4,292.1 593.4,289.6 594.4,286.9 595.4,284.2 596.4,281.3 597.4,278.4 598.4,275.4 599.4,272.3 600.4,269.2 601.4,266.0 602.4,262.9 603.4,259.8 604.4,256.8 605.4,253.8 606.4,251.0 607.4,248.2 608.4,245.6 609.4,243.2 610.4,241.1 611.4,239.1 612.4,237.5 613.4,236.2 614.4,235.3 615.4,234.8 616.4,234.8 617.4,235.1 618.4,235.8 619.4,236.9 620.4,238.1 621.4,239.5 622.4,241.1 623.5,242.8 624.5,244.5 625.5,246.1 626.5,247.7 627.5,249.3 628.5,250.7 629.5,252.2 630.5,253.5 631.5,254.8 632.5,256.1 633.5,257.2 634.5,258.3 635.5,259.3 636.5,260.2 637.5,261.1 638.5,261.9 639.5,262.6 640.5,263.3 641.5,263.9 642.5,264.4 643.5,264.9 644.5,265.3 645.5,265.7 646.5,266.0 647.5,266.4 648.5,266.8 649.5,267.3 650.5,267.9 651.5,268.5 652.5,269.3 653.5,270.3 654.5,271.4 655.5,272.7 656.5,274.0 657.5,275.3 658.5,276.7 659.5,278.0 660.5,279.3 661.5,280.6 662.6,281.7 663.6,282.7 664.6,283.8 665.6,284.8 666.6,285.9 667.6,287.1 668.6,288.4 669.6,289.8 670.6,291.3 671.6,292.8 672.6,294.4 673.6,296.0 674.6,297.6 675.6,299.2 676.6,300.8 677.6,302.4 678.6,303.9 679.6,305.3 680.6,306.7 681.6,308.0 682.6,309.3 683.6,310.6 684.6,311.9 685.6,313.1 686.6,314.4 687.6,315.6 688.6,316.9 689.6,318.2 690.6,319.5 691.6,320.8 692.6,322.2 693.6,323.5 694.6,324.9 695.6,326.2 696.6,327.4 697.6,328.6 698.6,329.7 699.6,330.8 700.7,331.7 701.7,332.5 702.7,333.2 703.7,333.7 704.7,334.1 705.7,334.4 706.7,334.6 707.7,334.7 708.7,334.6 709.7,334.4 710.7,334.1 711.7,333.7 712.7,333.2 713.7,332.8 714.7,332.4 715.7,332.2 716.7,332.2 717.7,332.0 718.7,331.7 719.7,331.0 720.7,329.8 721.7,328.0 722.7,325.6 723.7,322.6 724.7,319.1 725.7,315.1 726.7,310.5 727.7,305.4 728.7,299.9 729.7,294.0 730.7,287.6 731.7,281.0 732.7,274.4 733.7,267.9 734.7,261.8 735.7,256.3 736.7,251.5 737.7,247.6 738.8,244.8 739.8,243.2 740.8,243.1 741.8,244.5 742.8,247.2 743.8,251.0 744.8,255.9 745.8,261.7 746.8,268.1 747.8,275.0 748.8,282.0 749.8,289.0 750.8,295.7 751.8,301.9 752.8,307.6 753.8,312.6 754.8,316.9 755.8,320.6 756.8,323.8 757.8,326.8" stroke="#f00" stroke-width="1.3"/>
<polyline points="565.3,333.1 566.3,332.7 567.3,332.3 568.3,331.8 569.3,331.3 570.3,330.7 571.3,330.0 572.3,329.3 573.3,328.5 574.3,327.6 575.3,326.7 576.3,325.6 577.3,324.5 578.3,323.2 579.3,321.9 580.3,320.4 581.3,318.8 582.3,317.1 583.3,315.3 584.3,313.4 585.4,311.3 586.4,309.1 587.4,306.8 588.4,304.4 589.4,301.8 590.4,299.2 591.4,296.4 592.4,293.6 593.4,290.7 594.4,287.7 595.4,284.6 596.4,281.5 597.4,278.4 598.4,275.2 599.4,272.1 600.4,268.9 601.4,265.9 602.4,262.8 603.4,259.9 604.4,257.1 605.4,254.4 606.4,251.9 607.4,249.6 608.4,247.4 609.4,245.5 610.4,243.9 611.4,242.5 612.4,241.4 613.4,240.5 614.4,240.0 615.4,239.8 616.4,239.9 617.4,240.5 618.4,241.4 619.4,242.7 620.4,244.3 621.4,246.3 622.4,248.6 623.5,251.2 624.5,254.0 625.5,257.0 626.5,260.2 627.5,263.5 628.5,266.9 629.5,270.4 630.5,274.0 631.5,277.6 632.5,281.1 633.5,284.6 634.5,288.1 635.5,291.5 636.5,294.8 637.5,297.9 638.5,301.0 639.5,303.9 640.5,306.6 641.5,309.2 642.5,311.7 643.5,314.0 644.5,316.1 645.5,318.1 646.5,320.0 647.5,321.7 648.5,323.2 649.5,324.6 650.5,325.9 651.5,327.1 652.5,328.1 653.5,329.0 654.5,329.9 655.5,330.6 656.5,331.3 657.5,331.9 658.5,332.4 659.5,332.9 660.5,333.3 661.5,333.6 662.6,333.9 663.6,334.2 664.6,334.5 665.6,334.7 666.6,334.9 667.6,335.0 668.6,335.2 669.6,335.3 670.6,335.4 671.6,335.5 672.6,335.6 673.6,335.7 674.6,335.7 675.6,335.8 676.6,335.8 677.6,335.9 678.6,335.9 679.6,336.0 680.6,336.0 681.6,336.1 682.6,336.1 683.6,336.1 684.6,336.2 685.6,336.2 686.6,336.2 687.6,336.2 688.6,336.3 689.6,336.3 690.6,336.3 691.6,336.3 692.6,336.4 693.6,336.4 694.6,336.4 695.6,336.4 696.6,336.4 697.6,336.5 698.6,336.5 699.6,336.5 700.7,336.5 701.7,336.5 702.7,336.5 703.7,336.6 704.7,336.6 705.7,336.6 706.7,336.6 707.7,336.6 708.7,336.6 709.7,336.6 710.7,336.6 711.7,336.7 712.7,336.7 713.7,336.7 714.7,336.7 715.7,336.7 716.7,336.7 717.7,336.7 718.7,336.7 719.7,336.7 720.7,336.7 721.7,336.7 722.7,336.8 723.7,336.8 724.7,336.8 725.7,336.8 726.7,336.8 727.7,336.8 728.7,336.8 729.7,336.8 730.7,336.8 731.7,336.8 732.7,336.8 733.7,336.8 734.7,336.8 735.7,336.8 736.7,336.8 737.7,336.9 738.8,336.9 739.8,336.9 740.8,336.9 741.8,336.9 742.8,336.9 743.8,336.9 744.8,336.9 745.8,336.9 746.8,336.9 747.8,336.9 748.8,336.9 749.8,336.9 750.8,336.9 751.8,336.9 752.8,336.9 753.8,336.9 754.8,336.9 755.8,336.9 756.8,336.9 757.8,336.9" stroke="#00ff00"/>
<polyline points="565.3,337.2 566.3,337.2 567.3,337.2 568.3,337.2 569.3,337.2 570.3,337.2 571.3,337.2 572.3,337.2 573.3,337.2 574.3,337.2 575.3,337.2 576.3,337.2 577.3,337.2 578.3,337.2 579.3,337.2 580.3,337.2 581.3,337.2 582.3,337.2 583.3,337.2 584.3,337.2 585.4,337.2 586.4,337.2 587.4,337.2 588.4,337.2 589.4,337.2 590.4,337.2 591.4,337.2 592.4,337.1 593.4,337.1 594.4,337.1 595.4,337.1 596.4,337.1 597.4,337.0 598.4,337.0 599.4,337.0 600.4,336.9 601.4,336.8 602.4,336.8 603.4,336.7 604.4,336.6 605.4,336.5 606.4,336.3 607.4,336.1 608.4,336.0 609.4,335.7 610.4,335.5 611.4,335.2 612.4,334.9 613.4,334.5 614.4,334.0 615.4,333.6 616.4,333.0 617.4,332.4 618.4,331.7 619.4,331.0 620.4,330.2 621.4,329.3 622.4,328.3 623.5,327.2 624.5,326.1 625.5,324.8 626.5,323.5 627.5,322.1 628.5,320.6 629.5,319.0 630.5,317.3 631.5,315.6 632.5,313.8 633.5,312.0 634.5,310.0 635.5,308.1 636.5,306.1 637.5,304.2 638.5,302.2 639.5,300.2 640.5,298.3 641.5,296.4 642.5,294.6 643.5,292.9 644.5,291.2 645.5,289.7 646.5,288.3 647.5,287.1 648.5,286.0 649.5,285.1 650.5,284.3 651.5,283.8 652.5,283.4 653.5,283.2 654.5,283.2 655.5,283.5 656.5,284.0 657.5,284.7 658.5,285.6 659.5,286.7 660.5,288.0 661.5,289.4 662.6,291.0 663.6,292.8 664.6,294.6 665.6,296.6 666.6,298.6 667.6,300.7 668.6,302.8 669.6,304.9 670.6,307.0 671.6,309.1 672.6,311.2 673.6,313.2 674.6,315.1 675.6,317.0 676.6,318.8 677.6,320.5 678.6,322.1 679.6,323.6 680.6,325.1 681.6,326.4 682.6,327.6 683.6,328.7 684.6,329.7 685.6,330.6 686.6,331.4 687.6,332.2 688.6,332.9 689.6,333.5 690.6,334.0 691.6,334.5 692.6,334.9 693.6,335.2 694.6,335.5 695.6,335.8 696.6,336.0 697.6,336.2 698.6,336.4 699.6,336.5 700.7,336.6 701.7,336.7 702.7,336.8 703.7,336.9 704.7,337.0 705.7,337.0 706.7,337.0 707.7,337.1 708.7,337.1 709.7,337.1 710.7,337.1 711.7,337.2 712.7,337.2 713.7,337.2 714.7,337.2 715.7,337.2 716.7,337.2 717.7,337.2 718.7,337.2 719.7,337.2 720.7,337.2 721.7,337.2 722.7,337.2 723.7,337.2 724.7,337.2 725.7,337.2 726.7,337.2 727.7,337.2 728.7,337.2 729.7,337.2 730.7,337.2 731.7,337.2 732.7,337.2 733.7,337.2 734.7,337.2 735.7,337.2 736.7,337.2 737.7,337.2 738.8,337.2 739.8,337.2 740.8,337.2 741.8,337.2 742.8,337.2 743.8,337.2 744.8,337.2 745.8,337.2 746.8,337.2 747.8,337.2 748.8,337.2 749.8,337.2 750.8,337.2 751.8,337.2 752.8,337.2 753.8,337.2 754.8,337.2 755.8,337.2 756.8,337.2 757.8,337.2" stroke="#ffff00"/>
<polyline points="565.3,337.2 566.3,337.2 567.3,337.2 568.3,337.2 569.3,337.2 570.3,337.2 571.3,337.2 572.3,337.2 573.3,337.2 574.3,337.2 575.3,337.2 576.3,337.2 577.3,337.2 578.3,337.2 579.3,337.2 580.3,337.2 581.3,337.2 582.3,337.2 583.3,337.2 584.3,337.2 585.4,337.2 586.4,337.2 587.4,337.2 588.4,337.2 589.4,337.2 590.4,337.2 591.4,337.2 592.4,337.2 593.4,337.2 594.4,337.2 595.4,337.2 596.4,337.2 597.4,337.2 598.4,337.2 599.4,337.2 600.4,337.2 601.4,337.2 602.4,337.2 603.4,337.2 604.4,337.2 605.4,337.2 606.4,337.2 607.4,337.2 608.4,337.2 609.4,337.2 610.4,337.2 611.4,337.2 612.4,337.2 613.4,337.2 614.4,337.2 615.4,337.2 616.4,337.2 617.4,337.2 618.4,337.2 619.4,337.2 620.4,337.2 621.4,337.2 622.4,337.2 623.5,337.2 624.5,337.2 625.5,337.2 626.5,337.2 627.5,337.2 628.5,337.2 629.5,337.2 630.5,337.2 631.5,337.2 632.5,337.2 633.5,337.2 634.5,337.2 635.5,337.2 636.5,337.2 637.5,337.2 638.5,337.2 639.5,337.2 640.5,337.2 641.5,337.2 642.5,337.2 643.5,337.2 644.5,337.2 645.5,337.2 646.5,337.2 647.5,337.2 648.5,337.2 649.5,337.2 650.5,337.2 651.5,337.2 652.5,337.2 653.5,337.1 654.5,337.1 655.5,337.1 656.5,337.0 657.5,336.9 658.5,336.8 659.5,336.7 660.5,336.5 661.5,336.3 662.6,336.1 663.6,335.8 664.6,335.4 665.6,334.9 666.6,334.4 667.6,333.8 668.6,333.1 669.6,332.4 670.6,331.6 671.6,330.7 672.6,329.8 673.6,328.9 674.6,328.0 675.6,327.1 676.6,326.3 677.6,325.5 678.6,324.9 679.6,324.4 680.6,324.0 681.6,323.8 682.6,323.7 683.6,323.8 684.6,324.1 685.6,324.5 686.6,325.1 687.6,325.8 688.6,326.6 689.6,327.5 690.6,328.4 691.6,329.3 692.6,330.2 693.6,331.1 694.6,331.9 695.6,332.7 696.6,333.4 697.6,334.1 698.6,334.6 699.6,335.1 700.7,335.5 701.7,335.9 702.7,336.2 703.7,336.4 704.7,336.6 705.7,336.8 706.7,336.9 707.7,337.0 708.7,337.0 709.7,337.1 710.7,337.1 711.7,337.1 712.7,337.2 713.7,337.2 714.7,337.2 715.7,337.2 716.7,337.2 717.7,337.2 718.7,337.2 719.7,337.2 720.7,337.2 721.7,337.2 722.7,337.2 723.7,337.2 724.7,337.2 725.7,337.2 726.7,337.2 727.7,337.2 728.7,337.2 729.7,337.2 730.7,337.2 731.7,337.2 732.7,337.2 733.7,337.2 734.7,337.2 735.7,337.2 736.7,337.2 737.7,337.2 738.8,337.2 739.8,337.2 740.8,337.2 741.8,337.2 742.8,337.2 743.8,337.2 744.8,337.2 745.8,337.2 746.8,337.2 747.8,337.2 748.8,337.2 749.8,337.2 750.8,337.2 751.8,337.2 752.8,337.2 753.8,337.2 754.8,337.2 755.8,337.2 756.8,337.2 757.8,337.2" stroke="#0000ff"/>
<polyline points="565.3,337.2 566.3,337.2 567.3,337.2 568.3,337.2 569.3,337.2 570.3,337.2 571.3,337.2 572.3,337.2 573.3,337.2 574.3,337.2 575.3,337.2 576.3,337.2 577.3,337.2 578.3,337.2 579.3,337.2 580.3,337.2 581.3,337.2 582.3,337.2 583.3,337.2 584.3,337.2 585.4,337.2 586.4,337.2 587.4,337.2 588.4,337.2 589.4,337.2 590.4,337.2 591.4,337.2 592.4,337.2 593.4,337.2 594.4,337.2 595.4,337.2 596.4,337.2 597.4,337.2 598.4,337.2 599.4,337.2 600.4,337.2 601.4,337.2 602.4,337.2 603.4,337.2 604.4,337.2 605.4,337.2 606.4,337.2 607.4,337.2 608.4,337.2 609.4,337.2 610.4,337.2 611.4,337.2 612.4,337.2 613.4,337.2 614.4,337.2 615.4,337.2 616.4,337.2 617.4,337.2 618.4,337.2 619.4,337.2 620.4,337.2 621.4,337.2 622.4,337.2 623.5,337.2 624.5,337.2 625.5,337.2 626.5,337.2 627.5,337.2 628.5,337.2 629.5,337.2 630.5,337.2 631.5,337.2 632.5,337.2 633.5,337.2 634.5,337.2 635.5,337.2 636.5,337.2 637.5,337.2 638.5,337.2 639.5,337.2 640.5,337.2 641.5,337.2 642.5,337.2 643.5,337.2 644.5,337.1 645.5,337.1 646.5,337.1 647.5,337.1 648.5,337.1 649.5,337.1 650.5,337.1 651.5,337.1 652.5,337.1 653.5,337.1 654.5,337.1 655.5,337.1 656.5,337.1 657.5,337.1 658.5,337.1 659.5,337.1 660.5,337.1 661.5,337.1 662.6,337.1 663.6,337.1 664.6,337.1 665.6,337.1 666.6,337.1 667.6,337.1 668.6,337.1 669.6,337.1 670.6,337.1 671.6,337.1 672.6,337.1 673.6,337.1 674.6,337.1 675.6,337.1 676.6,337.1 677.6,337.1 678.6,337.1 679.6,337.1 680.6,337.1 681.6,337.1 682.6,337.1 683.6,337.1 684.6,337.1 685.6,337.0 686.6,337.0 687.6,337.0 688.6,337.0 689.6,337.0 690.6,337.0 691.6,337.0 692.6,337.0 693.6,337.0 694.6,337.0 695.6,337.0 696.6,337.0 697.6,337.0 698.6,336.9 699.6,336.9 700.7,336.9 701.7,336.9 702.7,336.9 703.7,336.9 704.7,336.8 705.7,336.8 706.7,336.8 707.7,336.7 708.7,336.7 709.7,336.6 710.7,336.5 711.7,336.4 712.7,336.2 713.7,336.0 714.7,335.7 715.7,335.2 716.7,334.7 717.7,333.9 718.7,333.0 719.7,331.8 720.7,330.2 721.7,328.3 722.7,325.9 723.7,323.1 724.7,319.7 725.7,315.8 726.7,311.3 727.7,306.2 728.7,300.7 729.7,294.6 730.7,288.3 731.7,281.7 732.7,275.1 733.7,268.6 734.7,262.4 735.7,256.8 736.7,252.0 737.7,248.1 738.8,245.4 739.8,243.9 740.8,243.7 741.8,244.9 742.8,247.6 743.8,251.5 744.8,256.5 745.8,262.4 746.8,268.9 747.8,275.7 748.8,282.7 749.8,289.6 750.8,296.2 751.8,302.4 752.8,308.1 753.8,313.2 754.8,317.7 755.8,321.5 756.8,324.7 757.8,327.4" stroke="#ff00ff"/>
</g>
<g stroke="#222" stroke-width="1.1" fill="none">
<path d="M565.3,346.5V205.4H757.8V346.5"/>
<path d="M565.3,341.3H757.8" stroke="#333"/>
<path d="M560.8,205.4H565.3M560.8,231.8H565.3M560.8,258.0H565.3M560.8,284.0H565.3M560.8,310.7H565.3M560.8,337.2H565.3M565.3,341.3V346.5M603.9,341.3V346.5M642.6,341.3V346.5M680.6,341.3V346.5M719.1,341.3V346.5M757.8,341.3V346.5"/>
</g>
<g font-family='"Liberation Sans", sans-serif' fill="#111">
<text x="567.6" y="218.0" font-size="12.8" font-weight="bold" textLength="39.0" lengthAdjust="spacingAndGlyphs">30 min</text>
<text x="550.2" y="316.4" font-size="11" font-weight="bold" textLength="85.0" lengthAdjust="spacingAndGlyphs" transform="rotate(-90 550.2 316.4)">Abs. Signal (a.u.)</text>
<text x="565.3" y="363.1" font-size="13" text-anchor="middle" textLength="25.3" lengthAdjust="spacingAndGlyphs">1700</text>
<text x="603.9" y="363.1" font-size="13" text-anchor="middle" textLength="25.3" lengthAdjust="spacingAndGlyphs">1680</text>
<text x="642.6" y="363.1" font-size="13" text-anchor="middle" textLength="25.3" lengthAdjust="spacingAndGlyphs">1660</text>
<text x="680.6" y="363.1" font-size="13" text-anchor="middle" textLength="25.3" lengthAdjust="spacingAndGlyphs">1640</text>
<text x="719.1" y="363.1" font-size="13" text-anchor="middle" textLength="25.3" lengthAdjust="spacingAndGlyphs">1620</text>
<text x="757.8" y="363.1" font-size="13" text-anchor="middle" textLength="25.3" lengthAdjust="spacingAndGlyphs">1600</text>
<text x="613.1" y="379.5" font-size="10.5" font-weight="bold" textLength="98.0" lengthAdjust="spacingAndGlyphs">Wavenumber (cm<tspan font-size="6.5" dy="-4.4">-1</tspan><tspan dy="4.4">)</tspan></text>
</g>
<g fill="none" stroke-width="1.3" stroke-linejoin="round">
<polyline points="816.4,329.2 817.4,326.9 818.4,325.6 819.4,323.6 820.4,321.2 821.4,319.7 822.4,318.6 823.4,317.9 824.4,316.7 825.4,315.8 826.4,313.9 827.4,311.6 828.4,310.0 829.4,308.2 830.4,306.5 831.4,305.2 832.4,305.0 833.4,303.1 834.4,301.4 835.4,299.8 836.4,298.3 837.4,295.6 838.4,293.1 839.4,291.2 840.5,289.6 841.5,287.8 842.5,284.9 843.5,282.5 844.5,279.7 845.5,275.8 846.5,271.9 847.5,269.3 848.5,267.3 849.5,264.8 850.5,262.4 851.5,260.3 852.5,257.9 853.5,254.0 854.5,251.1 855.5,248.9 856.5,245.8 857.5,243.4 858.5,240.8 859.5,238.7 860.5,237.3 861.5,236.1 862.5,234.9 863.5,234.9 864.5,234.5 865.5,232.8 866.5,232.2 867.5,230.7 868.5,230.0 869.5,228.7 870.5,229.8 871.5,230.4 872.5,231.5 873.5,233.0 874.5,234.1 875.5,234.3 876.5,234.4 877.5,234.7 878.5,234.8 879.5,236.5 880.5,236.6 881.5,237.4 882.5,238.2 883.5,239.1 884.5,238.7 885.5,239.4 886.5,239.3 887.6,239.2 888.6,237.6 889.6,237.6 890.6,236.3 891.6,235.7 892.6,235.4 893.6,235.1 894.6,234.2 895.6,234.9 896.6,234.5 897.6,233.7 898.6,232.8 899.6,232.5 900.6,232.0 901.6,232.3 902.6,232.9 903.6,234.9 904.6,235.9 905.6,237.0 906.6,238.4 907.6,239.5 908.6,240.3 909.6,242.5 910.6,244.1 911.6,244.4 912.6,245.9 913.6,247.4 914.6,248.2 915.6,249.1 916.6,250.6 917.6,251.4 918.6,252.6 919.6,253.3 920.6,254.1 921.6,255.3 922.6,256.5 923.6,257.6 924.6,258.3 925.6,259.8 926.6,261.4 927.6,262.9 928.6,263.4 929.6,265.4 930.6,266.1 931.6,267.1 932.6,267.8 933.6,268.6 934.7,269.4 935.7,271.0 936.7,272.0 937.7,273.7 938.7,275.4 939.7,276.3 940.7,277.4 941.7,279.4 942.7,280.9 943.7,282.2 944.7,283.9 945.7,285.0 946.7,285.2 947.7,286.3 948.7,287.4 949.7,287.6 950.7,288.4 951.7,289.7 952.7,290.4 953.7,292.2 954.7,293.6 955.7,295.3 956.7,296.6 957.7,297.6 958.7,298.3 959.7,299.6 960.7,299.9 961.7,301.1 962.7,301.5 963.7,301.8 964.7,301.9 965.7,302.3 966.7,301.6 967.7,301.9 968.7,301.3 969.7,300.7 970.7,298.9 971.7,297.7 972.7,295.4 973.7,292.4 974.7,290.4 975.7,287.9 976.7,284.3 977.7,282.0 978.7,279.1 979.7,275.1 980.7,272.6 981.8,270.2 982.8,266.9 983.8,265.0 984.8,263.2 985.8,261.1 986.8,260.4 987.8,260.9 988.8,262.5 989.8,264.3 990.8,267.8 991.8,271.1 992.8,273.8 993.8,276.4 994.8,278.7 995.8,281.3 996.8,284.5 997.8,288.9 998.8,293.7 999.8,298.9 1000.8,305.0 1001.8,311.2 1002.8,317.6 1003.8,324.1 1004.8,331.3" stroke="#000" stroke-width="1.0"/>
<polyline points="816.4,328.0 817.4,326.3 818.4,324.7 819.4,323.1 820.4,321.5 821.4,320.0 822.4,318.5 823.4,317.0 824.4,315.6 825.4,314.3 826.4,313.0 827.4,311.7 828.4,310.4 829.4,309.1 830.4,307.7 831.4,306.3 832.4,304.8 833.4,303.2 834.4,301.5 835.4,299.7 836.4,297.8 837.4,295.8 838.4,293.7 839.4,291.5 840.5,289.3 841.5,286.9 842.5,284.5 843.5,282.0 844.5,279.5 845.5,276.9 846.5,274.2 847.5,271.5 848.5,268.8 849.5,266.0 850.5,263.3 851.5,260.6 852.5,257.8 853.5,255.1 854.5,252.5 855.5,249.8 856.5,247.3 857.5,244.8 858.5,242.4 859.5,240.2 860.5,238.1 861.5,236.2 862.5,234.5 863.5,233.1 864.5,231.9 865.5,231.1 866.5,230.6 867.5,230.4 868.5,230.3 869.5,230.4 870.5,230.7 871.5,231.0 872.5,231.4 873.5,231.9 874.5,232.5 875.5,233.1 876.5,233.7 877.5,234.4 878.5,235.0 879.5,235.6 880.5,236.2 881.5,236.7 882.5,237.1 883.5,237.5 884.5,237.7 885.5,237.7 886.5,237.6 887.6,237.4 888.6,237.1 889.6,236.8 890.6,236.3 891.6,235.9 892.6,235.4 893.6,234.9 894.6,234.5 895.6,234.1 896.6,233.8 897.6,233.7 898.6,233.6 899.6,233.8 900.6,234.1 901.6,234.5 902.6,235.1 903.6,235.8 904.6,236.6 905.6,237.5 906.6,238.5 907.6,239.5 908.6,240.6 909.6,241.7 910.6,242.8 911.6,244.0 912.6,245.1 913.6,246.3 914.6,247.5 915.6,248.7 916.6,249.8 917.6,250.9 918.6,252.0 919.6,253.1 920.6,254.2 921.6,255.3 922.6,256.4 923.6,257.5 924.6,258.6 925.6,259.7 926.6,260.8 927.6,261.9 928.6,263.1 929.6,264.2 930.6,265.4 931.6,266.6 932.6,267.8 933.6,269.0 934.7,270.2 935.7,271.5 936.7,272.7 937.7,273.9 938.7,275.2 939.7,276.5 940.7,277.7 941.7,279.0 942.7,280.2 943.7,281.4 944.7,282.6 945.7,283.8 946.7,285.0 947.7,286.1 948.7,287.2 949.7,288.3 950.7,289.4 951.7,290.4 952.7,291.4 953.7,292.4 954.7,293.5 955.7,294.5 956.7,295.6 957.7,296.8 958.7,298.0 959.7,299.2 960.7,300.6 961.7,302.0 962.7,303.3 963.7,304.3 964.7,305.1 965.7,305.4 966.7,305.2 967.7,304.4 968.7,303.2 969.7,301.7 970.7,299.8 971.7,297.6 972.7,295.3 973.7,292.7 974.7,290.0 975.7,287.2 976.7,284.3 977.7,281.3 978.7,278.3 979.7,275.3 980.7,272.3 981.8,269.6 982.8,267.1 983.8,265.0 984.8,263.4 985.8,262.3 986.8,261.9 987.8,262.2 988.8,263.2 989.8,264.7 990.8,266.8 991.8,269.2 992.8,272.1 993.8,275.2 994.8,278.6 995.8,282.3 996.8,286.2 997.8,290.3 998.8,294.7 999.8,299.4 1000.8,304.2 1001.8,309.3 1002.8,314.5 1003.8,319.8 1004.8,325.2" stroke="#f00" stroke-width="1.3"/>
<polyline points="816.4,332.6 817.4,332.6 818.4,332.6 819.4,332.6 820.4,332.6 821.4,332.6 822.4,332.6 823.4,332.6 824.4,332.6 825.4,332.6 826.4,332.6 827.4,332.6 828.4,332.6 829.4,332.6 830.4,332.6 831.4,332.6 832.4,332.6 833.4,332.6 834.4,332.6 835.4,332.6 836.4,332.6 837.4,332.6 838.4,332.6 839.4,332.6 840.5,332.6 841.5,332.6 842.5,332.6 843.5,332.6 844.5,332.6 845.5,332.5 846.5,332.5 847.5,332.4 848.5,332.2 849.5,332.0 850.5,331.8 851.5,331.4 852.5,330.9 853.5,330.2 854.5,329.4 855.5,328.5 856.5,327.4 857.5,326.2 858.5,324.9 859.5,323.7 860.5,322.5 861.5,321.5 862.5,320.8 863.5,320.3 864.5,320.2 865.5,320.5 866.5,321.0 867.5,321.9 868.5,323.0 869.5,324.2 870.5,325.4 871.5,326.7 872.5,327.8 873.5,328.9 874.5,329.8 875.5,330.5 876.5,331.1 877.5,331.6 878.5,331.9 879.5,332.1 880.5,332.3 881.5,332.4 882.5,332.5 883.5,332.5 884.5,332.6 885.5,332.6 886.5,332.6 887.6,332.6 888.6,332.6 889.6,332.6 890.6,332.6 891.6,332.6 892.6,332.6 893.6,332.6 894.6,332.6 895.6,332.6 896.6,332.6 897.6,332.6 898.6,332.6 899.6,332.6 900.6,332.6 901.6,332.6 902.6,332.6 903.6,332.6 904.6,332.6 905.6,332.6 906.6,332.6 907.6,332.6 908.6,332.6 909.6,332.6 910.6,332.6 911.6,332.6 912.6,332.6 913.6,332.6 914.6,332.6 915.6,332.6 916.6,332.6 917.6,332.6 918.6,332.6 919.6,332.6 920.6,332.6 921.6,332.6 922.6,332.6 923.6,332.6 924.6,332.6 925.6,332.6 926.6,332.6 927.6,332.6 928.6,332.6 929.6,332.6 930.6,332.6 931.6,332.6 932.6,332.6 933.6,332.6 934.7,332.6 935.7,332.6 936.7,332.6 937.7,332.6 938.7,332.6 939.7,332.6 940.7,332.6 941.7,332.6 942.7,332.6 943.7,332.6 944.7,332.6 945.7,332.6 946.7,332.6 947.7,332.6 948.7,332.6 949.7,332.6 950.7,332.6 951.7,332.6 952.7,332.6 953.7,332.6 954.7,332.6 955.7,332.6 956.7,332.6 957.7,332.6 958.7,332.6 959.7,332.6 960.7,332.6 961.7,332.6 962.7,332.6 963.7,332.6 964.7,332.6 965.7,332.6 966.7,332.6 967.7,332.6 968.7,332.6 969.7,332.6 970.7,332.6 971.7,332.6 972.7,332.6 973.7,332.6 974.7,332.6 975.7,332.6 976.7,332.6 977.7,332.6 978.7,332.6 979.7,332.6 980.7,332.6 981.8,332.6 982.8,332.6 983.8,332.6 984.8,332.6 985.8,332.6 986.8,332.6 987.8,332.6 988.8,332.6 989.8,332.6 990.8,332.6 991.8,332.6 992.8,332.6 993.8,332.6 994.8,332.6 995.8,332.6 996.8,332.6 997.8,332.6 998.8,332.6 999.8,332.6 1000.8,332.6 1001.8,332.6 1002.8,332.6 1003.8,332.6 1004.8,332.6" stroke="#00ffff"/>
<polyline points="816.4,331.1 817.4,330.9 818.4,330.7 819.4,330.5 820.4,330.2 821.4,329.8 822.4,329.4 823.4,329.0 824.4,328.5 825.4,328.0 826.4,327.4 827.4,326.7 828.4,326.0 829.4,325.2 830.4,324.3 831.4,323.3 832.4,322.2 833.4,321.0 834.4,319.8 835.4,318.4 836.4,317.0 837.4,315.4 838.4,313.8 839.4,312.1 840.5,310.2 841.5,308.3 842.5,306.4 843.5,304.3 844.5,302.2 845.5,300.0 846.5,297.9 847.5,295.6 848.5,293.4 849.5,291.2 850.5,289.0 851.5,286.8 852.5,284.7 853.5,282.6 854.5,280.6 855.5,278.8 856.5,277.1 857.5,275.5 858.5,274.0 859.5,272.8 860.5,271.7 861.5,270.9 862.5,270.2 863.5,269.8 864.5,269.5 865.5,269.5 866.5,269.7 867.5,270.2 868.5,270.8 869.5,271.6 870.5,272.6 871.5,273.8 872.5,275.2 873.5,276.7 874.5,278.4 875.5,280.2 876.5,282.1 877.5,284.0 878.5,286.1 879.5,288.2 880.5,290.3 881.5,292.5 882.5,294.7 883.5,296.9 884.5,299.0 885.5,301.1 886.5,303.2 887.6,305.3 888.6,307.2 889.6,309.1 890.6,311.0 891.6,312.7 892.6,314.4 893.6,315.9 894.6,317.4 895.6,318.8 896.6,320.1 897.6,321.3 898.6,322.4 899.6,323.4 900.6,324.4 901.6,325.3 902.6,326.0 903.6,326.8 904.6,327.4 905.6,328.0 906.6,328.5 907.6,329.0 908.6,329.4 909.6,329.8 910.6,330.1 911.6,330.4 912.6,330.7 913.6,330.9 914.6,331.1 915.6,331.3 916.6,331.4 917.6,331.6 918.6,331.7 919.6,331.8 920.6,331.9 921.6,331.9 922.6,332.0 923.6,332.0 924.6,332.1 925.6,332.1 926.6,332.2 927.6,332.2 928.6,332.2 929.6,332.3 930.6,332.3 931.6,332.3 932.6,332.3 933.6,332.3 934.7,332.3 935.7,332.3 936.7,332.3 937.7,332.4 938.7,332.4 939.7,332.4 940.7,332.4 941.7,332.4 942.7,332.4 943.7,332.4 944.7,332.4 945.7,332.4 946.7,332.4 947.7,332.4 948.7,332.4 949.7,332.4 950.7,332.4 951.7,332.4 952.7,332.4 953.7,332.4 954.7,332.4 955.7,332.4 956.7,332.4 957.7,332.5 958.7,332.5 959.7,332.5 960.7,332.5 961.7,332.5 962.7,332.5 963.7,332.5 964.7,332.5 965.7,332.5 966.7,332.5 967.7,332.5 968.7,332.5 969.7,332.5 970.7,332.5 971.7,332.5 972.7,332.5 973.7,332.5 974.7,332.5 975.7,332.5 976.7,332.5 977.7,332.5 978.7,332.5 979.7,332.5 980.7,332.5 981.8,332.5 982.8,332.5 983.8,332.5 984.8,332.5 985.8,332.5 986.8,332.5 987.8,332.5 988.8,332.5 989.8,332.5 990.8,332.5 991.8,332.5 992.8,332.5 993.8,332.5 994.8,332.5 995.8,332.5 996.8,332.5 997.8,332.5 998.8,332.5 999.8,332.5 1000.8,332.5 1001.8,332.5 1002.8,332.5 1003.8,332.5 1004.8,332.5" stroke="#00ff00"/>
<polyline points="816.4,329.9 817.4,329.7 818.4,329.5 819.4,329.3 820.4,329.1 821.4,328.9 822.4,328.7 823.4,328.5 824.4,328.2 825.4,328.0 826.4,327.7 827.4,327.4 828.4,327.1 829.4,326.8 830.4,326.5 831.4,326.2 832.4,325.8 833.4,325.5 834.4,325.1 835.4,324.7 836.4,324.3 837.4,323.9 838.4,323.5 839.4,323.0 840.5,322.5 841.5,322.1 842.5,321.6 843.5,321.0 844.5,320.5 845.5,320.0 846.5,319.4 847.5,318.8 848.5,318.2 849.5,317.6 850.5,317.0 851.5,316.3 852.5,315.7 853.5,315.0 854.5,314.3 855.5,313.6 856.5,312.8 857.5,312.1 858.5,311.3 859.5,310.6 860.5,309.8 861.5,309.0 862.5,308.1 863.5,307.3 864.5,306.5 865.5,305.6 866.5,304.8 867.5,303.9 868.5,303.0 869.5,302.1 870.5,301.2 871.5,300.3 872.5,299.4 873.5,298.5 874.5,297.6 875.5,296.7 876.5,295.8 877.5,294.9 878.5,293.9 879.5,293.0 880.5,292.1 881.5,291.2 882.5,290.3 883.5,289.4 884.5,288.5 885.5,287.7 886.5,286.8 887.6,285.9 888.6,285.1 889.6,284.3 890.6,283.5 891.6,282.7 892.6,281.9 893.6,281.2 894.6,280.4 895.6,279.7 896.6,279.0 897.6,278.4 898.6,277.7 899.6,277.1 900.6,276.5 901.6,276.0 902.6,275.5 903.6,275.0 904.6,274.5 905.6,274.1 906.6,273.7 907.6,273.3 908.6,273.0 909.6,272.7 910.6,272.5 911.6,272.2 912.6,272.1 913.6,271.9 914.6,271.8 915.6,271.7 916.6,271.7 917.6,271.7 918.6,271.8 919.6,271.9 920.6,272.0 921.6,272.2 922.6,272.4 923.6,272.7 924.6,273.0 925.6,273.4 926.6,273.8 927.6,274.2 928.6,274.7 929.6,275.2 930.6,275.8 931.6,276.4 932.6,277.0 933.6,277.7 934.7,278.4 935.7,279.1 936.7,279.9 937.7,280.7 938.7,281.5 939.7,282.4 940.7,283.2 941.7,284.1 942.7,285.0 943.7,286.0 944.7,286.9 945.7,287.9 946.7,288.8 947.7,289.8 948.7,290.8 949.7,291.8 950.7,292.8 951.7,293.8 952.7,294.8 953.7,295.8 954.7,296.8 955.7,297.9 956.7,298.9 957.7,299.9 958.7,300.9 959.7,301.9 960.7,302.8 961.7,303.8 962.7,304.8 963.7,305.7 964.7,306.7 965.7,307.6 966.7,308.5 967.7,309.4 968.7,310.3 969.7,311.1 970.7,312.0 971.7,312.8 972.7,313.6 973.7,314.4 974.7,315.1 975.7,315.9 976.7,316.6 977.7,317.3 978.7,318.0 979.7,318.7 980.7,319.3 981.8,320.0 982.8,320.6 983.8,321.1 984.8,321.7 985.8,322.3 986.8,322.8 987.8,323.3 988.8,323.8 989.8,324.2 990.8,324.7 991.8,325.1 992.8,325.5 993.8,325.9 994.8,326.3 995.8,326.7 996.8,327.0 997.8,327.3 998.8,327.6 999.8,327.9 1000.8,328.2 1001.8,328.5 1002.8,328.7 1003.8,329.0 1004.8,329.2" stroke="#ffff00"/>
<polyline points="816.4,331.1 817.4,331.1 818.4,331.1 819.4,331.0 820.4,331.0 821.4,330.9 822.4,330.9 823.4,330.9 824.4,330.8 825.4,330.8 826.4,330.7 827.4,330.7 828.4,330.6 829.4,330.6 830.4,330.5 831.4,330.5 832.4,330.4 833.4,330.3 834.4,330.3 835.4,330.2 836.4,330.1 837.4,330.1 838.4,330.0 839.4,329.9 840.5,329.8 841.5,329.8 842.5,329.7 843.5,329.6 844.5,329.5 845.5,329.4 846.5,329.3 847.5,329.2 848.5,329.1 849.5,328.9 850.5,328.8 851.5,328.7 852.5,328.5 853.5,328.4 854.5,328.2 855.5,328.1 856.5,327.9 857.5,327.7 858.5,327.5 859.5,327.3 860.5,327.1 861.5,326.9 862.5,326.6 863.5,326.4 864.5,326.1 865.5,325.8 866.5,325.5 867.5,325.2 868.5,324.8 869.5,324.5 870.5,324.1 871.5,323.6 872.5,323.2 873.5,322.7 874.5,322.2 875.5,321.7 876.5,321.1 877.5,320.5 878.5,319.9 879.5,319.2 880.5,318.5 881.5,317.7 882.5,316.9 883.5,316.1 884.5,315.2 885.5,314.3 886.5,313.3 887.6,312.3 888.6,311.3 889.6,310.2 890.6,309.1 891.6,308.1 892.6,307.0 893.6,306.0 894.6,305.1 895.6,304.2 896.6,303.4 897.6,302.7 898.6,302.2 899.6,301.8 900.6,301.6 901.6,301.5 902.6,301.7 903.6,302.1 904.6,302.7 905.6,303.6 906.6,304.6 907.6,305.7 908.6,306.9 909.6,308.2 910.6,309.4 911.6,310.7 912.6,312.0 913.6,313.2 914.6,314.4 915.6,315.5 916.6,316.6 917.6,317.6 918.6,318.5 919.6,319.3 920.6,320.2 921.6,320.9 922.6,321.6 923.6,322.2 924.6,322.8 925.6,323.4 926.6,323.9 927.6,324.4 928.6,324.8 929.6,325.3 930.6,325.6 931.6,326.0 932.6,326.3 933.6,326.6 934.7,326.9 935.7,327.2 936.7,327.5 937.7,327.7 938.7,327.9 939.7,328.1 940.7,328.3 941.7,328.5 942.7,328.7 943.7,328.8 944.7,329.0 945.7,329.1 946.7,329.3 947.7,329.4 948.7,329.5 949.7,329.6 950.7,329.7 951.7,329.8 952.7,329.9 953.7,330.0 954.7,330.1 955.7,330.2 956.7,330.3 957.7,330.4 958.7,330.4 959.7,330.5 960.7,330.6 961.7,330.6 962.7,330.7 963.7,330.7 964.7,330.8 965.7,330.9 966.7,330.9 967.7,330.9 968.7,331.0 969.7,331.0 970.7,331.1 971.7,331.1 972.7,331.2 973.7,331.2 974.7,331.2 975.7,331.3 976.7,331.3 977.7,331.3 978.7,331.4 979.7,331.4 980.7,331.4 981.8,331.5 982.8,331.5 983.8,331.5 984.8,331.5 985.8,331.6 986.8,331.6 987.8,331.6 988.8,331.6 989.8,331.6 990.8,331.7 991.8,331.7 992.8,331.7 993.8,331.7 994.8,331.7 995.8,331.8 996.8,331.8 997.8,331.8 998.8,331.8 999.8,331.8 1000.8,331.8 1001.8,331.9 1002.8,331.9 1003.8,331.9 1004.8,331.9" stroke="#0000ff"/>
<polyline points="816.4,332.6 817.4,332.6 818.4,332.6 819.4,332.6 820.4,332.6 821.4,332.6 822.4,332.6 823.4,332.5 824.4,332.5 825.4,332.5 826.4,332.5 827.4,332.5 828.4,332.5 829.4,332.5 830.4,332.5 831.4,332.5 832.4,332.5 833.4,332.5 834.4,332.5 835.4,332.5 836.4,332.5 837.4,332.5 838.4,332.5 839.4,332.5 840.5,332.5 841.5,332.5 842.5,332.5 843.5,332.5 844.5,332.5 845.5,332.5 846.5,332.5 847.5,332.5 848.5,332.5 849.5,332.5 850.5,332.5 851.5,332.5 852.5,332.5 853.5,332.5 854.5,332.5 855.5,332.5 856.5,332.5 857.5,332.5 858.5,332.5 859.5,332.5 860.5,332.5 861.5,332.5 862.5,332.5 863.5,332.5 864.5,332.5 865.5,332.5 866.5,332.5 867.5,332.5 868.5,332.5 869.5,332.5 870.5,332.5 871.5,332.5 872.5,332.5 873.5,332.5 874.5,332.5 875.5,332.5 876.5,332.5 877.5,332.5 878.5,332.5 879.5,332.5 880.5,332.5 881.5,332.5 882.5,332.5 883.5,332.5 884.5,332.5 885.5,332.5 886.5,332.5 887.6,332.5 888.6,332.5 889.6,332.5 890.6,332.5 891.6,332.5 892.6,332.4 893.6,332.4 894.6,332.4 895.6,332.4 896.6,332.4 897.6,332.4 898.6,332.4 899.6,332.4 900.6,332.4 901.6,332.4 902.6,332.4 903.6,332.4 904.6,332.4 905.6,332.4 906.6,332.4 907.6,332.4 908.6,332.4 909.6,332.4 910.6,332.4 911.6,332.4 912.6,332.4 913.6,332.4 914.6,332.3 915.6,332.3 916.6,332.3 917.6,332.3 918.6,332.3 919.6,332.3 920.6,332.3 921.6,332.3 922.6,332.3 923.6,332.3 924.6,332.3 925.6,332.2 926.6,332.2 927.6,332.2 928.6,332.2 929.6,332.2 930.6,332.2 931.6,332.2 932.6,332.2 933.6,332.1 934.7,332.1 935.7,332.1 936.7,332.1 937.7,332.1 938.7,332.0 939.7,332.0 940.7,332.0 941.7,332.0 942.7,331.9 943.7,331.9 944.7,331.9 945.7,331.8 946.7,331.8 947.7,331.8 948.7,331.7 949.7,331.7 950.7,331.6 951.7,331.6 952.7,331.5 953.7,331.4 954.7,331.4 955.7,331.3 956.7,331.2 957.7,331.1 958.7,331.0 959.7,330.9 960.7,330.7 961.7,330.6 962.7,330.3 963.7,330.1 964.7,329.7 965.7,329.3 966.7,328.8 967.7,328.1 968.7,327.2 969.7,326.0 970.7,324.6 971.7,322.8 972.7,320.7 973.7,318.1 974.7,315.1 975.7,311.6 976.7,307.7 977.7,303.3 978.7,298.7 979.7,293.8 980.7,288.9 981.8,284.1 982.8,279.7 983.8,275.9 984.8,273.0 985.8,271.3 986.8,270.8 987.8,271.7 988.8,273.8 989.8,277.0 990.8,281.0 991.8,285.6 992.8,290.5 993.8,295.4 994.8,300.2 995.8,304.8 996.8,309.0 997.8,312.8 998.8,316.1 999.8,319.0 1000.8,321.4 1001.8,323.5 1002.8,325.1 1003.8,326.4 1004.8,327.5" stroke="#ff00ff"/>
</g>
<g stroke="#222" stroke-width="1.1" fill="none">
<path d="M816.4,346.5V210.8H1004.8V346.5"/>
<path d="M816.4,341.5H1004.8" stroke="#333"/>
<path d="M811.9,210.8H816.4M811.9,228.4H816.4M811.9,246.2H816.4M811.9,263.3H816.4M811.9,280.6H816.4M811.9,297.7H816.4M811.9,315.4H816.4M811.9,332.9H816.4M816.4,341.5V346.5M854.1,341.5V346.5M892.2,341.5V346.5M929.9,341.5V346.5M967.6,341.5V346.5M1004.8,341.5V346.5"/>
</g>
<g font-family='"Liberation Sans", sans-serif' fill="#111" stroke="#111" stroke-width="0.25">
<text x="819.1" y="230.2" font-size="17.5" textLength="24.0" lengthAdjust="spacingAndGlyphs">1 hr</text>
<text x="797.1" y="331.0" font-size="15.8" textLength="109.0" lengthAdjust="spacingAndGlyphs" transform="rotate(-90 797.1 331.0)">Abs. Signal (a.u.)</text>
<text x="816.4" y="362.1" font-size="12.5" text-anchor="middle" textLength="22.0" lengthAdjust="spacingAndGlyphs">1700</text>
<text x="854.1" y="362.1" font-size="12.5" text-anchor="middle" textLength="22.0" lengthAdjust="spacingAndGlyphs">1680</text>
<text x="892.2" y="362.1" font-size="12.5" text-anchor="middle" textLength="22.0" lengthAdjust="spacingAndGlyphs">1660</text>
<text x="929.9" y="362.1" font-size="12.5" text-anchor="middle" textLength="22.0" lengthAdjust="spacingAndGlyphs">1640</text>
<text x="967.6" y="362.1" font-size="12.5" text-anchor="middle" textLength="22.0" lengthAdjust="spacingAndGlyphs">1620</text>
<text x="1004.8" y="362.1" font-size="12.5" text-anchor="middle" textLength="22.0" lengthAdjust="spacingAndGlyphs">1600</text>
<text x="852.9" y="390.1" font-size="15" textLength="116.0" lengthAdjust="spacingAndGlyphs">Wave number (cm<tspan font-size="9.3" dy="-6.3">-1</tspan><tspan dy="6.3">)</tspan></text>
</g>
<g fill="none" stroke-width="1.3" stroke-linejoin="round">
<polyline points="570.2,510.0 571.2,508.7 572.2,508.5 573.2,507.4 574.2,506.0 575.2,505.4 576.2,505.0 577.2,504.7 578.2,503.8 579.2,503.0 580.2,501.3 581.2,499.0 582.2,497.4 583.2,495.6 584.2,493.9 585.2,492.5 586.2,492.1 587.2,490.2 588.2,488.4 589.2,486.8 590.2,485.2 591.2,482.6 592.2,480.1 593.2,478.4 594.2,476.8 595.2,475.2 596.3,472.5 597.3,470.3 598.3,467.7 599.3,464.1 600.3,460.5 601.3,458.3 602.3,456.6 603.3,454.5 604.3,452.5 605.3,450.9 606.3,448.9 607.3,445.5 608.3,443.2 609.3,441.5 610.3,438.9 611.3,437.1 612.3,435.0 613.3,433.3 614.3,432.3 615.3,431.4 616.3,430.4 617.3,430.4 618.3,429.9 619.3,427.9 620.3,426.8 621.3,424.7 622.3,423.1 623.3,421.0 624.3,421.3 625.3,420.9 626.3,421.2 627.3,421.8 628.3,422.1 629.3,421.6 630.3,421.1 631.3,420.7 632.3,420.3 633.3,421.6 634.3,421.4 635.3,422.0 636.3,422.7 637.3,423.6 638.3,423.2 639.3,424.1 640.3,424.2 641.3,424.3 642.3,422.9 643.3,423.1 644.3,421.9 645.4,421.3 646.4,421.0 647.4,420.7 648.4,419.6 649.4,420.1 650.4,419.4 651.4,418.2 652.4,416.8 653.4,415.8 654.4,414.7 655.4,414.1 656.4,413.9 657.4,415.1 658.4,415.3 659.4,415.8 660.4,416.7 661.4,417.2 662.4,417.6 663.4,419.5 664.4,420.8 665.4,420.9 666.4,422.2 667.4,423.6 668.4,424.3 669.4,425.1 670.4,426.6 671.4,427.4 672.4,428.6 673.4,429.4 674.4,430.3 675.4,431.5 676.4,432.7 677.4,433.8 678.4,434.4 679.4,435.8 680.4,437.2 681.4,438.4 682.4,438.6 683.4,440.1 684.4,440.3 685.4,440.7 686.4,440.7 687.4,440.8 688.4,440.7 689.4,441.5 690.4,441.5 691.4,442.2 692.4,442.8 693.4,442.6 694.4,442.5 695.5,443.4 696.5,443.7 697.5,443.8 698.5,444.4 699.5,444.4 700.5,443.4 701.5,443.5 702.5,443.5 703.5,442.7 704.5,442.5 705.5,442.8 706.5,442.6 707.5,443.5 708.5,444.1 709.5,445.1 710.5,445.8 711.5,446.4 712.5,447.2 713.5,448.8 714.5,449.6 715.5,451.5 716.5,452.8 717.5,454.4 718.5,456.1 719.5,458.5 720.5,459.6 721.5,461.9 722.5,463.6 723.5,465.8 724.5,467.1 725.5,469.0 726.5,470.3 727.5,471.1 728.5,473.0 729.5,474.3 730.5,474.5 731.5,475.8 732.5,476.3 733.5,475.7 734.5,476.6 735.5,477.0 736.5,476.0 737.5,475.7 738.5,474.6 739.5,472.4 740.5,470.6 741.5,468.7 742.5,467.1 743.5,465.2 744.5,464.4 745.5,463.0 746.6,461.0 747.6,458.9 748.6,456.7 749.6,454.9 750.6,454.0 751.6,454.7 752.6,456.0 753.6,458.0 754.6,460.1 755.6,462.2 756.6,464.7 757.6,467.6 758.6,471.4 759.6,474.8 760.6,479.8 761.6,483.8 762.6,487.0 763.6,489.6 764.6,492.7 765.6,495.5 766.6,499.1 767.6,503.3 768.6,507.8 769.6,512.3 770.6,514.9" stroke="#000" stroke-width="1.0"/>
<polyline points="570.2,510.3 571.2,509.4 572.2,508.4 573.2,507.4 574.2,506.4 575.2,505.4 576.2,504.4 577.2,503.3 578.2,502.2 579.2,501.1 580.2,499.9 581.2,498.7 582.2,497.4 583.2,496.0 584.2,494.6 585.2,493.1 586.2,491.5 587.2,489.8 588.2,488.1 589.2,486.2 590.2,484.3 591.2,482.4 592.2,480.4 593.2,478.3 594.2,476.1 595.2,473.9 596.3,471.7 597.3,469.4 598.3,467.1 599.3,464.7 600.3,462.4 601.3,460.0 602.3,457.7 603.3,455.3 604.3,453.0 605.3,450.7 606.3,448.5 607.3,446.3 608.3,444.1 609.3,442.0 610.3,440.0 611.3,438.0 612.3,436.2 613.3,434.4 614.3,432.7 615.3,431.1 616.3,429.7 617.3,428.3 618.3,427.1 619.3,425.9 620.3,424.9 621.3,424.0 622.3,423.1 623.3,422.4 624.3,421.8 625.3,421.2 626.3,420.8 627.3,420.5 628.3,420.3 629.3,420.1 630.3,420.1 631.3,420.1 632.3,420.2 633.3,420.4 634.3,420.7 635.3,421.0 636.3,421.4 637.3,421.7 638.3,422.0 639.3,422.2 640.3,422.3 641.3,422.3 642.3,422.2 643.3,421.9 644.3,421.6 645.4,421.2 646.4,420.8 647.4,420.3 648.4,419.7 649.4,419.1 650.4,418.5 651.4,417.9 652.4,417.4 653.4,416.9 654.4,416.5 655.4,416.1 656.4,415.9 657.4,415.8 658.4,415.9 659.4,416.1 660.4,416.5 661.4,417.0 662.4,417.7 663.4,418.5 664.4,419.3 665.4,420.3 666.4,421.3 667.4,422.3 668.4,423.4 669.4,424.5 670.4,425.6 671.4,426.8 672.4,427.9 673.4,429.1 674.4,430.2 675.4,431.4 676.4,432.4 677.4,433.5 678.4,434.5 679.4,435.5 680.4,436.4 681.4,437.3 682.4,438.1 683.4,438.8 684.4,439.5 685.4,440.1 686.4,440.6 687.4,441.1 688.4,441.5 689.4,441.8 690.4,442.0 691.4,442.3 692.4,442.5 693.4,442.6 694.4,442.7 695.5,442.9 696.5,442.9 697.5,443.0 698.5,443.1 699.5,443.1 700.5,443.2 701.5,443.2 702.5,443.3 703.5,443.3 704.5,443.4 705.5,443.4 706.5,443.5 707.5,443.7 708.5,443.9 709.5,444.3 710.5,444.8 711.5,445.5 712.5,446.4 713.5,447.7 714.5,449.1 715.5,450.7 716.5,452.5 717.5,454.3 718.5,456.2 719.5,458.1 720.5,460.0 721.5,461.8 722.5,463.6 723.5,465.4 724.5,467.2 725.5,469.0 726.5,470.7 727.5,472.4 728.5,474.0 729.5,475.4 730.5,476.6 731.5,477.6 732.5,478.3 733.5,478.7 734.5,478.7 735.5,478.3 736.5,477.7 737.5,476.7 738.5,475.4 739.5,473.8 740.5,472.0 741.5,470.0 742.5,467.8 743.5,465.5 744.5,463.3 745.5,461.2 746.6,459.3 747.6,457.8 748.6,456.6 749.6,455.9 750.6,455.7 751.6,456.1 752.6,457.1 753.6,458.5 754.6,460.4 755.6,462.7 756.6,465.4 757.6,468.5 758.6,471.8 759.6,475.3 760.6,478.9 761.6,482.3 762.6,485.6 763.6,488.7 764.6,491.6 765.6,494.2 766.6,496.7 767.6,499.1 768.6,501.3 769.6,503.6 770.6,504.1" stroke="#f00" stroke-width="1.3"/>
<polyline points="570.2,510.7 571.2,510.2 572.2,509.6 573.2,509.0 574.2,508.3 575.2,507.6 576.2,506.9 577.2,506.0 578.2,505.2 579.2,504.2 580.2,503.3 581.2,502.2 582.2,501.1 583.2,499.9 584.2,498.7 585.2,497.4 586.2,496.1 587.2,494.6 588.2,493.2 589.2,491.6 590.2,490.0 591.2,488.3 592.2,486.6 593.2,484.8 594.2,483.0 595.2,481.1 596.3,479.2 597.3,477.2 598.3,475.2 599.3,473.1 600.3,471.1 601.3,469.0 602.3,466.9 603.3,464.7 604.3,462.6 605.3,460.5 606.3,458.4 607.3,456.3 608.3,454.2 609.3,452.2 610.3,450.2 611.3,448.2 612.3,446.3 613.3,444.5 614.3,442.8 615.3,441.1 616.3,439.5 617.3,438.0 618.3,436.7 619.3,435.4 620.3,434.2 621.3,433.2 622.3,432.3 623.3,431.5 624.3,430.9 625.3,430.4 626.3,430.0 627.3,429.8 628.3,429.7 629.3,429.8 630.3,430.0 631.3,430.4 632.3,430.9 633.3,431.6 634.3,432.4 635.3,433.4 636.3,434.5 637.3,435.8 638.3,437.2 639.3,438.7 640.3,440.3 641.3,442.0 642.3,443.8 643.3,445.7 644.3,447.6 645.4,449.7 646.4,451.8 647.4,453.9 648.4,456.1 649.4,458.3 650.4,460.5 651.4,462.8 652.4,465.0 653.4,467.3 654.4,469.5 655.4,471.7 656.4,473.9 657.4,476.0 658.4,478.1 659.4,480.2 660.4,482.2 661.4,484.2 662.4,486.1 663.4,487.9 664.4,489.7 665.4,491.4 666.4,493.0 667.4,494.6 668.4,496.1 669.4,497.5 670.4,498.9 671.4,500.2 672.4,501.4 673.4,502.5 674.4,503.6 675.4,504.6 676.4,505.6 677.4,506.5 678.4,507.3 679.4,508.1 680.4,508.8 681.4,509.4 682.4,510.1 683.4,510.6 684.4,511.1 685.4,511.6 686.4,512.1 687.4,512.5 688.4,512.8 689.4,513.2 690.4,513.5 691.4,513.7 692.4,514.0 693.4,514.2 694.4,514.4 695.5,514.6 696.5,514.8 697.5,514.9 698.5,515.0 699.5,515.2 700.5,515.3 701.5,515.4 702.5,515.4 703.5,515.5 704.5,515.6 705.5,515.6 706.5,515.7 707.5,515.7 708.5,515.8 709.5,515.8 710.5,515.8 711.5,515.8 712.5,515.9 713.5,515.9 714.5,515.9 715.5,515.9 716.5,515.9 717.5,515.9 718.5,515.9 719.5,516.0 720.5,516.0 721.5,516.0 722.5,516.0 723.5,516.0 724.5,516.0 725.5,516.0 726.5,516.0 727.5,516.0 728.5,516.0 729.5,516.0 730.5,516.0 731.5,516.0 732.5,516.0 733.5,516.0 734.5,516.0 735.5,516.0 736.5,516.0 737.5,516.0 738.5,516.0 739.5,516.0 740.5,516.0 741.5,516.0 742.5,516.0 743.5,516.0 744.5,516.0 745.5,516.0 746.6,516.0 747.6,516.0 748.6,516.0 749.6,516.0 750.6,516.0 751.6,516.0 752.6,516.0 753.6,516.0 754.6,516.0 755.6,516.0 756.6,516.0 757.6,516.0 758.6,516.0 759.6,516.0 760.6,516.0 761.6,516.0 762.6,516.0 763.6,516.0 764.6,516.0 765.6,516.0 766.6,516.0 767.6,516.0 768.6,516.0 769.6,516.0 770.6,516.0" stroke="#00ff00"/>
<polyline points="570.2,516.0 571.2,516.0 572.2,516.0 573.2,516.0 574.2,516.0 575.2,516.0 576.2,516.0 577.2,516.0 578.2,516.0 579.2,516.0 580.2,516.0 581.2,516.0 582.2,516.0 583.2,516.0 584.2,516.0 585.2,516.0 586.2,516.0 587.2,516.0 588.2,516.0 589.2,516.0 590.2,516.0 591.2,516.0 592.2,516.0 593.2,516.0 594.2,516.0 595.2,516.0 596.3,516.0 597.3,516.0 598.3,516.0 599.3,516.0 600.3,516.0 601.3,516.0 602.3,516.0 603.3,516.0 604.3,516.0 605.3,516.0 606.3,516.0 607.3,516.0 608.3,516.0 609.3,516.0 610.3,516.0 611.3,516.0 612.3,516.0 613.3,516.0 614.3,516.0 615.3,516.0 616.3,516.0 617.3,516.0 618.3,516.0 619.3,516.0 620.3,516.0 621.3,516.0 622.3,516.0 623.3,516.0 624.3,516.0 625.3,516.0 626.3,516.0 627.3,515.9 628.3,515.9 629.3,515.9 630.3,515.8 631.3,515.7 632.3,515.6 633.3,515.5 634.3,515.3 635.3,515.0 636.3,514.7 637.3,514.3 638.3,513.8 639.3,513.1 640.3,512.4 641.3,511.4 642.3,510.3 643.3,509.0 644.3,507.4 645.4,505.7 646.4,503.7 647.4,501.5 648.4,499.1 649.4,496.5 650.4,493.7 651.4,490.8 652.4,487.9 653.4,485.0 654.4,482.1 655.4,479.4 656.4,476.8 657.4,474.6 658.4,472.7 659.4,471.2 660.4,470.2 661.4,469.6 662.4,469.5 663.4,470.0 664.4,471.0 665.4,472.5 666.4,474.4 667.4,476.6 668.4,479.2 669.4,482.0 670.4,485.0 671.4,488.0 672.4,491.0 673.4,493.9 674.4,496.8 675.4,499.4 676.4,501.9 677.4,504.1 678.4,506.1 679.4,507.8 680.4,509.3 681.4,510.6 682.4,511.7 683.4,512.6 684.4,513.4 685.4,514.0 686.4,514.5 687.4,514.9 688.4,515.2 689.4,515.4 690.4,515.5 691.4,515.7 692.4,515.8 693.4,515.8 694.4,515.9 695.5,515.9 696.5,515.9 697.5,516.0 698.5,516.0 699.5,516.0 700.5,516.0 701.5,516.0 702.5,516.0 703.5,516.0 704.5,516.0 705.5,516.0 706.5,516.0 707.5,516.0 708.5,516.0 709.5,516.0 710.5,516.0 711.5,516.0 712.5,516.0 713.5,516.0 714.5,516.0 715.5,516.0 716.5,516.0 717.5,516.0 718.5,516.0 719.5,516.0 720.5,516.0 721.5,516.0 722.5,516.0 723.5,516.0 724.5,516.0 725.5,516.0 726.5,516.0 727.5,516.0 728.5,516.0 729.5,516.0 730.5,516.0 731.5,516.0 732.5,516.0 733.5,516.0 734.5,516.0 735.5,516.0 736.5,516.0 737.5,516.0 738.5,516.0 739.5,516.0 740.5,516.0 741.5,516.0 742.5,516.0 743.5,516.0 744.5,516.0 745.5,516.0 746.6,516.0 747.6,516.0 748.6,516.0 749.6,516.0 750.6,516.0 751.6,516.0 752.6,516.0 753.6,516.0 754.6,516.0 755.6,516.0 756.6,516.0 757.6,516.0 758.6,516.0 759.6,516.0 760.6,516.0 761.6,516.0 762.6,516.0 763.6,516.0 764.6,516.0 765.6,516.0 766.6,516.0 767.6,516.0 768.6,516.0 769.6,516.0 770.6,516.0" stroke="#0000ff"/>
<polyline points="570.2,515.6 571.2,515.6 572.2,515.6 573.2,515.6 574.2,515.6 575.2,515.6 576.2,515.6 577.2,515.6 578.2,515.6 579.2,515.6 580.2,515.5 581.2,515.5 582.2,515.5 583.2,515.5 584.2,515.5 585.2,515.5 586.2,515.5 587.2,515.5 588.2,515.5 589.2,515.5 590.2,515.4 591.2,515.4 592.2,515.4 593.2,515.4 594.2,515.4 595.2,515.4 596.3,515.4 597.3,515.3 598.3,515.3 599.3,515.3 600.3,515.3 601.3,515.3 602.3,515.3 603.3,515.2 604.3,515.2 605.3,515.2 606.3,515.2 607.3,515.2 608.3,515.1 609.3,515.1 610.3,515.1 611.3,515.1 612.3,515.1 613.3,515.0 614.3,515.0 615.3,515.0 616.3,514.9 617.3,514.9 618.3,514.9 619.3,514.8 620.3,514.8 621.3,514.8 622.3,514.7 623.3,514.7 624.3,514.6 625.3,514.6 626.3,514.6 627.3,514.5 628.3,514.4 629.3,514.4 630.3,514.3 631.3,514.3 632.3,514.2 633.3,514.1 634.3,514.1 635.3,514.0 636.3,513.9 637.3,513.8 638.3,513.7 639.3,513.6 640.3,513.5 641.3,513.4 642.3,513.3 643.3,513.2 644.3,513.0 645.4,512.9 646.4,512.8 647.4,512.6 648.4,512.4 649.4,512.2 650.4,512.0 651.4,511.8 652.4,511.6 653.4,511.3 654.4,511.0 655.4,510.7 656.4,510.4 657.4,510.0 658.4,509.7 659.4,509.2 660.4,508.8 661.4,508.3 662.4,507.7 663.4,507.1 664.4,506.5 665.4,505.7 666.4,504.9 667.4,504.1 668.4,503.1 669.4,502.1 670.4,501.0 671.4,499.8 672.4,498.5 673.4,497.2 674.4,495.7 675.4,494.3 676.4,492.9 677.4,491.5 678.4,490.2 679.4,489.0 680.4,488.1 681.4,487.5 682.4,487.1 683.4,487.1 684.4,487.5 685.4,488.1 686.4,488.9 687.4,490.0 688.4,491.2 689.4,492.5 690.4,493.8 691.4,495.2 692.4,496.5 693.4,497.9 694.4,499.1 695.5,500.3 696.5,501.4 697.5,502.4 698.5,503.4 699.5,504.3 700.5,505.1 701.5,505.8 702.5,506.5 703.5,507.1 704.5,507.7 705.5,508.2 706.5,508.7 707.5,509.1 708.5,509.6 709.5,509.9 710.5,510.3 711.5,510.6 712.5,510.9 713.5,511.2 714.5,511.4 715.5,511.7 716.5,511.9 717.5,512.1 718.5,512.3 719.5,512.4 720.5,512.6 721.5,512.8 722.5,512.9 723.5,513.0 724.5,513.2 725.5,513.3 726.5,513.4 727.5,513.5 728.5,513.6 729.5,513.7 730.5,513.8 731.5,513.9 732.5,514.0 733.5,514.0 734.5,514.1 735.5,514.2 736.5,514.2 737.5,514.3 738.5,514.3 739.5,514.4 740.5,514.5 741.5,514.5 742.5,514.6 743.5,514.6 744.5,514.6 745.5,514.7 746.6,514.7 747.6,514.8 748.6,514.8 749.6,514.8 750.6,514.9 751.6,514.9 752.6,514.9 753.6,515.0 754.6,515.0 755.6,515.0 756.6,515.0 757.6,515.1 758.6,515.1 759.6,515.1 760.6,515.1 761.6,515.1 762.6,515.2 763.6,515.2 764.6,515.2 765.6,515.2 766.6,515.2 767.6,515.3 768.6,515.3 769.6,515.3 770.6,515.3" stroke="#800000"/>
<polyline points="570.2,515.0 571.2,515.0 572.2,514.9 573.2,514.9 574.2,514.9 575.2,514.9 576.2,514.9 577.2,514.9 578.2,514.8 579.2,514.8 580.2,514.8 581.2,514.8 582.2,514.8 583.2,514.7 584.2,514.7 585.2,514.7 586.2,514.7 587.2,514.7 588.2,514.6 589.2,514.6 590.2,514.6 591.2,514.6 592.2,514.5 593.2,514.5 594.2,514.5 595.2,514.5 596.3,514.4 597.3,514.4 598.3,514.4 599.3,514.3 600.3,514.3 601.3,514.3 602.3,514.2 603.3,514.2 604.3,514.2 605.3,514.1 606.3,514.1 607.3,514.1 608.3,514.0 609.3,514.0 610.3,513.9 611.3,513.9 612.3,513.8 613.3,513.8 614.3,513.7 615.3,513.7 616.3,513.6 617.3,513.6 618.3,513.5 619.3,513.5 620.3,513.4 621.3,513.3 622.3,513.3 623.3,513.2 624.3,513.1 625.3,513.1 626.3,513.0 627.3,512.9 628.3,512.8 629.3,512.8 630.3,512.7 631.3,512.6 632.3,512.5 633.3,512.4 634.3,512.3 635.3,512.2 636.3,512.0 637.3,511.9 638.3,511.8 639.3,511.7 640.3,511.5 641.3,511.4 642.3,511.2 643.3,511.0 644.3,510.9 645.4,510.7 646.4,510.5 647.4,510.3 648.4,510.1 649.4,509.8 650.4,509.6 651.4,509.3 652.4,509.1 653.4,508.8 654.4,508.5 655.4,508.2 656.4,507.8 657.4,507.5 658.4,507.1 659.4,506.7 660.4,506.3 661.4,505.8 662.4,505.3 663.4,504.8 664.4,504.3 665.4,503.8 666.4,503.2 667.4,502.6 668.4,501.9 669.4,501.3 670.4,500.6 671.4,499.8 672.4,499.1 673.4,498.3 674.4,497.5 675.4,496.6 676.4,495.7 677.4,494.8 678.4,493.9 679.4,492.9 680.4,491.9 681.4,490.9 682.4,489.9 683.4,488.9 684.4,487.9 685.4,486.8 686.4,485.8 687.4,484.8 688.4,483.9 689.4,483.0 690.4,482.1 691.4,481.3 692.4,480.5 693.4,479.9 694.4,479.3 695.5,478.8 696.5,478.5 697.5,478.2 698.5,478.1 699.5,478.1 700.5,478.3 701.5,478.5 702.5,478.9 703.5,479.5 704.5,480.1 705.5,480.8 706.5,481.6 707.5,482.5 708.5,483.4 709.5,484.4 710.5,485.5 711.5,486.5 712.5,487.6 713.5,488.6 714.5,489.7 715.5,490.8 716.5,491.8 717.5,492.8 718.5,493.8 719.5,494.8 720.5,495.8 721.5,496.7 722.5,497.6 723.5,498.4 724.5,499.3 725.5,500.0 726.5,500.8 727.5,501.5 728.5,502.2 729.5,502.8 730.5,503.5 731.5,504.1 732.5,504.6 733.5,505.1 734.5,505.6 735.5,506.1 736.5,506.6 737.5,507.0 738.5,507.4 739.5,507.8 740.5,508.1 741.5,508.5 742.5,508.8 743.5,509.1 744.5,509.4 745.5,509.6 746.6,509.9 747.6,510.1 748.6,510.3 749.6,510.6 750.6,510.8 751.6,510.9 752.6,511.1 753.6,511.3 754.6,511.4 755.6,511.6 756.6,511.7 757.6,511.9 758.6,512.0 759.6,512.1 760.6,512.2 761.6,512.4 762.6,512.5 763.6,512.6 764.6,512.7 765.6,512.8 766.6,512.8 767.6,512.9 768.6,513.0 769.6,513.1 770.6,513.2" stroke="#ffff00"/>
<polyline points="570.2,515.5 571.2,515.5 572.2,515.5 573.2,515.5 574.2,515.5 575.2,515.4 576.2,515.4 577.2,515.4 578.2,515.4 579.2,515.4 580.2,515.4 581.2,515.4 582.2,515.4 583.2,515.4 584.2,515.4 585.2,515.4 586.2,515.3 587.2,515.3 588.2,515.3 589.2,515.3 590.2,515.3 591.2,515.3 592.2,515.3 593.2,515.3 594.2,515.3 595.2,515.2 596.3,515.2 597.3,515.2 598.3,515.2 599.3,515.2 600.3,515.2 601.3,515.2 602.3,515.2 603.3,515.1 604.3,515.1 605.3,515.1 606.3,515.1 607.3,515.1 608.3,515.1 609.3,515.0 610.3,515.0 611.3,515.0 612.3,515.0 613.3,515.0 614.3,514.9 615.3,514.9 616.3,514.9 617.3,514.9 618.3,514.9 619.3,514.8 620.3,514.8 621.3,514.8 622.3,514.8 623.3,514.7 624.3,514.7 625.3,514.7 626.3,514.6 627.3,514.6 628.3,514.6 629.3,514.6 630.3,514.5 631.3,514.5 632.3,514.5 633.3,514.4 634.3,514.4 635.3,514.3 636.3,514.3 637.3,514.3 638.3,514.2 639.3,514.2 640.3,514.1 641.3,514.1 642.3,514.0 643.3,514.0 644.3,513.9 645.4,513.8 646.4,513.8 647.4,513.7 648.4,513.7 649.4,513.6 650.4,513.5 651.4,513.4 652.4,513.4 653.4,513.3 654.4,513.2 655.4,513.1 656.4,513.0 657.4,512.9 658.4,512.8 659.4,512.7 660.4,512.6 661.4,512.5 662.4,512.4 663.4,512.2 664.4,512.1 665.4,512.0 666.4,511.8 667.4,511.6 668.4,511.5 669.4,511.3 670.4,511.1 671.4,510.9 672.4,510.7 673.4,510.5 674.4,510.2 675.4,510.0 676.4,509.7 677.4,509.5 678.4,509.2 679.4,508.8 680.4,508.5 681.4,508.1 682.4,507.8 683.4,507.3 684.4,506.9 685.4,506.4 686.4,505.9 687.4,505.4 688.4,504.8 689.4,504.2 690.4,503.6 691.4,502.9 692.4,502.2 693.4,501.4 694.4,500.6 695.5,499.7 696.5,498.7 697.5,497.8 698.5,496.7 699.5,495.6 700.5,494.5 701.5,493.3 702.5,492.2 703.5,491.0 704.5,489.8 705.5,488.6 706.5,487.4 707.5,486.4 708.5,485.4 709.5,484.5 710.5,483.8 711.5,483.2 712.5,482.9 713.5,482.7 714.5,482.7 715.5,483.0 716.5,483.4 717.5,484.0 718.5,484.8 719.5,485.7 720.5,486.8 721.5,487.9 722.5,489.0 723.5,490.2 724.5,491.4 725.5,492.6 726.5,493.8 727.5,494.9 728.5,496.0 729.5,497.1 730.5,498.1 731.5,499.1 732.5,500.0 733.5,500.9 734.5,501.7 735.5,502.4 736.5,503.2 737.5,503.8 738.5,504.5 739.5,505.1 740.5,505.6 741.5,506.1 742.5,506.6 743.5,507.1 744.5,507.5 745.5,507.9 746.6,508.3 747.6,508.6 748.6,509.0 749.6,509.3 750.6,509.6 751.6,509.8 752.6,510.1 753.6,510.3 754.6,510.6 755.6,510.8 756.6,511.0 757.6,511.2 758.6,511.4 759.6,511.5 760.6,511.7 761.6,511.9 762.6,512.0 763.6,512.2 764.6,512.3 765.6,512.4 766.6,512.5 767.6,512.6 768.6,512.8 769.6,512.9 770.6,513.0" stroke="#008000"/>
<polyline points="570.2,516.0 571.2,516.0 572.2,516.0 573.2,516.0 574.2,516.0 575.2,516.0 576.2,516.0 577.2,516.0 578.2,516.0 579.2,516.0 580.2,516.0 581.2,516.0 582.2,516.0 583.2,516.0 584.2,516.0 585.2,516.0 586.2,516.0 587.2,516.0 588.2,516.0 589.2,516.0 590.2,516.0 591.2,516.0 592.2,516.0 593.2,516.0 594.2,516.0 595.2,516.0 596.3,516.0 597.3,516.0 598.3,516.0 599.3,516.0 600.3,516.0 601.3,516.0 602.3,516.0 603.3,516.0 604.3,516.0 605.3,516.0 606.3,516.0 607.3,516.0 608.3,516.0 609.3,516.0 610.3,516.0 611.3,516.0 612.3,516.0 613.3,516.0 614.3,516.0 615.3,516.0 616.3,516.0 617.3,516.0 618.3,516.0 619.3,516.0 620.3,516.0 621.3,516.0 622.3,516.0 623.3,516.0 624.3,516.0 625.3,516.0 626.3,516.0 627.3,516.0 628.3,516.0 629.3,516.0 630.3,516.0 631.3,516.0 632.3,516.0 633.3,515.9 634.3,515.9 635.3,515.9 636.3,515.9 637.3,515.9 638.3,515.9 639.3,515.9 640.3,515.9 641.3,515.9 642.3,515.9 643.3,515.9 644.3,515.9 645.4,515.9 646.4,515.9 647.4,515.9 648.4,515.9 649.4,515.9 650.4,515.9 651.4,515.9 652.4,515.9 653.4,515.9 654.4,515.9 655.4,515.9 656.4,515.9 657.4,515.9 658.4,515.9 659.4,515.9 660.4,515.9 661.4,515.9 662.4,515.9 663.4,515.9 664.4,515.9 665.4,515.9 666.4,515.9 667.4,515.9 668.4,515.9 669.4,515.9 670.4,515.9 671.4,515.9 672.4,515.9 673.4,515.9 674.4,515.9 675.4,515.9 676.4,515.9 677.4,515.9 678.4,515.9 679.4,515.9 680.4,515.9 681.4,515.9 682.4,515.9 683.4,515.8 684.4,515.8 685.4,515.8 686.4,515.8 687.4,515.8 688.4,515.8 689.4,515.8 690.4,515.8 691.4,515.8 692.4,515.8 693.4,515.8 694.4,515.8 695.5,515.8 696.5,515.8 697.5,515.8 698.5,515.8 699.5,515.7 700.5,515.7 701.5,515.7 702.5,515.7 703.5,515.7 704.5,515.7 705.5,515.7 706.5,515.7 707.5,515.6 708.5,515.6 709.5,515.6 710.5,515.6 711.5,515.6 712.5,515.5 713.5,515.5 714.5,515.5 715.5,515.5 716.5,515.4 717.5,515.4 718.5,515.4 719.5,515.3 720.5,515.3 721.5,515.2 722.5,515.2 723.5,515.1 724.5,515.1 725.5,515.0 726.5,514.9 727.5,514.8 728.5,514.6 729.5,514.4 730.5,514.2 731.5,513.9 732.5,513.5 733.5,512.9 734.5,512.2 735.5,511.2 736.5,510.0 737.5,508.4 738.5,506.4 739.5,504.0 740.5,501.2 741.5,497.9 742.5,494.3 743.5,490.4 744.5,486.2 745.5,482.1 746.6,478.1 747.6,474.6 748.6,471.8 749.6,469.9 750.6,469.1 751.6,469.5 752.6,471.1 753.6,473.7 754.6,477.1 755.6,481.0 756.6,485.1 757.6,489.2 758.6,493.2 759.6,497.0 760.6,500.3 761.6,503.3 762.6,505.8 763.6,507.9 764.6,509.6 765.6,510.9 766.6,511.9 767.6,512.7 768.6,513.3 769.6,513.8 770.6,514.1" stroke="#ff00ff"/>
</g>
<g stroke="#222" stroke-width="1.1" fill="none">
<path d="M570.2,526.5V402.2H770.6V526.5"/>
<path d="M570.2,521.6H770.6" stroke="#333"/>
<path d="M566.0,402.2H570.2M566.0,414.6H570.2M566.0,427.4H570.2M566.0,439.7H570.2M566.0,452.4H570.2M566.0,465.6H570.2M566.0,477.9H570.2M566.0,490.6H570.2M566.0,503.2H570.2M566.0,516.2H570.2M570.2,521.6V526.5M610.7,521.6V526.5M650.4,521.6V526.5M690.5,521.6V526.5M730.5,521.6V526.5M770.6,521.6V526.5"/>
</g>
<g font-family='"Liberation Sans", sans-serif' fill="#111">
<text x="572.5" y="420.4" font-size="14" font-weight="bold" textLength="28.7" lengthAdjust="spacingAndGlyphs">3 hr</text>
<text x="548.1" y="512.5" font-size="13.7" textLength="101.5" lengthAdjust="spacingAndGlyphs" transform="rotate(-90 548.1 512.5)">Abs. Signal (a.u.)</text>
<text x="570.2" y="541.6" font-size="12.5" text-anchor="middle" textLength="23.4" lengthAdjust="spacingAndGlyphs">1700</text>
<text x="610.7" y="541.6" font-size="12.5" text-anchor="middle" textLength="23.4" lengthAdjust="spacingAndGlyphs">1680</text>
<text x="650.4" y="541.6" font-size="12.5" text-anchor="middle" textLength="23.4" lengthAdjust="spacingAndGlyphs">1660</text>
<text x="690.5" y="541.6" font-size="12.5" text-anchor="middle" textLength="23.4" lengthAdjust="spacingAndGlyphs">1640</text>
<text x="730.5" y="541.6" font-size="12.5" text-anchor="middle" textLength="23.4" lengthAdjust="spacingAndGlyphs">1620</text>
<text x="770.6" y="541.6" font-size="12.5" text-anchor="middle" textLength="23.4" lengthAdjust="spacingAndGlyphs">1600</text>
<text x="611.8" y="566.9" font-size="13" textLength="118.3" lengthAdjust="spacingAndGlyphs">Wavenumber (cm<tspan font-size="8.1" dy="-5.5">-1</tspan><tspan dy="5.5">)</tspan></text>
</g>
</svg></body></html>
